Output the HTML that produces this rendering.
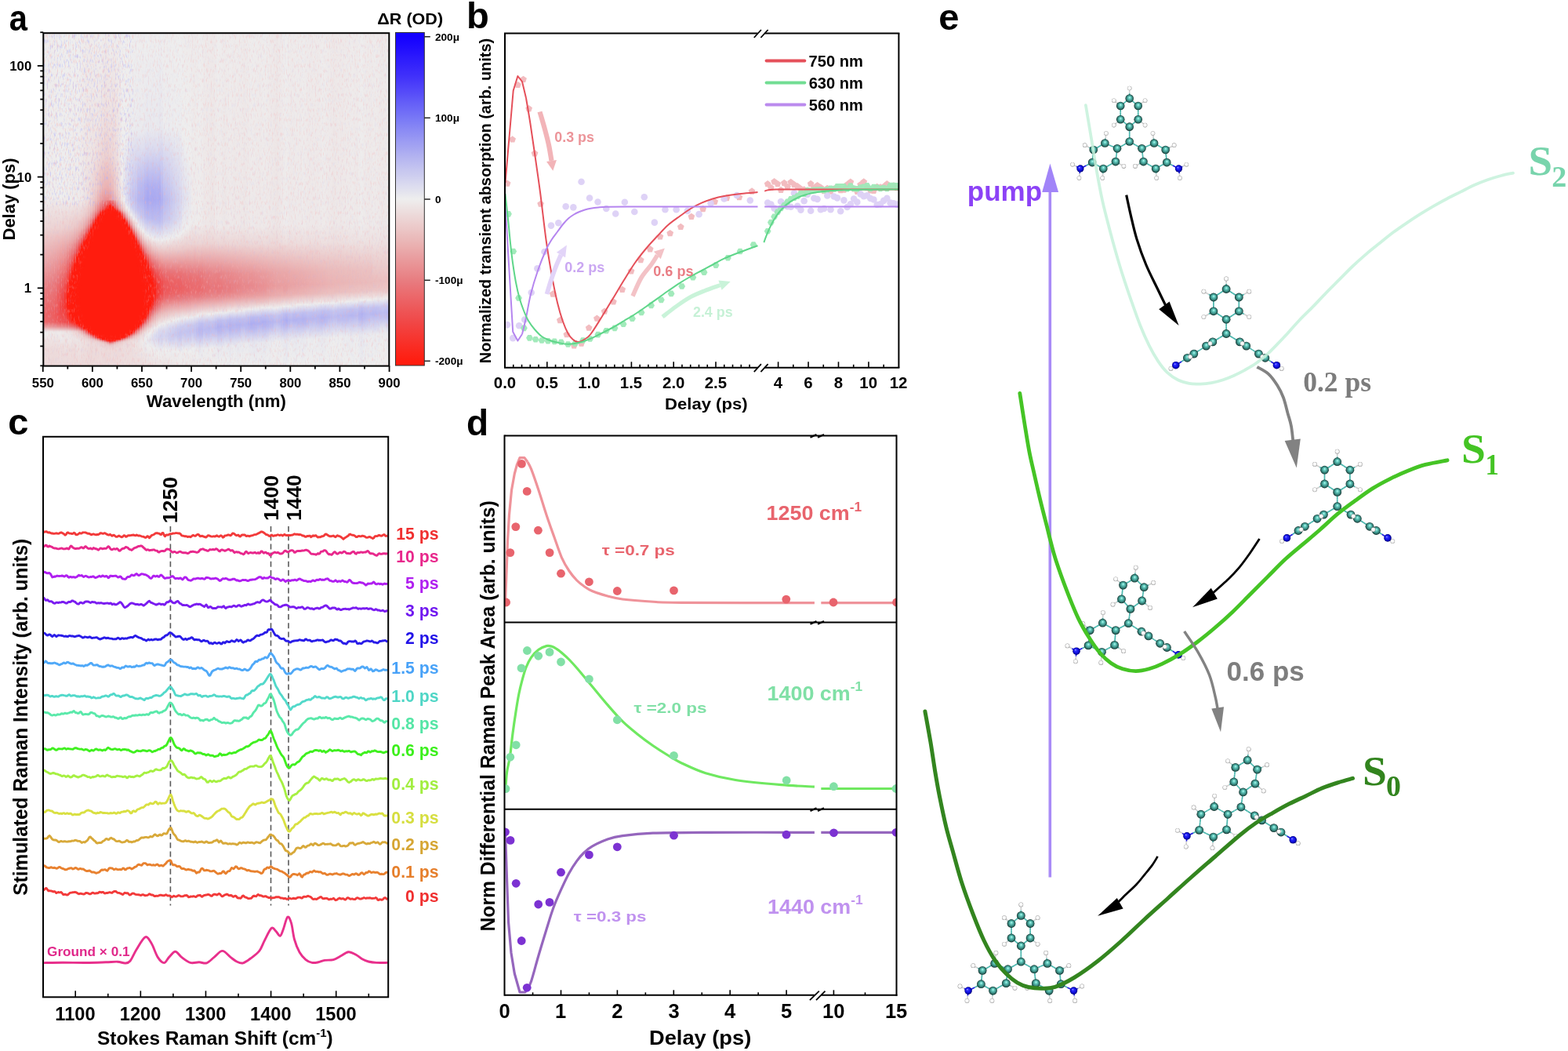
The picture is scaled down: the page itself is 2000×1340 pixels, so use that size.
<!DOCTYPE html>
<html><head><meta charset="utf-8"><title>Figure</title>
<style>html,body{margin:0;padding:0;background:#fff;overflow:hidden;width:2000px;height:1340px;}svg{display:block;}</style></head>
<body><svg width="2000" height="1340" viewBox="0 0 2000 1340">
<rect width="2000" height="1340" fill="#fff"/>
<defs><linearGradient id="h0" x1="0" y1="0" x2="0" y2="1"><stop offset="0.000" stop-color="#eeeeee"/><stop offset="0.491" stop-color="#eeeeee"/><stop offset="0.586" stop-color="#ecd6d6"/><stop offset="0.774" stop-color="#e87c80"/><stop offset="0.845" stop-color="#eb6769"/><stop offset="0.869" stop-color="#eb6b6e"/><stop offset="0.883" stop-color="#e99c9d"/><stop offset="0.897" stop-color="#ede7e7"/><stop offset="0.902" stop-color="#eeeded"/><stop offset="0.949" stop-color="#eddcdc"/><stop offset="0.996" stop-color="#eddbdb"/></linearGradient><linearGradient id="h1" x1="0" y1="0" x2="0" y2="1"><stop offset="0.000" stop-color="#eeeeee"/><stop offset="0.491" stop-color="#eeeeee"/><stop offset="0.586" stop-color="#ecd6d6"/><stop offset="0.770" stop-color="#e87b7f"/><stop offset="0.845" stop-color="#ec6466"/><stop offset="0.869" stop-color="#eb686b"/><stop offset="0.883" stop-color="#e99a9c"/><stop offset="0.897" stop-color="#ede6e6"/><stop offset="0.902" stop-color="#eeecec"/><stop offset="0.949" stop-color="#eddcdc"/><stop offset="0.996" stop-color="#eddbdb"/></linearGradient><linearGradient id="h2" x1="0" y1="0" x2="0" y2="1"><stop offset="0.000" stop-color="#eeeded"/><stop offset="0.491" stop-color="#eeeded"/><stop offset="0.586" stop-color="#ecd5d5"/><stop offset="0.760" stop-color="#e87d81"/><stop offset="0.845" stop-color="#ec6264"/><stop offset="0.869" stop-color="#eb676a"/><stop offset="0.883" stop-color="#e9989a"/><stop offset="0.897" stop-color="#ede5e5"/><stop offset="0.902" stop-color="#eeebeb"/><stop offset="0.949" stop-color="#eddcdc"/><stop offset="0.996" stop-color="#eddada"/></linearGradient><linearGradient id="h3" x1="0" y1="0" x2="0" y2="1"><stop offset="0.000" stop-color="#eeecec"/><stop offset="0.491" stop-color="#eeecec"/><stop offset="0.586" stop-color="#ecd3d3"/><stop offset="0.756" stop-color="#e87d81"/><stop offset="0.845" stop-color="#ec6062"/><stop offset="0.869" stop-color="#eb6668"/><stop offset="0.883" stop-color="#e99799"/><stop offset="0.897" stop-color="#ede4e4"/><stop offset="0.902" stop-color="#eeeaea"/><stop offset="0.949" stop-color="#eddbdb"/><stop offset="0.996" stop-color="#ecdada"/></linearGradient><linearGradient id="h4" x1="0" y1="0" x2="0" y2="1"><stop offset="0.000" stop-color="#eeecec"/><stop offset="0.491" stop-color="#eeecec"/><stop offset="0.586" stop-color="#ecd3d3"/><stop offset="0.751" stop-color="#e87b7f"/><stop offset="0.845" stop-color="#ed5d5e"/><stop offset="0.869" stop-color="#ec6365"/><stop offset="0.883" stop-color="#e99497"/><stop offset="0.897" stop-color="#ede3e3"/><stop offset="0.902" stop-color="#eee9e9"/><stop offset="0.949" stop-color="#eddbdb"/><stop offset="0.996" stop-color="#ecd9d9"/></linearGradient><linearGradient id="h5" x1="0" y1="0" x2="0" y2="1"><stop offset="0.000" stop-color="#eeecec"/><stop offset="0.491" stop-color="#eeecec"/><stop offset="0.586" stop-color="#ecd2d2"/><stop offset="0.751" stop-color="#e9767a"/><stop offset="0.845" stop-color="#ed585a"/><stop offset="0.869" stop-color="#ec5f61"/><stop offset="0.883" stop-color="#e99294"/><stop offset="0.897" stop-color="#ede2e2"/><stop offset="0.902" stop-color="#eee9e9"/><stop offset="0.949" stop-color="#eddbdb"/><stop offset="0.996" stop-color="#ecdada"/></linearGradient><linearGradient id="h6" x1="0" y1="0" x2="0" y2="1"><stop offset="0.000" stop-color="#eeeeee"/><stop offset="0.491" stop-color="#eeeeee"/><stop offset="0.586" stop-color="#ecd2d2"/><stop offset="0.756" stop-color="#ea6c6f"/><stop offset="0.793" stop-color="#ed5b5c"/><stop offset="0.845" stop-color="#ef5051"/><stop offset="0.869" stop-color="#ed585a"/><stop offset="0.883" stop-color="#e98e90"/><stop offset="0.897" stop-color="#ede3e3"/><stop offset="0.902" stop-color="#eeeaea"/><stop offset="0.949" stop-color="#eddcdc"/><stop offset="0.996" stop-color="#eddbdb"/></linearGradient><linearGradient id="h7" x1="0" y1="0" x2="0" y2="1"><stop offset="0.000" stop-color="#ececee"/><stop offset="0.496" stop-color="#eeeeee"/><stop offset="0.586" stop-color="#ecd2d2"/><stop offset="0.751" stop-color="#eb6668"/><stop offset="0.789" stop-color="#ef5252"/><stop offset="0.826" stop-color="#f04848"/><stop offset="0.869" stop-color="#ee5354"/><stop offset="0.883" stop-color="#e88a8d"/><stop offset="0.897" stop-color="#ede3e3"/><stop offset="0.902" stop-color="#eeeaea"/><stop offset="0.921" stop-color="#eeeaea"/><stop offset="0.949" stop-color="#eddddd"/><stop offset="0.996" stop-color="#eddcdc"/></linearGradient><linearGradient id="h8" x1="0" y1="0" x2="0" y2="1"><stop offset="0.000" stop-color="#eeeeee"/><stop offset="0.491" stop-color="#eeeded"/><stop offset="0.586" stop-color="#ecd0d0"/><stop offset="0.756" stop-color="#ed5b5c"/><stop offset="0.789" stop-color="#f04848"/><stop offset="0.826" stop-color="#f24240"/><stop offset="0.869" stop-color="#ef5252"/><stop offset="0.883" stop-color="#e8898c"/><stop offset="0.897" stop-color="#ede0e0"/><stop offset="0.902" stop-color="#eee8e8"/><stop offset="0.921" stop-color="#eee8e8"/><stop offset="0.949" stop-color="#eddcdc"/><stop offset="0.996" stop-color="#eddbdb"/></linearGradient><linearGradient id="h9" x1="0" y1="0" x2="0" y2="1"><stop offset="0.000" stop-color="#eeeded"/><stop offset="0.491" stop-color="#eeeded"/><stop offset="0.586" stop-color="#eccfcf"/><stop offset="0.652" stop-color="#e9a1a3"/><stop offset="0.760" stop-color="#f04a4a"/><stop offset="0.789" stop-color="#f53a35"/><stop offset="0.826" stop-color="#f63631"/><stop offset="0.869" stop-color="#ef4e4e"/><stop offset="0.883" stop-color="#e88689"/><stop offset="0.897" stop-color="#eddede"/><stop offset="0.902" stop-color="#ede6e6"/><stop offset="0.996" stop-color="#eddada"/></linearGradient><linearGradient id="h10" x1="0" y1="0" x2="0" y2="1"><stop offset="0.000" stop-color="#eeeeee"/><stop offset="0.501" stop-color="#eeecec"/><stop offset="0.581" stop-color="#ecd0d0"/><stop offset="0.619" stop-color="#eab7b7"/><stop offset="0.694" stop-color="#ea7174"/><stop offset="0.751" stop-color="#f53934"/><stop offset="0.793" stop-color="#ff1d0f"/><stop offset="0.826" stop-color="#fe1f12"/><stop offset="0.869" stop-color="#f14443"/><stop offset="0.883" stop-color="#e87f83"/><stop offset="0.897" stop-color="#eddddd"/><stop offset="0.902" stop-color="#ede5e5"/><stop offset="0.921" stop-color="#eee8e8"/><stop offset="0.949" stop-color="#eddcdc"/><stop offset="0.996" stop-color="#eddbdb"/></linearGradient><linearGradient id="h11" x1="0" y1="0" x2="0" y2="1"><stop offset="0.000" stop-color="#ededee"/><stop offset="0.501" stop-color="#eeecec"/><stop offset="0.586" stop-color="#ebcccc"/><stop offset="0.623" stop-color="#eaafb0"/><stop offset="0.694" stop-color="#ec5f61"/><stop offset="0.751" stop-color="#ff1c0e"/><stop offset="0.845" stop-color="#ff1c0e"/><stop offset="0.850" stop-color="#fd2114"/><stop offset="0.869" stop-color="#f53a35"/><stop offset="0.883" stop-color="#e9797c"/><stop offset="0.897" stop-color="#eddada"/><stop offset="0.902" stop-color="#ede3e3"/><stop offset="0.921" stop-color="#eee8e8"/><stop offset="0.949" stop-color="#eddddd"/><stop offset="0.996" stop-color="#eddbdb"/></linearGradient><linearGradient id="h12" x1="0" y1="0" x2="0" y2="1"><stop offset="0.000" stop-color="#eeeeee"/><stop offset="0.501" stop-color="#eeebeb"/><stop offset="0.586" stop-color="#ebcaca"/><stop offset="0.623" stop-color="#e9a9aa"/><stop offset="0.666" stop-color="#ea7175"/><stop offset="0.723" stop-color="#ff1c0e"/><stop offset="0.860" stop-color="#ff1c0e"/><stop offset="0.864" stop-color="#fe2013"/><stop offset="0.869" stop-color="#f92d25"/><stop offset="0.883" stop-color="#ea7275"/><stop offset="0.897" stop-color="#ecd5d5"/><stop offset="0.902" stop-color="#eddfdf"/><stop offset="0.921" stop-color="#ede6e6"/><stop offset="0.949" stop-color="#eddcdc"/><stop offset="0.996" stop-color="#eddbdb"/></linearGradient><linearGradient id="h13" x1="0" y1="0" x2="0" y2="1"><stop offset="0.000" stop-color="#eeeded"/><stop offset="0.501" stop-color="#eeeaea"/><stop offset="0.581" stop-color="#ebc9c9"/><stop offset="0.619" stop-color="#e9a6a7"/><stop offset="0.656" stop-color="#ea6d70"/><stop offset="0.699" stop-color="#ff1c0e"/><stop offset="0.869" stop-color="#ff1c0e"/><stop offset="0.883" stop-color="#eb6669"/><stop offset="0.897" stop-color="#eccfcf"/><stop offset="0.902" stop-color="#eddada"/><stop offset="0.921" stop-color="#ede4e4"/><stop offset="0.949" stop-color="#eddbdb"/><stop offset="0.996" stop-color="#eddada"/></linearGradient><linearGradient id="h14" x1="0" y1="0" x2="0" y2="1"><stop offset="0.000" stop-color="#eeeeee"/><stop offset="0.501" stop-color="#eeebeb"/><stop offset="0.581" stop-color="#ebc6c6"/><stop offset="0.609" stop-color="#e9a8a9"/><stop offset="0.628" stop-color="#e8898d"/><stop offset="0.647" stop-color="#ec6366"/><stop offset="0.661" stop-color="#f24240"/><stop offset="0.675" stop-color="#ff1c0e"/><stop offset="0.874" stop-color="#ff1c0e"/><stop offset="0.883" stop-color="#ef5152"/><stop offset="0.888" stop-color="#e8797d"/><stop offset="0.897" stop-color="#ebc7c7"/><stop offset="0.902" stop-color="#ecd4d4"/><stop offset="0.921" stop-color="#ede4e4"/><stop offset="0.996" stop-color="#eddbdb"/></linearGradient><linearGradient id="h15" x1="0" y1="0" x2="0" y2="1"><stop offset="0.000" stop-color="#eeeeee"/><stop offset="0.501" stop-color="#eeeaea"/><stop offset="0.557" stop-color="#ecd1d1"/><stop offset="0.595" stop-color="#eab1b1"/><stop offset="0.628" stop-color="#ea7275"/><stop offset="0.647" stop-color="#f33e3b"/><stop offset="0.656" stop-color="#fd2216"/><stop offset="0.661" stop-color="#ff1c0e"/><stop offset="0.878" stop-color="#ff1c0e"/><stop offset="0.883" stop-color="#f7342e"/><stop offset="0.888" stop-color="#ec6264"/><stop offset="0.897" stop-color="#eababa"/><stop offset="0.907" stop-color="#ecd4d4"/><stop offset="0.926" stop-color="#ede4e4"/><stop offset="0.996" stop-color="#eddbdb"/></linearGradient><linearGradient id="h16" x1="0" y1="0" x2="0" y2="1"><stop offset="0.000" stop-color="#eeecec"/><stop offset="0.501" stop-color="#eee8e8"/><stop offset="0.553" stop-color="#eccfcf"/><stop offset="0.586" stop-color="#eab4b4"/><stop offset="0.619" stop-color="#ea6e70"/><stop offset="0.628" stop-color="#ef5151"/><stop offset="0.642" stop-color="#fe1f11"/><stop offset="0.647" stop-color="#ff1c0e"/><stop offset="0.883" stop-color="#ff1c0e"/><stop offset="0.888" stop-color="#f2413f"/><stop offset="0.893" stop-color="#e97477"/><stop offset="0.897" stop-color="#e9a5a6"/><stop offset="0.902" stop-color="#eabcbc"/><stop offset="0.911" stop-color="#ecd4d4"/><stop offset="0.926" stop-color="#ede1e1"/><stop offset="0.996" stop-color="#eddada"/></linearGradient><linearGradient id="h17" x1="0" y1="0" x2="0" y2="1"><stop offset="0.000" stop-color="#eeebeb"/><stop offset="0.501" stop-color="#ede5e5"/><stop offset="0.553" stop-color="#ebcaca"/><stop offset="0.586" stop-color="#e9a5a6"/><stop offset="0.609" stop-color="#eb6769"/><stop offset="0.619" stop-color="#f14646"/><stop offset="0.628" stop-color="#fd2115"/><stop offset="0.633" stop-color="#ff1c0e"/><stop offset="0.888" stop-color="#ff1c0e"/><stop offset="0.897" stop-color="#e88386"/><stop offset="0.907" stop-color="#eabcbc"/><stop offset="0.916" stop-color="#ecd4d4"/><stop offset="0.926" stop-color="#eddfdf"/><stop offset="0.996" stop-color="#ecd9d9"/></linearGradient><linearGradient id="h18" x1="0" y1="0" x2="0" y2="1"><stop offset="0.000" stop-color="#eeeaea"/><stop offset="0.501" stop-color="#ede1e1"/><stop offset="0.548" stop-color="#ebc6c6"/><stop offset="0.576" stop-color="#e9a3a4"/><stop offset="0.595" stop-color="#ea6f73"/><stop offset="0.614" stop-color="#fc261b"/><stop offset="0.619" stop-color="#ff1c0e"/><stop offset="0.893" stop-color="#ff1c0e"/><stop offset="0.897" stop-color="#ee5354"/><stop offset="0.907" stop-color="#e9a5a6"/><stop offset="0.911" stop-color="#eabebe"/><stop offset="0.921" stop-color="#ecd7d7"/><stop offset="0.930" stop-color="#eddede"/><stop offset="0.996" stop-color="#ecd9d9"/></linearGradient><linearGradient id="h19" x1="0" y1="0" x2="0" y2="1"><stop offset="0.000" stop-color="#eeeaea"/><stop offset="0.373" stop-color="#ede6e6"/><stop offset="0.501" stop-color="#eddbdb"/><stop offset="0.548" stop-color="#eabcbc"/><stop offset="0.571" stop-color="#e99496"/><stop offset="0.586" stop-color="#eb6a6d"/><stop offset="0.595" stop-color="#f2413f"/><stop offset="0.600" stop-color="#fa2920"/><stop offset="0.604" stop-color="#ff1c0e"/><stop offset="0.897" stop-color="#ff1c0e"/><stop offset="0.902" stop-color="#f04848"/><stop offset="0.907" stop-color="#e88084"/><stop offset="0.911" stop-color="#e9a9aa"/><stop offset="0.921" stop-color="#ecd2d2"/><stop offset="0.930" stop-color="#eddcdc"/><stop offset="0.996" stop-color="#ecd8d8"/></linearGradient><linearGradient id="h20" x1="0" y1="0" x2="0" y2="1"><stop offset="0.000" stop-color="#eeebeb"/><stop offset="0.373" stop-color="#ede4e4"/><stop offset="0.501" stop-color="#ecd5d5"/><stop offset="0.534" stop-color="#ebbfbf"/><stop offset="0.557" stop-color="#e9989a"/><stop offset="0.576" stop-color="#ed5e60"/><stop offset="0.581" stop-color="#f04a4a"/><stop offset="0.590" stop-color="#ff1c0e"/><stop offset="0.902" stop-color="#ff1c0e"/><stop offset="0.907" stop-color="#f04949"/><stop offset="0.911" stop-color="#e88488"/><stop offset="0.921" stop-color="#ebcaca"/><stop offset="0.926" stop-color="#ecd7d7"/><stop offset="0.996" stop-color="#ecd9d9"/></linearGradient><linearGradient id="h21" x1="0" y1="0" x2="0" y2="1"><stop offset="0.000" stop-color="#eeecec"/><stop offset="0.368" stop-color="#ede2e2"/><stop offset="0.491" stop-color="#eccfcf"/><stop offset="0.529" stop-color="#eab6b6"/><stop offset="0.548" stop-color="#e99194"/><stop offset="0.557" stop-color="#e97477"/><stop offset="0.567" stop-color="#ef4d4d"/><stop offset="0.576" stop-color="#fd2216"/><stop offset="0.581" stop-color="#ff1c0e"/><stop offset="0.907" stop-color="#ff1c0e"/><stop offset="0.911" stop-color="#ef4e4f"/><stop offset="0.916" stop-color="#e8898c"/><stop offset="0.921" stop-color="#eabebe"/><stop offset="0.926" stop-color="#ecd3d3"/><stop offset="0.935" stop-color="#eddbdb"/><stop offset="0.996" stop-color="#ecdada"/></linearGradient><linearGradient id="h22" x1="0" y1="0" x2="0" y2="1"><stop offset="0.000" stop-color="#eeecec"/><stop offset="0.255" stop-color="#ede6e6"/><stop offset="0.373" stop-color="#eddede"/><stop offset="0.468" stop-color="#eccece"/><stop offset="0.501" stop-color="#ebc0c0"/><stop offset="0.534" stop-color="#e9989a"/><stop offset="0.548" stop-color="#eb6b6e"/><stop offset="0.557" stop-color="#f2413f"/><stop offset="0.562" stop-color="#fc261b"/><stop offset="0.567" stop-color="#ff1c0e"/><stop offset="0.911" stop-color="#ff1c0e"/><stop offset="0.916" stop-color="#ee5555"/><stop offset="0.921" stop-color="#e9a7a9"/><stop offset="0.926" stop-color="#ebcbcb"/><stop offset="0.930" stop-color="#ecd7d7"/><stop offset="0.996" stop-color="#eddada"/></linearGradient><linearGradient id="h23" x1="0" y1="0" x2="0" y2="1"><stop offset="0.000" stop-color="#eeeeee"/><stop offset="0.255" stop-color="#ede5e5"/><stop offset="0.373" stop-color="#eddbdb"/><stop offset="0.468" stop-color="#ebc5c5"/><stop offset="0.501" stop-color="#eab2b2"/><stop offset="0.529" stop-color="#e8888b"/><stop offset="0.534" stop-color="#e8797d"/><stop offset="0.543" stop-color="#ef4d4d"/><stop offset="0.553" stop-color="#ff1d10"/><stop offset="0.557" stop-color="#ff1c0e"/><stop offset="0.916" stop-color="#ff1c0e"/><stop offset="0.921" stop-color="#e88185"/><stop offset="0.926" stop-color="#ebbfbf"/><stop offset="0.930" stop-color="#ecd3d3"/><stop offset="0.940" stop-color="#eddbdb"/><stop offset="0.996" stop-color="#eddbdb"/></linearGradient><linearGradient id="h24" x1="0" y1="0" x2="0" y2="1"><stop offset="0.000" stop-color="#eeeeee"/><stop offset="0.255" stop-color="#ede4e4"/><stop offset="0.373" stop-color="#ecd7d7"/><stop offset="0.468" stop-color="#eabcbc"/><stop offset="0.501" stop-color="#e9a3a5"/><stop offset="0.524" stop-color="#e9777b"/><stop offset="0.529" stop-color="#eb6b6e"/><stop offset="0.534" stop-color="#ee5556"/><stop offset="0.538" stop-color="#f7332c"/><stop offset="0.543" stop-color="#ff1c0e"/><stop offset="0.916" stop-color="#ff1c0e"/><stop offset="0.921" stop-color="#f04949"/><stop offset="0.926" stop-color="#eaaaab"/><stop offset="0.930" stop-color="#ebcbcb"/><stop offset="0.935" stop-color="#ecd6d6"/><stop offset="0.945" stop-color="#eddbdb"/><stop offset="0.996" stop-color="#eddbdb"/></linearGradient><linearGradient id="h25" x1="0" y1="0" x2="0" y2="1"><stop offset="0.000" stop-color="#eeecec"/><stop offset="0.255" stop-color="#ede1e1"/><stop offset="0.373" stop-color="#ecd3d3"/><stop offset="0.463" stop-color="#eab7b7"/><stop offset="0.501" stop-color="#e9999b"/><stop offset="0.505" stop-color="#e8888b"/><stop offset="0.524" stop-color="#ec6264"/><stop offset="0.529" stop-color="#ef4e4e"/><stop offset="0.534" stop-color="#f82f27"/><stop offset="0.538" stop-color="#ff1c0e"/><stop offset="0.921" stop-color="#ff1c0e"/><stop offset="0.926" stop-color="#e8898c"/><stop offset="0.930" stop-color="#ebc0c0"/><stop offset="0.935" stop-color="#ecd0d0"/><stop offset="0.949" stop-color="#eddada"/><stop offset="0.996" stop-color="#eddada"/></linearGradient><linearGradient id="h26" x1="0" y1="0" x2="0" y2="1"><stop offset="0.000" stop-color="#eeeaea"/><stop offset="0.255" stop-color="#eddede"/><stop offset="0.373" stop-color="#ecd0d0"/><stop offset="0.463" stop-color="#eab3b3"/><stop offset="0.501" stop-color="#e99496"/><stop offset="0.505" stop-color="#e87e82"/><stop offset="0.524" stop-color="#f04a4a"/><stop offset="0.529" stop-color="#f92e26"/><stop offset="0.534" stop-color="#ff1c0e"/><stop offset="0.921" stop-color="#ff1c0e"/><stop offset="0.926" stop-color="#ed5a5c"/><stop offset="0.930" stop-color="#eaadae"/><stop offset="0.935" stop-color="#ebc8c8"/><stop offset="0.949" stop-color="#ecd8d8"/><stop offset="0.996" stop-color="#ecd9d9"/></linearGradient><linearGradient id="h27" x1="0" y1="0" x2="0" y2="1"><stop offset="0.000" stop-color="#eeebeb"/><stop offset="0.255" stop-color="#eddfdf"/><stop offset="0.373" stop-color="#ecd0d0"/><stop offset="0.463" stop-color="#eab2b3"/><stop offset="0.501" stop-color="#e99294"/><stop offset="0.505" stop-color="#e97578"/><stop offset="0.515" stop-color="#ee5657"/><stop offset="0.524" stop-color="#fa2920"/><stop offset="0.529" stop-color="#ff1c0e"/><stop offset="0.926" stop-color="#ff1c0e"/><stop offset="0.930" stop-color="#e98d90"/><stop offset="0.935" stop-color="#eabdbd"/><stop offset="0.940" stop-color="#eccfcf"/><stop offset="0.954" stop-color="#eddada"/><stop offset="0.996" stop-color="#eddada"/></linearGradient><linearGradient id="h28" x1="0" y1="0" x2="0" y2="1"><stop offset="0.000" stop-color="#eeeded"/><stop offset="0.250" stop-color="#ede2e2"/><stop offset="0.368" stop-color="#ecd4d4"/><stop offset="0.463" stop-color="#eab6b7"/><stop offset="0.501" stop-color="#e99698"/><stop offset="0.505" stop-color="#ea6d6f"/><stop offset="0.515" stop-color="#f33f3d"/><stop offset="0.519" stop-color="#fe2013"/><stop offset="0.524" stop-color="#ff1c0e"/><stop offset="0.926" stop-color="#ff1c0e"/><stop offset="0.930" stop-color="#ed595a"/><stop offset="0.935" stop-color="#e9a9aa"/><stop offset="0.940" stop-color="#ebc8c8"/><stop offset="0.945" stop-color="#ecd4d4"/><stop offset="0.954" stop-color="#eddbdb"/><stop offset="0.996" stop-color="#eddbdb"/></linearGradient><linearGradient id="h29" x1="0" y1="0" x2="0" y2="1"><stop offset="0.000" stop-color="#eeeded"/><stop offset="0.368" stop-color="#ecd7d7"/><stop offset="0.468" stop-color="#eabcbc"/><stop offset="0.501" stop-color="#e9a2a4"/><stop offset="0.505" stop-color="#e87c80"/><stop offset="0.515" stop-color="#ee5455"/><stop offset="0.524" stop-color="#ff1c0e"/><stop offset="0.926" stop-color="#ff1c0e"/><stop offset="0.930" stop-color="#ea6d6f"/><stop offset="0.935" stop-color="#eab1b2"/><stop offset="0.940" stop-color="#ebcbcb"/><stop offset="0.954" stop-color="#eddbdb"/><stop offset="0.996" stop-color="#eddbdb"/></linearGradient><linearGradient id="h30" x1="0" y1="0" x2="0" y2="1"><stop offset="0.000" stop-color="#eeecec"/><stop offset="0.368" stop-color="#eddbdb"/><stop offset="0.468" stop-color="#ebc7c7"/><stop offset="0.501" stop-color="#eab3b3"/><stop offset="0.505" stop-color="#e9999b"/><stop offset="0.519" stop-color="#eb686a"/><stop offset="0.524" stop-color="#ef5051"/><stop offset="0.529" stop-color="#fc261b"/><stop offset="0.534" stop-color="#ff1c0e"/><stop offset="0.921" stop-color="#ff1c0e"/><stop offset="0.926" stop-color="#fa2c23"/><stop offset="0.930" stop-color="#e9999b"/><stop offset="0.935" stop-color="#ebc2c2"/><stop offset="0.940" stop-color="#ecd1d1"/><stop offset="0.954" stop-color="#eddbdb"/><stop offset="0.996" stop-color="#eddada"/></linearGradient><linearGradient id="h31" x1="0" y1="0" x2="0" y2="1"><stop offset="0.000" stop-color="#eeecec"/><stop offset="0.373" stop-color="#ede0e0"/><stop offset="0.468" stop-color="#ecd3d3"/><stop offset="0.501" stop-color="#ebc4c4"/><stop offset="0.515" stop-color="#e99ea0"/><stop offset="0.524" stop-color="#e87f83"/><stop offset="0.529" stop-color="#ec6163"/><stop offset="0.534" stop-color="#f7322b"/><stop offset="0.538" stop-color="#ff1c0e"/><stop offset="0.921" stop-color="#ff1c0e"/><stop offset="0.926" stop-color="#eb6b6d"/><stop offset="0.930" stop-color="#eab5b5"/><stop offset="0.935" stop-color="#ebcccc"/><stop offset="0.949" stop-color="#eddada"/><stop offset="0.996" stop-color="#eddbdb"/></linearGradient><linearGradient id="h32" x1="0" y1="0" x2="0" y2="1"><stop offset="0.000" stop-color="#eeecec"/><stop offset="0.373" stop-color="#ede6e6"/><stop offset="0.463" stop-color="#ede0e0"/><stop offset="0.501" stop-color="#ecd4d4"/><stop offset="0.524" stop-color="#e9a8a9"/><stop offset="0.529" stop-color="#e99395"/><stop offset="0.534" stop-color="#ea7074"/><stop offset="0.538" stop-color="#f43d3a"/><stop offset="0.543" stop-color="#ff1c0e"/><stop offset="0.916" stop-color="#ff1c0e"/><stop offset="0.921" stop-color="#fd2114"/><stop offset="0.926" stop-color="#e99799"/><stop offset="0.930" stop-color="#ebc4c4"/><stop offset="0.935" stop-color="#ecd2d2"/><stop offset="0.954" stop-color="#eddbdb"/><stop offset="0.996" stop-color="#eddbdb"/></linearGradient><linearGradient id="h33" x1="0" y1="0" x2="0" y2="1"><stop offset="0.000" stop-color="#eeeded"/><stop offset="0.449" stop-color="#eeeded"/><stop offset="0.501" stop-color="#ede5e5"/><stop offset="0.524" stop-color="#ebc6c6"/><stop offset="0.529" stop-color="#eab9b9"/><stop offset="0.534" stop-color="#e9a3a4"/><stop offset="0.543" stop-color="#ed5c5e"/><stop offset="0.553" stop-color="#ff1c0e"/><stop offset="0.916" stop-color="#ff1c0e"/><stop offset="0.921" stop-color="#ec6163"/><stop offset="0.926" stop-color="#eab3b4"/><stop offset="0.930" stop-color="#eccece"/><stop offset="0.945" stop-color="#eddbdb"/><stop offset="0.996" stop-color="#eddcdc"/></linearGradient><linearGradient id="h34" x1="0" y1="0" x2="0" y2="1"><stop offset="0.000" stop-color="#eeeeee"/><stop offset="0.321" stop-color="#eeeeee"/><stop offset="0.463" stop-color="#e3e3ee"/><stop offset="0.505" stop-color="#eeeded"/><stop offset="0.524" stop-color="#eddddd"/><stop offset="0.534" stop-color="#ebc7c7"/><stop offset="0.548" stop-color="#e87f82"/><stop offset="0.553" stop-color="#ec6163"/><stop offset="0.562" stop-color="#ff1c0e"/><stop offset="0.911" stop-color="#ff1c0e"/><stop offset="0.916" stop-color="#fc2318"/><stop offset="0.921" stop-color="#e98f92"/><stop offset="0.926" stop-color="#ebc5c5"/><stop offset="0.930" stop-color="#ecd5d5"/><stop offset="0.940" stop-color="#eddddd"/><stop offset="0.996" stop-color="#eddddd"/></linearGradient><linearGradient id="h35" x1="0" y1="0" x2="0" y2="1"><stop offset="0.000" stop-color="#eeeded"/><stop offset="0.298" stop-color="#eeeeee"/><stop offset="0.468" stop-color="#dbdbef"/><stop offset="0.501" stop-color="#ddddef"/><stop offset="0.524" stop-color="#eeeeee"/><stop offset="0.534" stop-color="#eddfdf"/><stop offset="0.553" stop-color="#e9a0a2"/><stop offset="0.557" stop-color="#e88589"/><stop offset="0.571" stop-color="#fa2a21"/><stop offset="0.576" stop-color="#ff1c0e"/><stop offset="0.911" stop-color="#ff1c0e"/><stop offset="0.916" stop-color="#eb6668"/><stop offset="0.921" stop-color="#eab0b1"/><stop offset="0.926" stop-color="#eccfcf"/><stop offset="0.935" stop-color="#eddcdc"/><stop offset="0.996" stop-color="#eddddd"/></linearGradient><linearGradient id="h36" x1="0" y1="0" x2="0" y2="1"><stop offset="0.000" stop-color="#eeeeee"/><stop offset="0.288" stop-color="#ececee"/><stop offset="0.482" stop-color="#d2d2ef"/><stop offset="0.501" stop-color="#d2d2ef"/><stop offset="0.534" stop-color="#ebebee"/><stop offset="0.548" stop-color="#ecd5d5"/><stop offset="0.557" stop-color="#eab9b9"/><stop offset="0.562" stop-color="#e9a3a5"/><stop offset="0.576" stop-color="#ed5b5c"/><stop offset="0.586" stop-color="#ff1c0e"/><stop offset="0.907" stop-color="#ff1c0e"/><stop offset="0.911" stop-color="#ed5f60"/><stop offset="0.916" stop-color="#e99497"/><stop offset="0.921" stop-color="#ebc3c3"/><stop offset="0.926" stop-color="#ecd6d6"/><stop offset="0.935" stop-color="#eddede"/><stop offset="0.996" stop-color="#eddddd"/></linearGradient><linearGradient id="h37" x1="0" y1="0" x2="0" y2="1"><stop offset="0.000" stop-color="#eeeeee"/><stop offset="0.288" stop-color="#ebebee"/><stop offset="0.491" stop-color="#c8c8ef"/><stop offset="0.524" stop-color="#d3d3ef"/><stop offset="0.543" stop-color="#eaeaee"/><stop offset="0.548" stop-color="#eeebeb"/><stop offset="0.557" stop-color="#ecd8d8"/><stop offset="0.576" stop-color="#e99b9d"/><stop offset="0.586" stop-color="#eb6a6c"/><stop offset="0.595" stop-color="#f92d24"/><stop offset="0.600" stop-color="#ff1c0e"/><stop offset="0.902" stop-color="#ff1c0e"/><stop offset="0.907" stop-color="#ee5657"/><stop offset="0.911" stop-color="#e98f91"/><stop offset="0.921" stop-color="#eccfcf"/><stop offset="0.926" stop-color="#eddbdb"/><stop offset="0.996" stop-color="#eddede"/></linearGradient><linearGradient id="h38" x1="0" y1="0" x2="0" y2="1"><stop offset="0.000" stop-color="#eeeded"/><stop offset="0.288" stop-color="#ebebee"/><stop offset="0.496" stop-color="#c3c3f0"/><stop offset="0.529" stop-color="#cfcfef"/><stop offset="0.557" stop-color="#eeeded"/><stop offset="0.576" stop-color="#ebc6c6"/><stop offset="0.586" stop-color="#e9a6a7"/><stop offset="0.595" stop-color="#e9777b"/><stop offset="0.609" stop-color="#fb291f"/><stop offset="0.614" stop-color="#ff1c0e"/><stop offset="0.893" stop-color="#ff1c0e"/><stop offset="0.897" stop-color="#fd2317"/><stop offset="0.907" stop-color="#e88a8d"/><stop offset="0.911" stop-color="#eab0b1"/><stop offset="0.921" stop-color="#ecd6d6"/><stop offset="0.930" stop-color="#ede0e0"/><stop offset="0.996" stop-color="#eddede"/></linearGradient><linearGradient id="h39" x1="0" y1="0" x2="0" y2="1"><stop offset="0.000" stop-color="#eeeded"/><stop offset="0.283" stop-color="#ebebee"/><stop offset="0.501" stop-color="#bebef0"/><stop offset="0.534" stop-color="#cbcbef"/><stop offset="0.567" stop-color="#eeeeee"/><stop offset="0.581" stop-color="#ecd6d6"/><stop offset="0.595" stop-color="#eaaeae"/><stop offset="0.609" stop-color="#ea7174"/><stop offset="0.623" stop-color="#fb281e"/><stop offset="0.628" stop-color="#ff1c0e"/><stop offset="0.888" stop-color="#ff1c0e"/><stop offset="0.893" stop-color="#f7352e"/><stop offset="0.897" stop-color="#ec6466"/><stop offset="0.907" stop-color="#eaadad"/><stop offset="0.911" stop-color="#ebc3c3"/><stop offset="0.921" stop-color="#eddbdb"/><stop offset="0.930" stop-color="#ede2e2"/><stop offset="0.996" stop-color="#eddede"/></linearGradient><linearGradient id="h40" x1="0" y1="0" x2="0" y2="1"><stop offset="0.000" stop-color="#eeeeee"/><stop offset="0.288" stop-color="#eaeaee"/><stop offset="0.349" stop-color="#dedeef"/><stop offset="0.458" stop-color="#bcbcf0"/><stop offset="0.501" stop-color="#b7b7f0"/><stop offset="0.534" stop-color="#c3c3f0"/><stop offset="0.576" stop-color="#ebebee"/><stop offset="0.581" stop-color="#eeeaea"/><stop offset="0.590" stop-color="#ecd9d9"/><stop offset="0.609" stop-color="#e9a5a7"/><stop offset="0.623" stop-color="#ea6c6f"/><stop offset="0.638" stop-color="#fc2418"/><stop offset="0.642" stop-color="#ff1c0e"/><stop offset="0.883" stop-color="#ff1c0e"/><stop offset="0.893" stop-color="#ea7074"/><stop offset="0.897" stop-color="#e99396"/><stop offset="0.907" stop-color="#ebc3c3"/><stop offset="0.911" stop-color="#ecd1d1"/><stop offset="0.926" stop-color="#ede4e4"/><stop offset="0.996" stop-color="#eddfdf"/></linearGradient><linearGradient id="h41" x1="0" y1="0" x2="0" y2="1"><stop offset="0.000" stop-color="#eeeded"/><stop offset="0.288" stop-color="#eaeaee"/><stop offset="0.349" stop-color="#dedeef"/><stop offset="0.458" stop-color="#babaf0"/><stop offset="0.501" stop-color="#b4b4f0"/><stop offset="0.548" stop-color="#c7c7ef"/><stop offset="0.586" stop-color="#ebebee"/><stop offset="0.590" stop-color="#eeeaea"/><stop offset="0.604" stop-color="#ecd0d0"/><stop offset="0.623" stop-color="#e99ea0"/><stop offset="0.642" stop-color="#ee5253"/><stop offset="0.656" stop-color="#ff1c0e"/><stop offset="0.874" stop-color="#ff1c0e"/><stop offset="0.878" stop-color="#f7342e"/><stop offset="0.888" stop-color="#e87e81"/><stop offset="0.893" stop-color="#e99ea0"/><stop offset="0.897" stop-color="#eab5b5"/><stop offset="0.911" stop-color="#eddbdb"/><stop offset="0.926" stop-color="#eee8e8"/><stop offset="0.996" stop-color="#eddfdf"/></linearGradient><linearGradient id="h42" x1="0" y1="0" x2="0" y2="1"><stop offset="0.000" stop-color="#eeecec"/><stop offset="0.283" stop-color="#ebebee"/><stop offset="0.349" stop-color="#dedeef"/><stop offset="0.458" stop-color="#b9b9f0"/><stop offset="0.501" stop-color="#b2b2f0"/><stop offset="0.553" stop-color="#c6c6ef"/><stop offset="0.595" stop-color="#eeeeee"/><stop offset="0.619" stop-color="#ebc7c7"/><stop offset="0.633" stop-color="#e9a3a4"/><stop offset="0.656" stop-color="#ee5354"/><stop offset="0.671" stop-color="#ff1c0e"/><stop offset="0.864" stop-color="#ff1c0e"/><stop offset="0.869" stop-color="#f92d24"/><stop offset="0.874" stop-color="#ef5152"/><stop offset="0.878" stop-color="#ea7174"/><stop offset="0.888" stop-color="#e9a7a8"/><stop offset="0.897" stop-color="#ebc9c9"/><stop offset="0.907" stop-color="#eddcdc"/><stop offset="0.926" stop-color="#eeebeb"/><stop offset="0.996" stop-color="#eddfdf"/></linearGradient><linearGradient id="h43" x1="0" y1="0" x2="0" y2="1"><stop offset="0.000" stop-color="#eeeeee"/><stop offset="0.288" stop-color="#e9e9ee"/><stop offset="0.349" stop-color="#dbdbef"/><stop offset="0.463" stop-color="#b1b1f1"/><stop offset="0.501" stop-color="#ababf1"/><stop offset="0.553" stop-color="#bebef0"/><stop offset="0.600" stop-color="#e9e9ee"/><stop offset="0.604" stop-color="#eeeded"/><stop offset="0.619" stop-color="#ecd7d7"/><stop offset="0.642" stop-color="#e9a3a5"/><stop offset="0.661" stop-color="#eb6b6e"/><stop offset="0.685" stop-color="#fe1e11"/><stop offset="0.689" stop-color="#ff1c0e"/><stop offset="0.855" stop-color="#fe1e10"/><stop offset="0.864" stop-color="#f04746"/><stop offset="0.874" stop-color="#e88285"/><stop offset="0.878" stop-color="#e99b9c"/><stop offset="0.888" stop-color="#ebc0c0"/><stop offset="0.902" stop-color="#eddfdf"/><stop offset="0.911" stop-color="#eeebeb"/><stop offset="0.921" stop-color="#ececee"/><stop offset="0.996" stop-color="#ede0e0"/></linearGradient><linearGradient id="h44" x1="0" y1="0" x2="0" y2="1"><stop offset="0.000" stop-color="#eeeeee"/><stop offset="0.288" stop-color="#e8e8ee"/><stop offset="0.354" stop-color="#d8d8ef"/><stop offset="0.463" stop-color="#adadf1"/><stop offset="0.501" stop-color="#a7a7f1"/><stop offset="0.557" stop-color="#bcbcf0"/><stop offset="0.609" stop-color="#ededee"/><stop offset="0.628" stop-color="#ecd3d3"/><stop offset="0.652" stop-color="#e9a1a2"/><stop offset="0.685" stop-color="#f14544"/><stop offset="0.699" stop-color="#fd2216"/><stop offset="0.704" stop-color="#ff1c0e"/><stop offset="0.841" stop-color="#ff1c0e"/><stop offset="0.855" stop-color="#ee5758"/><stop offset="0.864" stop-color="#e8797d"/><stop offset="0.874" stop-color="#e9a6a7"/><stop offset="0.888" stop-color="#ecd1d1"/><stop offset="0.897" stop-color="#ede2e2"/><stop offset="0.907" stop-color="#eeeded"/><stop offset="0.926" stop-color="#e6e6ee"/><stop offset="0.940" stop-color="#ededee"/><stop offset="0.996" stop-color="#ede1e1"/></linearGradient><linearGradient id="h45" x1="0" y1="0" x2="0" y2="1"><stop offset="0.000" stop-color="#eeeded"/><stop offset="0.288" stop-color="#e9e9ee"/><stop offset="0.354" stop-color="#dadaef"/><stop offset="0.463" stop-color="#b0b0f1"/><stop offset="0.501" stop-color="#aaaaf1"/><stop offset="0.557" stop-color="#bdbdf0"/><stop offset="0.614" stop-color="#eeeded"/><stop offset="0.656" stop-color="#e9a7a8"/><stop offset="0.699" stop-color="#f14544"/><stop offset="0.718" stop-color="#fe2013"/><stop offset="0.723" stop-color="#ff1c0e"/><stop offset="0.826" stop-color="#ff1c0e"/><stop offset="0.845" stop-color="#ec6365"/><stop offset="0.874" stop-color="#eabebe"/><stop offset="0.888" stop-color="#eddcdc"/><stop offset="0.902" stop-color="#eeeeee"/><stop offset="0.921" stop-color="#e4e4ee"/><stop offset="0.945" stop-color="#eeeded"/><stop offset="0.996" stop-color="#ede1e1"/></linearGradient><linearGradient id="h46" x1="0" y1="0" x2="0" y2="1"><stop offset="0.000" stop-color="#eeeded"/><stop offset="0.288" stop-color="#e9e9ee"/><stop offset="0.354" stop-color="#d9d9ef"/><stop offset="0.463" stop-color="#aeaef1"/><stop offset="0.501" stop-color="#a8a8f1"/><stop offset="0.557" stop-color="#babaf0"/><stop offset="0.614" stop-color="#eaeaee"/><stop offset="0.619" stop-color="#eeeded"/><stop offset="0.652" stop-color="#eabcbc"/><stop offset="0.708" stop-color="#f04a4b"/><stop offset="0.741" stop-color="#ff1c0e"/><stop offset="0.808" stop-color="#fe2013"/><stop offset="0.826" stop-color="#f14443"/><stop offset="0.841" stop-color="#e97578"/><stop offset="0.855" stop-color="#e9a0a1"/><stop offset="0.874" stop-color="#eccdcd"/><stop offset="0.893" stop-color="#eeecec"/><stop offset="0.921" stop-color="#dfdfef"/><stop offset="0.949" stop-color="#eeeded"/><stop offset="0.996" stop-color="#ede2e2"/></linearGradient><linearGradient id="h47" x1="0" y1="0" x2="0" y2="1"><stop offset="0.000" stop-color="#eeeded"/><stop offset="0.288" stop-color="#e9e9ee"/><stop offset="0.354" stop-color="#d9d9ef"/><stop offset="0.463" stop-color="#afaff1"/><stop offset="0.501" stop-color="#a9a9f1"/><stop offset="0.562" stop-color="#bdbdf0"/><stop offset="0.619" stop-color="#ececee"/><stop offset="0.656" stop-color="#eabcbc"/><stop offset="0.689" stop-color="#e87c80"/><stop offset="0.723" stop-color="#f04847"/><stop offset="0.751" stop-color="#fa2b22"/><stop offset="0.779" stop-color="#fd2216"/><stop offset="0.793" stop-color="#fa2920"/><stop offset="0.812" stop-color="#f04848"/><stop offset="0.826" stop-color="#eb6568"/><stop offset="0.850" stop-color="#e9a8a9"/><stop offset="0.888" stop-color="#eeeded"/><stop offset="0.907" stop-color="#dedeef"/><stop offset="0.921" stop-color="#dbdbef"/><stop offset="0.949" stop-color="#ededee"/><stop offset="0.996" stop-color="#ede2e2"/></linearGradient><linearGradient id="h48" x1="0" y1="0" x2="0" y2="1"><stop offset="0.000" stop-color="#eeeded"/><stop offset="0.288" stop-color="#e9e9ee"/><stop offset="0.354" stop-color="#dadaef"/><stop offset="0.463" stop-color="#b0b0f1"/><stop offset="0.501" stop-color="#ababf1"/><stop offset="0.562" stop-color="#bdbdf0"/><stop offset="0.619" stop-color="#ebebee"/><stop offset="0.623" stop-color="#eeecec"/><stop offset="0.647" stop-color="#eccece"/><stop offset="0.699" stop-color="#e9767a"/><stop offset="0.727" stop-color="#ef5051"/><stop offset="0.751" stop-color="#f43c38"/><stop offset="0.774" stop-color="#f63630"/><stop offset="0.789" stop-color="#f53a36"/><stop offset="0.803" stop-color="#ef4d4d"/><stop offset="0.826" stop-color="#e87a7e"/><stop offset="0.850" stop-color="#eab7b7"/><stop offset="0.883" stop-color="#eeeded"/><stop offset="0.902" stop-color="#dcdcef"/><stop offset="0.916" stop-color="#d7d7ef"/><stop offset="0.954" stop-color="#eeeeee"/><stop offset="0.996" stop-color="#ede3e3"/></linearGradient><linearGradient id="h49" x1="0" y1="0" x2="0" y2="1"><stop offset="0.000" stop-color="#ededee"/><stop offset="0.288" stop-color="#e7e7ee"/><stop offset="0.354" stop-color="#d8d8ef"/><stop offset="0.463" stop-color="#aeaef1"/><stop offset="0.501" stop-color="#a9a9f1"/><stop offset="0.567" stop-color="#bebef0"/><stop offset="0.623" stop-color="#ededee"/><stop offset="0.656" stop-color="#ebc4c4"/><stop offset="0.718" stop-color="#ec6163"/><stop offset="0.746" stop-color="#f14646"/><stop offset="0.770" stop-color="#f33f3c"/><stop offset="0.784" stop-color="#f2423f"/><stop offset="0.798" stop-color="#ef5152"/><stop offset="0.822" stop-color="#e87e82"/><stop offset="0.845" stop-color="#eab7b7"/><stop offset="0.878" stop-color="#eeeeee"/><stop offset="0.897" stop-color="#d9d9ef"/><stop offset="0.916" stop-color="#d2d2ef"/><stop offset="0.959" stop-color="#eeeded"/><stop offset="0.996" stop-color="#ede5e5"/></linearGradient><linearGradient id="h50" x1="0" y1="0" x2="0" y2="1"><stop offset="0.000" stop-color="#eeeeee"/><stop offset="0.288" stop-color="#e8e8ee"/><stop offset="0.501" stop-color="#b0b0f1"/><stop offset="0.567" stop-color="#c2c2f0"/><stop offset="0.623" stop-color="#eeeeee"/><stop offset="0.656" stop-color="#ebc5c5"/><stop offset="0.718" stop-color="#eb696b"/><stop offset="0.746" stop-color="#ef5051"/><stop offset="0.770" stop-color="#f04949"/><stop offset="0.784" stop-color="#ef4e4e"/><stop offset="0.798" stop-color="#ed5e5f"/><stop offset="0.845" stop-color="#eabebe"/><stop offset="0.874" stop-color="#eeebeb"/><stop offset="0.897" stop-color="#d7d7ef"/><stop offset="0.911" stop-color="#d2d2ef"/><stop offset="0.926" stop-color="#d5d5ef"/><stop offset="0.954" stop-color="#ededee"/><stop offset="0.996" stop-color="#ede5e5"/></linearGradient><linearGradient id="h51" x1="0" y1="0" x2="0" y2="1"><stop offset="0.000" stop-color="#eeecec"/><stop offset="0.283" stop-color="#ececee"/><stop offset="0.501" stop-color="#babaf0"/><stop offset="0.562" stop-color="#c8c8ef"/><stop offset="0.619" stop-color="#ededee"/><stop offset="0.652" stop-color="#ebcccc"/><stop offset="0.718" stop-color="#ea7073"/><stop offset="0.746" stop-color="#ed5a5c"/><stop offset="0.770" stop-color="#ee5556"/><stop offset="0.784" stop-color="#ed595b"/><stop offset="0.798" stop-color="#eb696b"/><stop offset="0.841" stop-color="#eabbbb"/><stop offset="0.874" stop-color="#eeeded"/><stop offset="0.893" stop-color="#dbdbef"/><stop offset="0.911" stop-color="#d4d4ef"/><stop offset="0.949" stop-color="#ececee"/><stop offset="0.996" stop-color="#ede4e4"/></linearGradient><linearGradient id="h52" x1="0" y1="0" x2="0" y2="1"><stop offset="0.000" stop-color="#eeecec"/><stop offset="0.283" stop-color="#ececee"/><stop offset="0.501" stop-color="#bdbdf0"/><stop offset="0.562" stop-color="#cacaef"/><stop offset="0.619" stop-color="#eeeeee"/><stop offset="0.656" stop-color="#ebc6c6"/><stop offset="0.718" stop-color="#ea7275"/><stop offset="0.746" stop-color="#ed5d5f"/><stop offset="0.770" stop-color="#ee5859"/><stop offset="0.784" stop-color="#ed5d5f"/><stop offset="0.798" stop-color="#ea6d70"/><stop offset="0.841" stop-color="#ebbfbf"/><stop offset="0.869" stop-color="#eeebeb"/><stop offset="0.893" stop-color="#d7d7ef"/><stop offset="0.911" stop-color="#d1d1ef"/><stop offset="0.954" stop-color="#eeeeee"/><stop offset="0.996" stop-color="#ede5e5"/></linearGradient><linearGradient id="h53" x1="0" y1="0" x2="0" y2="1"><stop offset="0.000" stop-color="#eeeded"/><stop offset="0.283" stop-color="#ebebee"/><stop offset="0.501" stop-color="#c1c1f0"/><stop offset="0.562" stop-color="#ccccef"/><stop offset="0.619" stop-color="#eeeeee"/><stop offset="0.656" stop-color="#ebc6c6"/><stop offset="0.718" stop-color="#e97376"/><stop offset="0.746" stop-color="#ed5e60"/><stop offset="0.770" stop-color="#ed595b"/><stop offset="0.784" stop-color="#ec5f61"/><stop offset="0.798" stop-color="#ea6f72"/><stop offset="0.841" stop-color="#ebc3c3"/><stop offset="0.869" stop-color="#ededee"/><stop offset="0.888" stop-color="#d6d6ef"/><stop offset="0.907" stop-color="#ceceef"/><stop offset="0.921" stop-color="#d1d1ef"/><stop offset="0.954" stop-color="#ededee"/><stop offset="0.996" stop-color="#ede6e6"/></linearGradient><linearGradient id="h54" x1="0" y1="0" x2="0" y2="1"><stop offset="0.000" stop-color="#eeeded"/><stop offset="0.283" stop-color="#ececee"/><stop offset="0.501" stop-color="#c6c6ef"/><stop offset="0.562" stop-color="#d0d0ef"/><stop offset="0.614" stop-color="#ececee"/><stop offset="0.652" stop-color="#ebcbcb"/><stop offset="0.718" stop-color="#e97478"/><stop offset="0.746" stop-color="#ec6162"/><stop offset="0.770" stop-color="#ed5c5e"/><stop offset="0.784" stop-color="#ec6264"/><stop offset="0.798" stop-color="#e97276"/><stop offset="0.836" stop-color="#eabdbd"/><stop offset="0.864" stop-color="#eeebeb"/><stop offset="0.888" stop-color="#d4d4ef"/><stop offset="0.907" stop-color="#ccccef"/><stop offset="0.921" stop-color="#d0d0ef"/><stop offset="0.954" stop-color="#ededee"/><stop offset="0.996" stop-color="#ede7e7"/></linearGradient><linearGradient id="h55" x1="0" y1="0" x2="0" y2="1"><stop offset="0.000" stop-color="#eeeded"/><stop offset="0.283" stop-color="#ececee"/><stop offset="0.501" stop-color="#cbcbef"/><stop offset="0.562" stop-color="#d4d4ef"/><stop offset="0.614" stop-color="#eeeded"/><stop offset="0.656" stop-color="#ebc5c5"/><stop offset="0.718" stop-color="#e97579"/><stop offset="0.741" stop-color="#ec6466"/><stop offset="0.765" stop-color="#ed5e60"/><stop offset="0.784" stop-color="#ec6466"/><stop offset="0.798" stop-color="#e97578"/><stop offset="0.836" stop-color="#ebc0c0"/><stop offset="0.864" stop-color="#eeeeee"/><stop offset="0.888" stop-color="#d1d1ef"/><stop offset="0.907" stop-color="#cacaef"/><stop offset="0.921" stop-color="#cfcfef"/><stop offset="0.954" stop-color="#ededee"/><stop offset="0.996" stop-color="#ede7e7"/></linearGradient><linearGradient id="h56" x1="0" y1="0" x2="0" y2="1"><stop offset="0.000" stop-color="#eeeded"/><stop offset="0.283" stop-color="#ededee"/><stop offset="0.501" stop-color="#d0d0ef"/><stop offset="0.562" stop-color="#d8d8ef"/><stop offset="0.609" stop-color="#ededee"/><stop offset="0.652" stop-color="#ebcaca"/><stop offset="0.718" stop-color="#e9767a"/><stop offset="0.741" stop-color="#ec6567"/><stop offset="0.765" stop-color="#ec5f61"/><stop offset="0.784" stop-color="#eb6668"/><stop offset="0.798" stop-color="#e9767a"/><stop offset="0.845" stop-color="#ecd3d3"/><stop offset="0.860" stop-color="#eeeaea"/><stop offset="0.864" stop-color="#ebebee"/><stop offset="0.888" stop-color="#ceceef"/><stop offset="0.907" stop-color="#c8c8ef"/><stop offset="0.954" stop-color="#ececee"/><stop offset="0.996" stop-color="#eee8e8"/></linearGradient><linearGradient id="h57" x1="0" y1="0" x2="0" y2="1"><stop offset="0.000" stop-color="#eeeeee"/><stop offset="0.288" stop-color="#ececee"/><stop offset="0.501" stop-color="#d3d3ef"/><stop offset="0.557" stop-color="#dadaef"/><stop offset="0.609" stop-color="#eeeded"/><stop offset="0.652" stop-color="#ebc9c9"/><stop offset="0.718" stop-color="#e97679"/><stop offset="0.741" stop-color="#ec6567"/><stop offset="0.765" stop-color="#ec5f61"/><stop offset="0.784" stop-color="#eb6668"/><stop offset="0.798" stop-color="#e9777a"/><stop offset="0.860" stop-color="#eeeeee"/><stop offset="0.883" stop-color="#ceceef"/><stop offset="0.902" stop-color="#c5c5ef"/><stop offset="0.916" stop-color="#c9c9ef"/><stop offset="0.959" stop-color="#eeeeee"/><stop offset="0.996" stop-color="#eee9e9"/></linearGradient><linearGradient id="h58" x1="0" y1="0" x2="0" y2="1"><stop offset="0.000" stop-color="#eeeeee"/><stop offset="0.288" stop-color="#ececee"/><stop offset="0.501" stop-color="#d8d8ef"/><stop offset="0.557" stop-color="#ddddef"/><stop offset="0.604" stop-color="#eeeeee"/><stop offset="0.652" stop-color="#ebc8c8"/><stop offset="0.718" stop-color="#e97679"/><stop offset="0.741" stop-color="#eb6568"/><stop offset="0.765" stop-color="#ec6062"/><stop offset="0.779" stop-color="#ec6365"/><stop offset="0.798" stop-color="#e9787c"/><stop offset="0.841" stop-color="#eccfcf"/><stop offset="0.860" stop-color="#ebebee"/><stop offset="0.883" stop-color="#cbcbef"/><stop offset="0.902" stop-color="#c3c3f0"/><stop offset="0.916" stop-color="#c8c8ef"/><stop offset="0.959" stop-color="#ededee"/><stop offset="0.996" stop-color="#eeeaea"/></linearGradient><linearGradient id="h59" x1="0" y1="0" x2="0" y2="1"><stop offset="0.000" stop-color="#eeecec"/><stop offset="0.302" stop-color="#eeeeee"/><stop offset="0.501" stop-color="#dedeef"/><stop offset="0.595" stop-color="#eeeeee"/><stop offset="0.647" stop-color="#ebcccc"/><stop offset="0.723" stop-color="#e97478"/><stop offset="0.765" stop-color="#ec6365"/><stop offset="0.779" stop-color="#eb6769"/><stop offset="0.798" stop-color="#e87b7f"/><stop offset="0.845" stop-color="#ecd9d9"/><stop offset="0.855" stop-color="#eeeaea"/><stop offset="0.860" stop-color="#eaeaee"/><stop offset="0.883" stop-color="#cbcbef"/><stop offset="0.902" stop-color="#c5c5ef"/><stop offset="0.954" stop-color="#ededee"/><stop offset="0.996" stop-color="#eee9e9"/></linearGradient><linearGradient id="h60" x1="0" y1="0" x2="0" y2="1"><stop offset="0.000" stop-color="#eeebeb"/><stop offset="0.331" stop-color="#eeeeee"/><stop offset="0.501" stop-color="#e2e2ee"/><stop offset="0.590" stop-color="#eeeeee"/><stop offset="0.647" stop-color="#ebcaca"/><stop offset="0.723" stop-color="#e97579"/><stop offset="0.765" stop-color="#ec6567"/><stop offset="0.779" stop-color="#eb696b"/><stop offset="0.798" stop-color="#e87d81"/><stop offset="0.855" stop-color="#eeecec"/><stop offset="0.878" stop-color="#ceceef"/><stop offset="0.897" stop-color="#c4c4ef"/><stop offset="0.916" stop-color="#ccccef"/><stop offset="0.954" stop-color="#eeeeee"/><stop offset="0.996" stop-color="#eee9e9"/></linearGradient><linearGradient id="h61" x1="0" y1="0" x2="0" y2="1"><stop offset="0.000" stop-color="#eeebeb"/><stop offset="0.340" stop-color="#eeeeee"/><stop offset="0.501" stop-color="#e5e5ee"/><stop offset="0.586" stop-color="#eeeded"/><stop offset="0.642" stop-color="#eccece"/><stop offset="0.723" stop-color="#e97679"/><stop offset="0.765" stop-color="#eb6568"/><stop offset="0.779" stop-color="#eb696c"/><stop offset="0.798" stop-color="#e87e82"/><stop offset="0.855" stop-color="#eeeeee"/><stop offset="0.878" stop-color="#cbcbef"/><stop offset="0.897" stop-color="#c3c3f0"/><stop offset="0.911" stop-color="#c8c8ef"/><stop offset="0.954" stop-color="#eeeeee"/><stop offset="0.996" stop-color="#eee9e9"/></linearGradient><linearGradient id="h62" x1="0" y1="0" x2="0" y2="1"><stop offset="0.000" stop-color="#eeebeb"/><stop offset="0.368" stop-color="#eeeeee"/><stop offset="0.501" stop-color="#e8e8ee"/><stop offset="0.576" stop-color="#eeeded"/><stop offset="0.633" stop-color="#ecd5d5"/><stop offset="0.661" stop-color="#eabcbc"/><stop offset="0.718" stop-color="#e87b7f"/><stop offset="0.741" stop-color="#ea6c6f"/><stop offset="0.765" stop-color="#eb686a"/><stop offset="0.779" stop-color="#eb6b6e"/><stop offset="0.793" stop-color="#e8797d"/><stop offset="0.855" stop-color="#ececee"/><stop offset="0.878" stop-color="#cacaef"/><stop offset="0.897" stop-color="#c2c2f0"/><stop offset="0.911" stop-color="#c8c8ef"/><stop offset="0.954" stop-color="#eeeeee"/><stop offset="0.996" stop-color="#eee9e9"/></linearGradient><linearGradient id="h63" x1="0" y1="0" x2="0" y2="1"><stop offset="0.000" stop-color="#eeeaea"/><stop offset="0.571" stop-color="#eeecec"/><stop offset="0.633" stop-color="#ecd4d4"/><stop offset="0.666" stop-color="#eab7b7"/><stop offset="0.718" stop-color="#e87d81"/><stop offset="0.741" stop-color="#ea6f72"/><stop offset="0.765" stop-color="#eb6a6d"/><stop offset="0.779" stop-color="#ea6e71"/><stop offset="0.793" stop-color="#e87c80"/><stop offset="0.850" stop-color="#eee9e9"/><stop offset="0.855" stop-color="#ebebee"/><stop offset="0.878" stop-color="#c9c9ef"/><stop offset="0.897" stop-color="#c3c3f0"/><stop offset="0.949" stop-color="#ededee"/><stop offset="0.996" stop-color="#eee9e9"/></linearGradient><linearGradient id="h64" x1="0" y1="0" x2="0" y2="1"><stop offset="0.000" stop-color="#eeeaea"/><stop offset="0.571" stop-color="#eeebeb"/><stop offset="0.633" stop-color="#ecd3d3"/><stop offset="0.723" stop-color="#e87a7e"/><stop offset="0.765" stop-color="#eb6b6e"/><stop offset="0.779" stop-color="#ea6f72"/><stop offset="0.793" stop-color="#e87d81"/><stop offset="0.850" stop-color="#eeebeb"/><stop offset="0.874" stop-color="#cbcbef"/><stop offset="0.893" stop-color="#c1c1f0"/><stop offset="0.911" stop-color="#c8c8ef"/><stop offset="0.949" stop-color="#ececee"/><stop offset="0.996" stop-color="#eee9e9"/></linearGradient><linearGradient id="h65" x1="0" y1="0" x2="0" y2="1"><stop offset="0.000" stop-color="#eeebeb"/><stop offset="0.576" stop-color="#eeebeb"/><stop offset="0.633" stop-color="#ecd4d4"/><stop offset="0.666" stop-color="#eab7b7"/><stop offset="0.718" stop-color="#e87d81"/><stop offset="0.741" stop-color="#ea6f72"/><stop offset="0.765" stop-color="#eb6b6d"/><stop offset="0.779" stop-color="#ea6f72"/><stop offset="0.793" stop-color="#e87d81"/><stop offset="0.850" stop-color="#ededee"/><stop offset="0.874" stop-color="#c6c6ef"/><stop offset="0.893" stop-color="#bcbcf0"/><stop offset="0.907" stop-color="#c1c1f0"/><stop offset="0.954" stop-color="#ededee"/><stop offset="0.996" stop-color="#eeebeb"/></linearGradient><linearGradient id="h66" x1="0" y1="0" x2="0" y2="1"><stop offset="0.000" stop-color="#eeeded"/><stop offset="0.576" stop-color="#eeecec"/><stop offset="0.633" stop-color="#ecd5d5"/><stop offset="0.666" stop-color="#eab8b8"/><stop offset="0.718" stop-color="#e87c80"/><stop offset="0.741" stop-color="#ea6e71"/><stop offset="0.765" stop-color="#eb6a6c"/><stop offset="0.779" stop-color="#ea6e71"/><stop offset="0.793" stop-color="#e87d81"/><stop offset="0.845" stop-color="#eee9e9"/><stop offset="0.850" stop-color="#e9e9ee"/><stop offset="0.874" stop-color="#c0c0f0"/><stop offset="0.893" stop-color="#b7b7f0"/><stop offset="0.907" stop-color="#bdbdf0"/><stop offset="0.949" stop-color="#e8e8ee"/><stop offset="0.996" stop-color="#eeeded"/></linearGradient><linearGradient id="h67" x1="0" y1="0" x2="0" y2="1"><stop offset="0.000" stop-color="#eeecec"/><stop offset="0.576" stop-color="#eeeaea"/><stop offset="0.633" stop-color="#ecd4d4"/><stop offset="0.723" stop-color="#e87a7e"/><stop offset="0.765" stop-color="#eb6c6e"/><stop offset="0.779" stop-color="#ea7073"/><stop offset="0.793" stop-color="#e87f83"/><stop offset="0.845" stop-color="#eeebeb"/><stop offset="0.874" stop-color="#bfbff0"/><stop offset="0.893" stop-color="#b7b7f0"/><stop offset="0.907" stop-color="#bebef0"/><stop offset="0.949" stop-color="#e9e9ee"/><stop offset="0.996" stop-color="#eeeded"/></linearGradient><linearGradient id="h68" x1="0" y1="0" x2="0" y2="1"><stop offset="0.000" stop-color="#eeeaea"/><stop offset="0.576" stop-color="#eee8e8"/><stop offset="0.633" stop-color="#ecd3d3"/><stop offset="0.723" stop-color="#e87f82"/><stop offset="0.765" stop-color="#ea7174"/><stop offset="0.779" stop-color="#e97578"/><stop offset="0.793" stop-color="#e88487"/><stop offset="0.845" stop-color="#eeeaea"/><stop offset="0.874" stop-color="#c2c2f0"/><stop offset="0.893" stop-color="#bbbbf0"/><stop offset="0.949" stop-color="#ececee"/><stop offset="0.996" stop-color="#eeeaea"/></linearGradient><linearGradient id="h69" x1="0" y1="0" x2="0" y2="1"><stop offset="0.000" stop-color="#eeeaea"/><stop offset="0.576" stop-color="#eee7e7"/><stop offset="0.633" stop-color="#ecd3d3"/><stop offset="0.723" stop-color="#e88084"/><stop offset="0.765" stop-color="#ea7275"/><stop offset="0.779" stop-color="#e9767a"/><stop offset="0.793" stop-color="#e88588"/><stop offset="0.845" stop-color="#eeecec"/><stop offset="0.869" stop-color="#c6c6ef"/><stop offset="0.888" stop-color="#bbbbf0"/><stop offset="0.902" stop-color="#bfbff0"/><stop offset="0.949" stop-color="#ececee"/><stop offset="0.996" stop-color="#eeebeb"/></linearGradient><linearGradient id="h70" x1="0" y1="0" x2="0" y2="1"><stop offset="0.000" stop-color="#eeeaea"/><stop offset="0.581" stop-color="#ede7e7"/><stop offset="0.633" stop-color="#ecd3d3"/><stop offset="0.723" stop-color="#e88084"/><stop offset="0.765" stop-color="#e97376"/><stop offset="0.779" stop-color="#e9777a"/><stop offset="0.793" stop-color="#e88689"/><stop offset="0.845" stop-color="#eeeeee"/><stop offset="0.869" stop-color="#c4c4ef"/><stop offset="0.888" stop-color="#b9b9f0"/><stop offset="0.902" stop-color="#bfbff0"/><stop offset="0.949" stop-color="#ececee"/><stop offset="0.996" stop-color="#eeebeb"/></linearGradient><linearGradient id="h71" x1="0" y1="0" x2="0" y2="1"><stop offset="0.000" stop-color="#eee9e9"/><stop offset="0.581" stop-color="#ede5e5"/><stop offset="0.633" stop-color="#ecd3d3"/><stop offset="0.723" stop-color="#e88387"/><stop offset="0.765" stop-color="#e97679"/><stop offset="0.779" stop-color="#e87a7e"/><stop offset="0.793" stop-color="#e8898c"/><stop offset="0.845" stop-color="#eeeeee"/><stop offset="0.869" stop-color="#c6c6ef"/><stop offset="0.888" stop-color="#bcbcf0"/><stop offset="0.902" stop-color="#c2c2f0"/><stop offset="0.949" stop-color="#eeeeee"/><stop offset="0.996" stop-color="#eeeaea"/></linearGradient><linearGradient id="h72" x1="0" y1="0" x2="0" y2="1"><stop offset="0.000" stop-color="#eee9e9"/><stop offset="0.581" stop-color="#ede6e6"/><stop offset="0.633" stop-color="#ecd3d3"/><stop offset="0.723" stop-color="#e88487"/><stop offset="0.765" stop-color="#e9767a"/><stop offset="0.779" stop-color="#e87b7e"/><stop offset="0.793" stop-color="#e88a8d"/><stop offset="0.845" stop-color="#ececee"/><stop offset="0.869" stop-color="#c3c3f0"/><stop offset="0.888" stop-color="#bbbbf0"/><stop offset="0.902" stop-color="#c2c2f0"/><stop offset="0.945" stop-color="#ebebee"/><stop offset="0.996" stop-color="#eeebeb"/></linearGradient><linearGradient id="h73" x1="0" y1="0" x2="0" y2="1"><stop offset="0.000" stop-color="#eeebeb"/><stop offset="0.581" stop-color="#eee8e8"/><stop offset="0.633" stop-color="#ecd5d5"/><stop offset="0.723" stop-color="#e88386"/><stop offset="0.765" stop-color="#e97578"/><stop offset="0.779" stop-color="#e8797d"/><stop offset="0.793" stop-color="#e8898c"/><stop offset="0.841" stop-color="#eeeaea"/><stop offset="0.869" stop-color="#bebef0"/><stop offset="0.888" stop-color="#b6b6f0"/><stop offset="0.945" stop-color="#e9e9ee"/><stop offset="0.996" stop-color="#eeeded"/></linearGradient><linearGradient id="h74" x1="0" y1="0" x2="0" y2="1"><stop offset="0.000" stop-color="#eeeded"/><stop offset="0.581" stop-color="#eee9e9"/><stop offset="0.633" stop-color="#ecd6d6"/><stop offset="0.723" stop-color="#e88286"/><stop offset="0.765" stop-color="#e97478"/><stop offset="0.779" stop-color="#e8797d"/><stop offset="0.793" stop-color="#e8898d"/><stop offset="0.841" stop-color="#eeeeee"/><stop offset="0.864" stop-color="#bfbff0"/><stop offset="0.883" stop-color="#b1b1f0"/><stop offset="0.897" stop-color="#b7b7f0"/><stop offset="0.945" stop-color="#e7e7ee"/><stop offset="0.996" stop-color="#ededee"/></linearGradient><linearGradient id="h75" x1="0" y1="0" x2="0" y2="1"><stop offset="0.000" stop-color="#eeecec"/><stop offset="0.581" stop-color="#eee9e9"/><stop offset="0.633" stop-color="#ecd6d6"/><stop offset="0.723" stop-color="#e88487"/><stop offset="0.765" stop-color="#e9767a"/><stop offset="0.779" stop-color="#e87b7f"/><stop offset="0.793" stop-color="#e98b8e"/><stop offset="0.841" stop-color="#ededee"/><stop offset="0.864" stop-color="#bfbff0"/><stop offset="0.883" stop-color="#b2b2f0"/><stop offset="0.897" stop-color="#b8b8f0"/><stop offset="0.945" stop-color="#e8e8ee"/><stop offset="0.996" stop-color="#eeeeee"/></linearGradient><linearGradient id="h76" x1="0" y1="0" x2="0" y2="1"><stop offset="0.000" stop-color="#eeebeb"/><stop offset="0.581" stop-color="#ede7e7"/><stop offset="0.633" stop-color="#ecd5d5"/><stop offset="0.723" stop-color="#e8878a"/><stop offset="0.765" stop-color="#e8797d"/><stop offset="0.779" stop-color="#e87e82"/><stop offset="0.793" stop-color="#e98e91"/><stop offset="0.841" stop-color="#ededee"/><stop offset="0.864" stop-color="#c1c1f0"/><stop offset="0.883" stop-color="#b6b6f0"/><stop offset="0.897" stop-color="#bcbcf0"/><stop offset="0.945" stop-color="#eaeaee"/><stop offset="0.996" stop-color="#eeeded"/></linearGradient><linearGradient id="h77" x1="0" y1="0" x2="0" y2="1"><stop offset="0.000" stop-color="#eeeaea"/><stop offset="0.581" stop-color="#ede7e7"/><stop offset="0.633" stop-color="#ecd5d5"/><stop offset="0.723" stop-color="#e8898c"/><stop offset="0.765" stop-color="#e87b7f"/><stop offset="0.779" stop-color="#e88084"/><stop offset="0.793" stop-color="#e99193"/><stop offset="0.841" stop-color="#ececee"/><stop offset="0.864" stop-color="#c1c1f0"/><stop offset="0.883" stop-color="#b7b7f0"/><stop offset="0.897" stop-color="#bebef0"/><stop offset="0.940" stop-color="#e9e9ee"/><stop offset="0.996" stop-color="#eeecec"/></linearGradient><linearGradient id="h78" x1="0" y1="0" x2="0" y2="1"><stop offset="0.000" stop-color="#eeebeb"/><stop offset="0.581" stop-color="#eee8e8"/><stop offset="0.633" stop-color="#ecd6d6"/><stop offset="0.723" stop-color="#e8898c"/><stop offset="0.765" stop-color="#e87b7f"/><stop offset="0.779" stop-color="#e88084"/><stop offset="0.793" stop-color="#e99194"/><stop offset="0.836" stop-color="#eee9e9"/><stop offset="0.841" stop-color="#e8e8ee"/><stop offset="0.864" stop-color="#bdbdf0"/><stop offset="0.883" stop-color="#b4b4f0"/><stop offset="0.940" stop-color="#e8e8ee"/><stop offset="0.996" stop-color="#eeeeee"/></linearGradient><linearGradient id="h79" x1="0" y1="0" x2="0" y2="1"><stop offset="0.000" stop-color="#eeecec"/><stop offset="0.581" stop-color="#eee9e9"/><stop offset="0.633" stop-color="#ecd7d7"/><stop offset="0.723" stop-color="#e8898c"/><stop offset="0.765" stop-color="#e87b7f"/><stop offset="0.779" stop-color="#e88184"/><stop offset="0.793" stop-color="#e99294"/><stop offset="0.836" stop-color="#eeecec"/><stop offset="0.860" stop-color="#bfbff0"/><stop offset="0.878" stop-color="#b1b1f0"/><stop offset="0.893" stop-color="#b6b6f0"/><stop offset="0.940" stop-color="#e7e7ee"/><stop offset="0.996" stop-color="#ededee"/></linearGradient><linearGradient id="h80" x1="0" y1="0" x2="0" y2="1"><stop offset="0.000" stop-color="#eeebeb"/><stop offset="0.581" stop-color="#eee8e8"/><stop offset="0.633" stop-color="#ecd6d6"/><stop offset="0.723" stop-color="#e98b8e"/><stop offset="0.765" stop-color="#e87e82"/><stop offset="0.779" stop-color="#e88487"/><stop offset="0.793" stop-color="#e99497"/><stop offset="0.836" stop-color="#eeecec"/><stop offset="0.860" stop-color="#c1c1f0"/><stop offset="0.878" stop-color="#b4b4f0"/><stop offset="0.893" stop-color="#b9b9f0"/><stop offset="0.940" stop-color="#e9e9ee"/><stop offset="0.996" stop-color="#eeeeee"/></linearGradient><linearGradient id="h81" x1="0" y1="0" x2="0" y2="1"><stop offset="0.000" stop-color="#eeeaea"/><stop offset="0.581" stop-color="#ede7e7"/><stop offset="0.633" stop-color="#ecd6d6"/><stop offset="0.723" stop-color="#e98d90"/><stop offset="0.765" stop-color="#e88084"/><stop offset="0.779" stop-color="#e88689"/><stop offset="0.793" stop-color="#e99698"/><stop offset="0.836" stop-color="#eeeeee"/><stop offset="0.860" stop-color="#c0c0f0"/><stop offset="0.878" stop-color="#b5b5f0"/><stop offset="0.893" stop-color="#bbbbf0"/><stop offset="0.940" stop-color="#eaeaee"/><stop offset="0.996" stop-color="#eeeded"/></linearGradient><linearGradient id="h82" x1="0" y1="0" x2="0" y2="1"><stop offset="0.000" stop-color="#eeebeb"/><stop offset="0.581" stop-color="#eee8e8"/><stop offset="0.633" stop-color="#ecd7d7"/><stop offset="0.723" stop-color="#e98e91"/><stop offset="0.760" stop-color="#e88185"/><stop offset="0.779" stop-color="#e8878a"/><stop offset="0.793" stop-color="#e9979a"/><stop offset="0.836" stop-color="#ececee"/><stop offset="0.860" stop-color="#bebef0"/><stop offset="0.878" stop-color="#b3b3f0"/><stop offset="0.893" stop-color="#babaf0"/><stop offset="0.935" stop-color="#e7e7ee"/><stop offset="0.996" stop-color="#eeeeee"/></linearGradient><linearGradient id="h83" x1="0" y1="0" x2="0" y2="1"><stop offset="0.000" stop-color="#eeebeb"/><stop offset="0.581" stop-color="#eee7e7"/><stop offset="0.633" stop-color="#ecd7d7"/><stop offset="0.723" stop-color="#e98f92"/><stop offset="0.760" stop-color="#e88386"/><stop offset="0.779" stop-color="#e8898c"/><stop offset="0.793" stop-color="#e9999b"/><stop offset="0.836" stop-color="#ebebee"/><stop offset="0.860" stop-color="#bdbdf0"/><stop offset="0.878" stop-color="#b3b3f0"/><stop offset="0.893" stop-color="#bbbbf0"/><stop offset="0.935" stop-color="#e8e8ee"/><stop offset="0.996" stop-color="#eeeeee"/></linearGradient><linearGradient id="h84" x1="0" y1="0" x2="0" y2="1"><stop offset="0.000" stop-color="#eeeaea"/><stop offset="0.581" stop-color="#ede7e7"/><stop offset="0.633" stop-color="#ecd6d6"/><stop offset="0.723" stop-color="#e99194"/><stop offset="0.760" stop-color="#e88589"/><stop offset="0.779" stop-color="#e98b8e"/><stop offset="0.793" stop-color="#e99b9d"/><stop offset="0.831" stop-color="#ede7e7"/><stop offset="0.836" stop-color="#eaeaee"/><stop offset="0.860" stop-color="#bebef0"/><stop offset="0.878" stop-color="#b5b5f0"/><stop offset="0.935" stop-color="#e9e9ee"/><stop offset="0.996" stop-color="#eeeded"/></linearGradient><linearGradient id="h85" x1="0" y1="0" x2="0" y2="1"><stop offset="0.000" stop-color="#eee9e9"/><stop offset="0.581" stop-color="#ede6e6"/><stop offset="0.633" stop-color="#ecd6d6"/><stop offset="0.723" stop-color="#e99395"/><stop offset="0.760" stop-color="#e8878a"/><stop offset="0.779" stop-color="#e98d90"/><stop offset="0.793" stop-color="#e99d9f"/><stop offset="0.831" stop-color="#eee8e8"/><stop offset="0.836" stop-color="#e9e9ee"/><stop offset="0.860" stop-color="#bebef0"/><stop offset="0.878" stop-color="#b6b6f0"/><stop offset="0.935" stop-color="#eaeaee"/><stop offset="0.996" stop-color="#eeecec"/></linearGradient><linearGradient id="h86" x1="0" y1="0" x2="0" y2="1"><stop offset="0.000" stop-color="#eeeaea"/><stop offset="0.581" stop-color="#ede7e7"/><stop offset="0.633" stop-color="#ecd7d7"/><stop offset="0.723" stop-color="#e99496"/><stop offset="0.760" stop-color="#e8888b"/><stop offset="0.774" stop-color="#e88b8e"/><stop offset="0.789" stop-color="#e9989a"/><stop offset="0.808" stop-color="#eab8b8"/><stop offset="0.831" stop-color="#eeeaea"/><stop offset="0.855" stop-color="#c2c2f0"/><stop offset="0.874" stop-color="#b5b5f0"/><stop offset="0.888" stop-color="#babaf0"/><stop offset="0.935" stop-color="#eaeaee"/><stop offset="0.996" stop-color="#eeeded"/></linearGradient><linearGradient id="h87" x1="0" y1="0" x2="0" y2="1"><stop offset="0.000" stop-color="#eeebeb"/><stop offset="0.581" stop-color="#eee8e8"/><stop offset="0.633" stop-color="#ecd8d8"/><stop offset="0.723" stop-color="#e99496"/><stop offset="0.760" stop-color="#e8888c"/><stop offset="0.779" stop-color="#e98e91"/><stop offset="0.793" stop-color="#e99fa1"/><stop offset="0.831" stop-color="#eeeded"/><stop offset="0.855" stop-color="#bfbff0"/><stop offset="0.874" stop-color="#b1b1f0"/><stop offset="0.888" stop-color="#b8b8f0"/><stop offset="0.935" stop-color="#e9e9ee"/><stop offset="0.996" stop-color="#eeeeee"/></linearGradient><linearGradient id="h88" x1="0" y1="0" x2="0" y2="1"><stop offset="0.000" stop-color="#eeecec"/><stop offset="0.581" stop-color="#eee9e9"/><stop offset="0.633" stop-color="#ecd9d9"/><stop offset="0.723" stop-color="#e99496"/><stop offset="0.760" stop-color="#e8888c"/><stop offset="0.779" stop-color="#e98f92"/><stop offset="0.793" stop-color="#e9a0a2"/><stop offset="0.831" stop-color="#ececee"/><stop offset="0.855" stop-color="#bbbbf0"/><stop offset="0.874" stop-color="#adadf1"/><stop offset="0.888" stop-color="#b5b5f0"/><stop offset="0.916" stop-color="#d8d8ef"/><stop offset="0.935" stop-color="#e7e7ee"/><stop offset="0.996" stop-color="#ededee"/></linearGradient><linearGradient id="h89" x1="0" y1="0" x2="0" y2="1"><stop offset="0.000" stop-color="#eeecec"/><stop offset="0.581" stop-color="#eee9e9"/><stop offset="0.633" stop-color="#ecd9d9"/><stop offset="0.723" stop-color="#e99598"/><stop offset="0.760" stop-color="#e88a8d"/><stop offset="0.779" stop-color="#e99093"/><stop offset="0.793" stop-color="#e9a2a3"/><stop offset="0.831" stop-color="#ebebee"/><stop offset="0.855" stop-color="#babaf0"/><stop offset="0.874" stop-color="#aeaef1"/><stop offset="0.888" stop-color="#b6b6f0"/><stop offset="0.930" stop-color="#e5e5ee"/><stop offset="0.996" stop-color="#ededee"/></linearGradient><linearGradient id="h90" x1="0" y1="0" x2="0" y2="1"><stop offset="0.000" stop-color="#eeecec"/><stop offset="0.581" stop-color="#eee8e8"/><stop offset="0.633" stop-color="#ecd9d9"/><stop offset="0.723" stop-color="#e99799"/><stop offset="0.760" stop-color="#e98c8f"/><stop offset="0.774" stop-color="#e98f92"/><stop offset="0.789" stop-color="#e99d9f"/><stop offset="0.808" stop-color="#eabebe"/><stop offset="0.826" stop-color="#ede7e7"/><stop offset="0.831" stop-color="#eaeaee"/><stop offset="0.855" stop-color="#bbbbf0"/><stop offset="0.874" stop-color="#b0b0f1"/><stop offset="0.888" stop-color="#b8b8f0"/><stop offset="0.930" stop-color="#e6e6ee"/><stop offset="0.996" stop-color="#ededee"/></linearGradient><linearGradient id="h91" x1="0" y1="0" x2="0" y2="1"><stop offset="0.000" stop-color="#eeebeb"/><stop offset="0.581" stop-color="#eee8e8"/><stop offset="0.633" stop-color="#ecd9d9"/><stop offset="0.723" stop-color="#e9989b"/><stop offset="0.760" stop-color="#e98e91"/><stop offset="0.774" stop-color="#e99194"/><stop offset="0.789" stop-color="#e99ea0"/><stop offset="0.808" stop-color="#ebbfbf"/><stop offset="0.826" stop-color="#eee8e8"/><stop offset="0.831" stop-color="#e9e9ee"/><stop offset="0.855" stop-color="#bbbbf0"/><stop offset="0.874" stop-color="#b0b0f1"/><stop offset="0.930" stop-color="#e7e7ee"/><stop offset="0.996" stop-color="#eeeeee"/></linearGradient><linearGradient id="h92" x1="0" y1="0" x2="0" y2="1"><stop offset="0.000" stop-color="#eeebeb"/><stop offset="0.581" stop-color="#eee8e8"/><stop offset="0.633" stop-color="#ecd9d9"/><stop offset="0.723" stop-color="#e99a9c"/><stop offset="0.760" stop-color="#e98f92"/><stop offset="0.774" stop-color="#e99295"/><stop offset="0.789" stop-color="#e9a0a2"/><stop offset="0.808" stop-color="#ebc0c0"/><stop offset="0.826" stop-color="#eeeaea"/><stop offset="0.831" stop-color="#e7e7ee"/><stop offset="0.855" stop-color="#babaf0"/><stop offset="0.874" stop-color="#b0b0f1"/><stop offset="0.930" stop-color="#e7e7ee"/><stop offset="0.996" stop-color="#ededee"/></linearGradient><linearGradient id="h93" x1="0" y1="0" x2="0" y2="1"><stop offset="0.000" stop-color="#eeecec"/><stop offset="0.581" stop-color="#eee9e9"/><stop offset="0.633" stop-color="#ecdada"/><stop offset="0.723" stop-color="#e99b9d"/><stop offset="0.760" stop-color="#e99093"/><stop offset="0.774" stop-color="#e99496"/><stop offset="0.789" stop-color="#e9a1a3"/><stop offset="0.808" stop-color="#ebc2c2"/><stop offset="0.826" stop-color="#eeecec"/><stop offset="0.850" stop-color="#bfbff0"/><stop offset="0.869" stop-color="#afaff1"/><stop offset="0.883" stop-color="#b5b5f0"/><stop offset="0.930" stop-color="#e7e7ee"/><stop offset="0.996" stop-color="#ededee"/></linearGradient><linearGradient id="h94" x1="0" y1="0" x2="0" y2="1"><stop offset="0.000" stop-color="#eeecec"/><stop offset="0.576" stop-color="#eee9e9"/><stop offset="0.633" stop-color="#eddada"/><stop offset="0.723" stop-color="#e99c9e"/><stop offset="0.760" stop-color="#e99294"/><stop offset="0.774" stop-color="#e99598"/><stop offset="0.789" stop-color="#e9a3a4"/><stop offset="0.808" stop-color="#ebc3c3"/><stop offset="0.826" stop-color="#eeeded"/><stop offset="0.850" stop-color="#bebef0"/><stop offset="0.869" stop-color="#b0b0f1"/><stop offset="0.883" stop-color="#b6b6f0"/><stop offset="0.930" stop-color="#e7e7ee"/><stop offset="0.996" stop-color="#ededee"/></linearGradient><linearGradient id="h95" x1="0" y1="0" x2="0" y2="1"><stop offset="0.000" stop-color="#eeebeb"/><stop offset="0.576" stop-color="#eee8e8"/><stop offset="0.633" stop-color="#ecd9d9"/><stop offset="0.723" stop-color="#e99ea0"/><stop offset="0.760" stop-color="#e99496"/><stop offset="0.789" stop-color="#e9a5a6"/><stop offset="0.808" stop-color="#ebc5c5"/><stop offset="0.826" stop-color="#eeeded"/><stop offset="0.850" stop-color="#bfbff0"/><stop offset="0.869" stop-color="#b3b3f0"/><stop offset="0.883" stop-color="#b9b9f0"/><stop offset="0.930" stop-color="#e9e9ee"/><stop offset="0.996" stop-color="#eeeeee"/></linearGradient><linearGradient id="h96" x1="0" y1="0" x2="0" y2="1"><stop offset="0.000" stop-color="#eeeaea"/><stop offset="0.576" stop-color="#eee8e8"/><stop offset="0.633" stop-color="#ecd9d9"/><stop offset="0.723" stop-color="#e9a0a1"/><stop offset="0.760" stop-color="#e99698"/><stop offset="0.789" stop-color="#e9a7a8"/><stop offset="0.826" stop-color="#eeeeee"/><stop offset="0.850" stop-color="#c1c1f0"/><stop offset="0.869" stop-color="#b5b5f0"/><stop offset="0.883" stop-color="#bcbcf0"/><stop offset="0.911" stop-color="#ddddef"/><stop offset="0.930" stop-color="#eaeaee"/><stop offset="0.996" stop-color="#eeeded"/></linearGradient><linearGradient id="h97" x1="0" y1="0" x2="0" y2="1"><stop offset="0.000" stop-color="#eee9e9"/><stop offset="0.576" stop-color="#ede7e7"/><stop offset="0.633" stop-color="#ecd9d9"/><stop offset="0.718" stop-color="#e9a3a5"/><stop offset="0.760" stop-color="#e9989a"/><stop offset="0.789" stop-color="#e9a9aa"/><stop offset="0.826" stop-color="#ededee"/><stop offset="0.850" stop-color="#c1c1f0"/><stop offset="0.869" stop-color="#b6b6f0"/><stop offset="0.883" stop-color="#bdbdf0"/><stop offset="0.911" stop-color="#dedeef"/><stop offset="0.930" stop-color="#ebebee"/><stop offset="0.996" stop-color="#eeecec"/></linearGradient><linearGradient id="h98" x1="0" y1="0" x2="0" y2="1"><stop offset="0.000" stop-color="#eee8e8"/><stop offset="0.576" stop-color="#ede6e6"/><stop offset="0.633" stop-color="#ecd8d8"/><stop offset="0.718" stop-color="#e9a5a7"/><stop offset="0.760" stop-color="#e99b9c"/><stop offset="0.789" stop-color="#eaabac"/><stop offset="0.826" stop-color="#eeeeee"/><stop offset="0.850" stop-color="#c4c4f0"/><stop offset="0.869" stop-color="#babaf0"/><stop offset="0.930" stop-color="#ededee"/><stop offset="0.996" stop-color="#eeebeb"/></linearGradient><linearGradient id="h99" x1="0" y1="0" x2="0" y2="1"><stop offset="0.000" stop-color="#ede7e7"/><stop offset="0.576" stop-color="#ede5e5"/><stop offset="0.633" stop-color="#ecd8d8"/><stop offset="0.718" stop-color="#e9a7a8"/><stop offset="0.760" stop-color="#e99c9e"/><stop offset="0.789" stop-color="#eaacad"/><stop offset="0.826" stop-color="#ededee"/><stop offset="0.850" stop-color="#c4c4ef"/><stop offset="0.869" stop-color="#bcbcf0"/><stop offset="0.926" stop-color="#ececee"/><stop offset="0.996" stop-color="#eeeaea"/></linearGradient><linearGradient id="h100" x1="0" y1="0" x2="0" y2="1"><stop offset="0.000" stop-color="#eee9e9"/><stop offset="0.576" stop-color="#ede7e7"/><stop offset="0.628" stop-color="#eddbdb"/><stop offset="0.718" stop-color="#e9a7a8"/><stop offset="0.760" stop-color="#e99d9e"/><stop offset="0.789" stop-color="#eaadae"/><stop offset="0.822" stop-color="#eee8e8"/><stop offset="0.826" stop-color="#eaeaee"/><stop offset="0.850" stop-color="#c0c0f0"/><stop offset="0.869" stop-color="#b8b8f0"/><stop offset="0.926" stop-color="#ebebee"/><stop offset="0.996" stop-color="#eeecec"/></linearGradient><linearGradient id="h101" x1="0" y1="0" x2="0" y2="1"><stop offset="0.000" stop-color="#eeeaea"/><stop offset="0.576" stop-color="#eee8e8"/><stop offset="0.628" stop-color="#eddcdc"/><stop offset="0.718" stop-color="#e9a8a9"/><stop offset="0.760" stop-color="#e99d9f"/><stop offset="0.789" stop-color="#eaafaf"/><stop offset="0.822" stop-color="#eeeaea"/><stop offset="0.826" stop-color="#e7e7ee"/><stop offset="0.845" stop-color="#c4c4f0"/><stop offset="0.864" stop-color="#b6b6f0"/><stop offset="0.878" stop-color="#bbbbf0"/><stop offset="0.926" stop-color="#eaeaee"/><stop offset="0.996" stop-color="#eeeded"/></linearGradient><linearGradient id="h102" x1="0" y1="0" x2="0" y2="1"><stop offset="0.000" stop-color="#eeecec"/><stop offset="0.576" stop-color="#eeeaea"/><stop offset="0.628" stop-color="#eddede"/><stop offset="0.718" stop-color="#e9a8a9"/><stop offset="0.760" stop-color="#e99d9f"/><stop offset="0.774" stop-color="#e9a1a3"/><stop offset="0.789" stop-color="#eaafb0"/><stop offset="0.822" stop-color="#eeeeee"/><stop offset="0.845" stop-color="#bebef0"/><stop offset="0.864" stop-color="#b1b1f1"/><stop offset="0.878" stop-color="#b7b7f0"/><stop offset="0.926" stop-color="#e8e8ee"/><stop offset="0.996" stop-color="#ededee"/></linearGradient><linearGradient id="h103" x1="0" y1="0" x2="0" y2="1"><stop offset="0.000" stop-color="#eeeded"/><stop offset="0.576" stop-color="#eeebeb"/><stop offset="0.628" stop-color="#eddfdf"/><stop offset="0.718" stop-color="#e9a8a9"/><stop offset="0.760" stop-color="#e99e9f"/><stop offset="0.774" stop-color="#e9a2a3"/><stop offset="0.789" stop-color="#eab1b1"/><stop offset="0.822" stop-color="#ebebee"/><stop offset="0.845" stop-color="#bbbbf0"/><stop offset="0.864" stop-color="#adadf1"/><stop offset="0.878" stop-color="#b5b5f0"/><stop offset="0.907" stop-color="#d8d8ef"/><stop offset="0.926" stop-color="#e6e6ee"/><stop offset="0.996" stop-color="#ebebee"/></linearGradient><linearGradient id="h104" x1="0" y1="0" x2="0" y2="1"><stop offset="0.000" stop-color="#eeebeb"/><stop offset="0.576" stop-color="#eee9e9"/><stop offset="0.628" stop-color="#eddddd"/><stop offset="0.718" stop-color="#eaaaab"/><stop offset="0.760" stop-color="#e9a0a2"/><stop offset="0.789" stop-color="#eab2b3"/><stop offset="0.822" stop-color="#ededee"/><stop offset="0.845" stop-color="#bfbff0"/><stop offset="0.864" stop-color="#b4b4f0"/><stop offset="0.878" stop-color="#bbbbf0"/><stop offset="0.907" stop-color="#dcdcef"/><stop offset="0.926" stop-color="#e9e9ee"/><stop offset="0.996" stop-color="#eeeeee"/></linearGradient><linearGradient id="h105" x1="0" y1="0" x2="0" y2="1"><stop offset="0.000" stop-color="#eeeaea"/><stop offset="0.576" stop-color="#eee8e8"/><stop offset="0.628" stop-color="#eddddd"/><stop offset="0.718" stop-color="#eaabac"/><stop offset="0.760" stop-color="#e9a2a3"/><stop offset="0.789" stop-color="#eab4b4"/><stop offset="0.822" stop-color="#ececee"/><stop offset="0.845" stop-color="#c1c1f0"/><stop offset="0.864" stop-color="#b7b7f0"/><stop offset="0.926" stop-color="#ebebee"/><stop offset="0.996" stop-color="#eeeded"/></linearGradient><linearGradient id="h106" x1="0" y1="0" x2="0" y2="1"><stop offset="0.000" stop-color="#eeebeb"/><stop offset="0.576" stop-color="#eee9e9"/><stop offset="0.633" stop-color="#eddcdc"/><stop offset="0.718" stop-color="#eaacad"/><stop offset="0.756" stop-color="#e9a2a4"/><stop offset="0.784" stop-color="#eaafaf"/><stop offset="0.817" stop-color="#eee8e8"/><stop offset="0.822" stop-color="#eaeaee"/><stop offset="0.845" stop-color="#bdbdf0"/><stop offset="0.864" stop-color="#b3b3f0"/><stop offset="0.921" stop-color="#e8e8ee"/><stop offset="0.996" stop-color="#eeeeee"/></linearGradient><linearGradient id="h107" x1="0" y1="0" x2="0" y2="1"><stop offset="0.000" stop-color="#eeebeb"/><stop offset="0.576" stop-color="#eee9e9"/><stop offset="0.633" stop-color="#eddcdc"/><stop offset="0.718" stop-color="#eaadad"/><stop offset="0.756" stop-color="#e9a3a4"/><stop offset="0.784" stop-color="#eab0b1"/><stop offset="0.817" stop-color="#eeeaea"/><stop offset="0.822" stop-color="#e8e8ee"/><stop offset="0.845" stop-color="#bcbcf0"/><stop offset="0.864" stop-color="#b3b3f0"/><stop offset="0.921" stop-color="#e7e7ee"/><stop offset="0.996" stop-color="#ededee"/></linearGradient><linearGradient id="h108" x1="0" y1="0" x2="0" y2="1"><stop offset="0.000" stop-color="#eeebeb"/><stop offset="0.576" stop-color="#eee9e9"/><stop offset="0.628" stop-color="#eddede"/><stop offset="0.718" stop-color="#eaaeae"/><stop offset="0.756" stop-color="#e9a4a6"/><stop offset="0.784" stop-color="#eab1b2"/><stop offset="0.817" stop-color="#eeeaea"/><stop offset="0.841" stop-color="#c3c3f0"/><stop offset="0.860" stop-color="#b4b4f0"/><stop offset="0.874" stop-color="#b9b9f0"/><stop offset="0.921" stop-color="#e9e9ee"/><stop offset="0.996" stop-color="#eeeeee"/></linearGradient><linearGradient id="h109" x1="0" y1="0" x2="0" y2="1"><stop offset="0.000" stop-color="#eeebeb"/><stop offset="0.576" stop-color="#eee9e9"/><stop offset="0.628" stop-color="#eddede"/><stop offset="0.718" stop-color="#eaaeaf"/><stop offset="0.756" stop-color="#e9a5a7"/><stop offset="0.784" stop-color="#eab3b3"/><stop offset="0.817" stop-color="#eeecec"/><stop offset="0.841" stop-color="#c2c2f0"/><stop offset="0.860" stop-color="#b4b4f0"/><stop offset="0.874" stop-color="#babaf0"/><stop offset="0.921" stop-color="#e9e9ee"/><stop offset="0.996" stop-color="#eeeeee"/></linearGradient><linearGradient id="h110" x1="0" y1="0" x2="0" y2="1"><stop offset="0.000" stop-color="#eeecec"/><stop offset="0.576" stop-color="#eeeaea"/><stop offset="0.628" stop-color="#eddfdf"/><stop offset="0.718" stop-color="#eaafb0"/><stop offset="0.756" stop-color="#e9a6a7"/><stop offset="0.784" stop-color="#eab4b4"/><stop offset="0.817" stop-color="#eeeeee"/><stop offset="0.841" stop-color="#bfbff0"/><stop offset="0.860" stop-color="#b2b2f0"/><stop offset="0.874" stop-color="#b8b8f0"/><stop offset="0.902" stop-color="#dadaef"/><stop offset="0.921" stop-color="#e8e8ee"/><stop offset="0.996" stop-color="#ededee"/></linearGradient><linearGradient id="h111" x1="0" y1="0" x2="0" y2="1"><stop offset="0.000" stop-color="#eeebeb"/><stop offset="0.576" stop-color="#eee9e9"/><stop offset="0.628" stop-color="#eddfdf"/><stop offset="0.718" stop-color="#eab0b1"/><stop offset="0.756" stop-color="#e9a7a9"/><stop offset="0.784" stop-color="#eab5b5"/><stop offset="0.817" stop-color="#ededee"/><stop offset="0.841" stop-color="#bfbff0"/><stop offset="0.860" stop-color="#b3b3f0"/><stop offset="0.874" stop-color="#babaf0"/><stop offset="0.902" stop-color="#dbdbef"/><stop offset="0.921" stop-color="#e9e9ee"/><stop offset="0.996" stop-color="#eeeeee"/></linearGradient><linearGradient id="h112" x1="0" y1="0" x2="0" y2="1"><stop offset="0.000" stop-color="#eeeaea"/><stop offset="0.576" stop-color="#eee8e8"/><stop offset="0.628" stop-color="#eddede"/><stop offset="0.718" stop-color="#eab1b2"/><stop offset="0.756" stop-color="#eaa9aa"/><stop offset="0.784" stop-color="#eab7b7"/><stop offset="0.817" stop-color="#ededee"/><stop offset="0.841" stop-color="#c2c2f0"/><stop offset="0.860" stop-color="#b7b7f0"/><stop offset="0.874" stop-color="#bebef0"/><stop offset="0.902" stop-color="#dedeef"/><stop offset="0.921" stop-color="#ebebee"/><stop offset="0.996" stop-color="#eeeded"/></linearGradient><linearGradient id="h113" x1="0" y1="0" x2="0" y2="1"><stop offset="0.000" stop-color="#eeeaea"/><stop offset="0.576" stop-color="#eee8e8"/><stop offset="0.628" stop-color="#eddede"/><stop offset="0.718" stop-color="#eab2b3"/><stop offset="0.756" stop-color="#eaaaab"/><stop offset="0.784" stop-color="#eab8b8"/><stop offset="0.817" stop-color="#ececee"/><stop offset="0.841" stop-color="#c0c0f0"/><stop offset="0.860" stop-color="#b7b7f0"/><stop offset="0.921" stop-color="#ebebee"/><stop offset="0.996" stop-color="#eeeded"/></linearGradient><linearGradient id="h114" x1="0" y1="0" x2="0" y2="1"><stop offset="0.000" stop-color="#eeeaea"/><stop offset="0.576" stop-color="#eee8e8"/><stop offset="0.628" stop-color="#eddede"/><stop offset="0.718" stop-color="#eab3b3"/><stop offset="0.756" stop-color="#eaabac"/><stop offset="0.784" stop-color="#eab9b9"/><stop offset="0.817" stop-color="#eaeaee"/><stop offset="0.841" stop-color="#c0c0f0"/><stop offset="0.860" stop-color="#b7b7f0"/><stop offset="0.921" stop-color="#ebebee"/><stop offset="0.996" stop-color="#eeeded"/></linearGradient><linearGradient id="h115" x1="0" y1="0" x2="0" y2="1"><stop offset="0.000" stop-color="#eeeaea"/><stop offset="0.576" stop-color="#eee8e8"/><stop offset="0.628" stop-color="#eddede"/><stop offset="0.718" stop-color="#eab4b4"/><stop offset="0.756" stop-color="#eaacad"/><stop offset="0.784" stop-color="#eababa"/><stop offset="0.812" stop-color="#eee9e9"/><stop offset="0.817" stop-color="#e9e9ee"/><stop offset="0.841" stop-color="#c0c0f0"/><stop offset="0.860" stop-color="#b8b8f0"/><stop offset="0.921" stop-color="#ececee"/><stop offset="0.996" stop-color="#eeeded"/></linearGradient><linearGradient id="h116" x1="0" y1="0" x2="0" y2="1"><stop offset="0.000" stop-color="#eeeaea"/><stop offset="0.576" stop-color="#eee8e8"/><stop offset="0.628" stop-color="#eddede"/><stop offset="0.718" stop-color="#eab5b5"/><stop offset="0.756" stop-color="#eaadae"/><stop offset="0.784" stop-color="#eabbbb"/><stop offset="0.812" stop-color="#eeeaea"/><stop offset="0.817" stop-color="#e8e8ee"/><stop offset="0.836" stop-color="#c5c5ef"/><stop offset="0.855" stop-color="#b7b7f0"/><stop offset="0.869" stop-color="#bcbcf0"/><stop offset="0.916" stop-color="#eaeaee"/><stop offset="0.996" stop-color="#eeeded"/></linearGradient><linearGradient id="h117" x1="0" y1="0" x2="0" y2="1"><stop offset="0.000" stop-color="#eeeaea"/><stop offset="0.576" stop-color="#eee9e9"/><stop offset="0.628" stop-color="#eddfdf"/><stop offset="0.718" stop-color="#eab6b6"/><stop offset="0.756" stop-color="#eaaeaf"/><stop offset="0.784" stop-color="#eabcbc"/><stop offset="0.812" stop-color="#eeecec"/><stop offset="0.836" stop-color="#c3c3f0"/><stop offset="0.855" stop-color="#b6b6f0"/><stop offset="0.869" stop-color="#bbbbf0"/><stop offset="0.916" stop-color="#e9e9ee"/><stop offset="0.996" stop-color="#eeeeee"/></linearGradient><linearGradient id="h118" x1="0" y1="0" x2="0" y2="1"><stop offset="0.000" stop-color="#eeecec"/><stop offset="0.576" stop-color="#eeeaea"/><stop offset="0.628" stop-color="#ede0e0"/><stop offset="0.718" stop-color="#eab6b7"/><stop offset="0.756" stop-color="#eaafb0"/><stop offset="0.784" stop-color="#eabebe"/><stop offset="0.812" stop-color="#eeeeee"/><stop offset="0.836" stop-color="#c0c0f0"/><stop offset="0.855" stop-color="#b3b3f0"/><stop offset="0.869" stop-color="#b9b9f0"/><stop offset="0.916" stop-color="#e8e8ee"/><stop offset="0.996" stop-color="#ededee"/></linearGradient><linearGradient id="h119" x1="0" y1="0" x2="0" y2="1"><stop offset="0.000" stop-color="#eeecec"/><stop offset="0.576" stop-color="#eeeaea"/><stop offset="0.628" stop-color="#ede0e0"/><stop offset="0.718" stop-color="#eab7b7"/><stop offset="0.756" stop-color="#eab0b1"/><stop offset="0.784" stop-color="#eabfbf"/><stop offset="0.812" stop-color="#ececee"/><stop offset="0.836" stop-color="#bfbff0"/><stop offset="0.855" stop-color="#b3b3f0"/><stop offset="0.869" stop-color="#babaf0"/><stop offset="0.897" stop-color="#dbdbef"/><stop offset="0.916" stop-color="#e8e8ee"/><stop offset="0.996" stop-color="#ededee"/></linearGradient><linearGradient id="h120" x1="0" y1="0" x2="0" y2="1"><stop offset="0.000" stop-color="#eeebeb"/><stop offset="0.576" stop-color="#eee9e9"/><stop offset="0.628" stop-color="#ede0e0"/><stop offset="0.713" stop-color="#eababa"/><stop offset="0.756" stop-color="#eab1b2"/><stop offset="0.784" stop-color="#ebc0c0"/><stop offset="0.812" stop-color="#ececee"/><stop offset="0.836" stop-color="#c1c1f0"/><stop offset="0.855" stop-color="#b6b6f0"/><stop offset="0.869" stop-color="#bdbdf0"/><stop offset="0.897" stop-color="#ddddef"/><stop offset="0.916" stop-color="#eaeaee"/><stop offset="0.996" stop-color="#eeeeee"/></linearGradient><linearGradient id="h121" x1="0" y1="0" x2="0" y2="1"><stop offset="0.000" stop-color="#eeeaea"/><stop offset="0.576" stop-color="#eee8e8"/><stop offset="0.628" stop-color="#eddfdf"/><stop offset="0.713" stop-color="#eabbbb"/><stop offset="0.756" stop-color="#eab3b3"/><stop offset="0.784" stop-color="#ebc1c1"/><stop offset="0.812" stop-color="#ececee"/><stop offset="0.836" stop-color="#c1c1f0"/><stop offset="0.855" stop-color="#b7b7f0"/><stop offset="0.916" stop-color="#ebebee"/><stop offset="0.996" stop-color="#eeeded"/></linearGradient><linearGradient id="h122" x1="0" y1="0" x2="0" y2="1"><stop offset="0.000" stop-color="#eee9e9"/><stop offset="0.576" stop-color="#eee8e8"/><stop offset="0.628" stop-color="#eddfdf"/><stop offset="0.713" stop-color="#eabbbb"/><stop offset="0.756" stop-color="#eab3b4"/><stop offset="0.784" stop-color="#ebc1c1"/><stop offset="0.812" stop-color="#ececee"/><stop offset="0.836" stop-color="#c3c3f0"/><stop offset="0.855" stop-color="#babaf0"/><stop offset="0.916" stop-color="#ececee"/><stop offset="0.996" stop-color="#eeecec"/></linearGradient><linearGradient id="h123" x1="0" y1="0" x2="0" y2="1"><stop offset="0.000" stop-color="#eee8e8"/><stop offset="0.576" stop-color="#ede6e6"/><stop offset="0.628" stop-color="#eddede"/><stop offset="0.713" stop-color="#eabcbc"/><stop offset="0.756" stop-color="#eab4b4"/><stop offset="0.784" stop-color="#ebc2c2"/><stop offset="0.812" stop-color="#ededee"/><stop offset="0.836" stop-color="#c6c6ef"/><stop offset="0.855" stop-color="#bdbdf0"/><stop offset="0.916" stop-color="#eeeeee"/><stop offset="0.996" stop-color="#eeebeb"/></linearGradient><linearGradient id="h124" x1="0" y1="0" x2="0" y2="1"><stop offset="0.000" stop-color="#eee8e8"/><stop offset="0.576" stop-color="#ede7e7"/><stop offset="0.628" stop-color="#eddede"/><stop offset="0.713" stop-color="#eabcbc"/><stop offset="0.751" stop-color="#eab5b5"/><stop offset="0.779" stop-color="#eabebe"/><stop offset="0.812" stop-color="#ebebee"/><stop offset="0.836" stop-color="#c3c3f0"/><stop offset="0.855" stop-color="#bcbcf0"/><stop offset="0.916" stop-color="#ededee"/><stop offset="0.996" stop-color="#eeebeb"/></linearGradient><linearGradient id="h125" x1="0" y1="0" x2="0" y2="1"><stop offset="0.000" stop-color="#eee9e9"/><stop offset="0.576" stop-color="#eee8e8"/><stop offset="0.628" stop-color="#eddfdf"/><stop offset="0.713" stop-color="#eabcbc"/><stop offset="0.751" stop-color="#eab5b5"/><stop offset="0.779" stop-color="#ebbfbf"/><stop offset="0.808" stop-color="#eeeaea"/><stop offset="0.812" stop-color="#e9e9ee"/><stop offset="0.831" stop-color="#c7c7ef"/><stop offset="0.850" stop-color="#babaf0"/><stop offset="0.864" stop-color="#bebef0"/><stop offset="0.897" stop-color="#e1e1ee"/><stop offset="0.916" stop-color="#ececee"/><stop offset="0.996" stop-color="#eeecec"/></linearGradient><linearGradient id="h126" x1="0" y1="0" x2="0" y2="1"><stop offset="0.000" stop-color="#eee9e9"/><stop offset="0.576" stop-color="#eee7e7"/><stop offset="0.628" stop-color="#eddfdf"/><stop offset="0.713" stop-color="#eabdbd"/><stop offset="0.751" stop-color="#eab6b6"/><stop offset="0.779" stop-color="#ebc0c0"/><stop offset="0.808" stop-color="#eeeaea"/><stop offset="0.831" stop-color="#c7c7ef"/><stop offset="0.850" stop-color="#bbbbf0"/><stop offset="0.864" stop-color="#bfbff0"/><stop offset="0.897" stop-color="#e2e2ee"/><stop offset="0.916" stop-color="#ededee"/><stop offset="0.996" stop-color="#eeecec"/></linearGradient><linearGradient id="h127" x1="0" y1="0" x2="0" y2="1"><stop offset="0.000" stop-color="#eee9e9"/><stop offset="0.576" stop-color="#eee8e8"/><stop offset="0.628" stop-color="#eddfdf"/><stop offset="0.713" stop-color="#eabdbd"/><stop offset="0.751" stop-color="#eab6b6"/><stop offset="0.779" stop-color="#ebc0c0"/><stop offset="0.808" stop-color="#eeecec"/><stop offset="0.831" stop-color="#c5c5ef"/><stop offset="0.850" stop-color="#b9b9f0"/><stop offset="0.864" stop-color="#bfbff0"/><stop offset="0.911" stop-color="#ebebee"/><stop offset="0.996" stop-color="#eeeded"/></linearGradient><linearGradient id="h128" x1="0" y1="0" x2="0" y2="1"><stop offset="0.000" stop-color="#eeeaea"/><stop offset="0.576" stop-color="#eee8e8"/><stop offset="0.628" stop-color="#ede0e0"/><stop offset="0.713" stop-color="#eabebe"/><stop offset="0.751" stop-color="#eab7b7"/><stop offset="0.779" stop-color="#ebc1c1"/><stop offset="0.808" stop-color="#eeeded"/><stop offset="0.831" stop-color="#c4c4ef"/><stop offset="0.850" stop-color="#b9b9f0"/><stop offset="0.864" stop-color="#bfbff0"/><stop offset="0.911" stop-color="#ebebee"/><stop offset="0.996" stop-color="#eeeded"/></linearGradient><linearGradient id="h129" x1="0" y1="0" x2="0" y2="1"><stop offset="0.000" stop-color="#eeeaea"/><stop offset="0.576" stop-color="#eee9e9"/><stop offset="0.628" stop-color="#ede0e0"/><stop offset="0.713" stop-color="#eabebe"/><stop offset="0.751" stop-color="#eab7b7"/><stop offset="0.779" stop-color="#ebc2c2"/><stop offset="0.808" stop-color="#ededee"/><stop offset="0.831" stop-color="#c3c3f0"/><stop offset="0.850" stop-color="#b8b8f0"/><stop offset="0.864" stop-color="#bebef0"/><stop offset="0.893" stop-color="#dedeef"/><stop offset="0.911" stop-color="#eaeaee"/><stop offset="0.996" stop-color="#eeeded"/></linearGradient><linearGradient id="h130" x1="0" y1="0" x2="0" y2="1"><stop offset="0.000" stop-color="#eeebeb"/><stop offset="0.576" stop-color="#eee9e9"/><stop offset="0.628" stop-color="#ede1e1"/><stop offset="0.713" stop-color="#eabebe"/><stop offset="0.751" stop-color="#eab8b8"/><stop offset="0.779" stop-color="#ebc3c3"/><stop offset="0.808" stop-color="#ececee"/><stop offset="0.831" stop-color="#c1c1f0"/><stop offset="0.850" stop-color="#b7b7f0"/><stop offset="0.911" stop-color="#eaeaee"/><stop offset="0.996" stop-color="#eeeeee"/></linearGradient><linearGradient id="h131" x1="0" y1="0" x2="0" y2="1"><stop offset="0.000" stop-color="#eeebeb"/><stop offset="0.576" stop-color="#eeeaea"/><stop offset="0.628" stop-color="#ede1e1"/><stop offset="0.713" stop-color="#ebbfbf"/><stop offset="0.751" stop-color="#eab8b8"/><stop offset="0.779" stop-color="#ebc4c4"/><stop offset="0.803" stop-color="#eee9e9"/><stop offset="0.808" stop-color="#eaeaee"/><stop offset="0.831" stop-color="#c0c0f0"/><stop offset="0.850" stop-color="#b6b6f0"/><stop offset="0.911" stop-color="#e9e9ee"/><stop offset="0.996" stop-color="#ededee"/></linearGradient><linearGradient id="h132" x1="0" y1="0" x2="0" y2="1"><stop offset="0.000" stop-color="#eeeaea"/><stop offset="0.576" stop-color="#eee9e9"/><stop offset="0.628" stop-color="#ede1e1"/><stop offset="0.713" stop-color="#ebbfbf"/><stop offset="0.751" stop-color="#eab9b9"/><stop offset="0.779" stop-color="#ebc4c4"/><stop offset="0.803" stop-color="#eee9e9"/><stop offset="0.808" stop-color="#eaeaee"/><stop offset="0.831" stop-color="#c1c1f0"/><stop offset="0.850" stop-color="#b8b8f0"/><stop offset="0.911" stop-color="#ebebee"/><stop offset="0.996" stop-color="#eeeeee"/></linearGradient><linearGradient id="h133" x1="0" y1="0" x2="0" y2="1"><stop offset="0.000" stop-color="#eeeaea"/><stop offset="0.576" stop-color="#eee8e8"/><stop offset="0.628" stop-color="#ede0e0"/><stop offset="0.713" stop-color="#ebbfbf"/><stop offset="0.751" stop-color="#eab9b9"/><stop offset="0.779" stop-color="#ebc5c5"/><stop offset="0.803" stop-color="#eee9e9"/><stop offset="0.808" stop-color="#eaeaee"/><stop offset="0.831" stop-color="#c2c2f0"/><stop offset="0.850" stop-color="#babaf0"/><stop offset="0.911" stop-color="#ececee"/><stop offset="0.996" stop-color="#eeeded"/></linearGradient><linearGradient id="h134" x1="0" y1="0" x2="0" y2="1"><stop offset="0.000" stop-color="#eeecec"/><stop offset="0.576" stop-color="#eeebeb"/><stop offset="0.628" stop-color="#ede2e2"/><stop offset="0.713" stop-color="#ebc0c0"/><stop offset="0.751" stop-color="#eababa"/><stop offset="0.779" stop-color="#ebc6c6"/><stop offset="0.803" stop-color="#eeeded"/><stop offset="0.826" stop-color="#c2c2f0"/><stop offset="0.845" stop-color="#b4b4f0"/><stop offset="0.860" stop-color="#b9b9f0"/><stop offset="0.893" stop-color="#ddddef"/><stop offset="0.911" stop-color="#e9e9ee"/><stop offset="0.996" stop-color="#ececee"/></linearGradient><linearGradient id="h135" x1="0" y1="0" x2="0" y2="1"><stop offset="0.000" stop-color="#eeeded"/><stop offset="0.576" stop-color="#eeecec"/><stop offset="0.628" stop-color="#ede3e3"/><stop offset="0.713" stop-color="#ebc1c1"/><stop offset="0.751" stop-color="#eababa"/><stop offset="0.774" stop-color="#ebc2c2"/><stop offset="0.803" stop-color="#ededee"/><stop offset="0.826" stop-color="#bfbff0"/><stop offset="0.845" stop-color="#b1b1f0"/><stop offset="0.860" stop-color="#b7b7f0"/><stop offset="0.907" stop-color="#e6e6ee"/><stop offset="0.996" stop-color="#ebebee"/></linearGradient><linearGradient id="h136" x1="0" y1="0" x2="0" y2="1"><stop offset="0.000" stop-color="#eeebeb"/><stop offset="0.576" stop-color="#eeeaea"/><stop offset="0.628" stop-color="#ede2e2"/><stop offset="0.713" stop-color="#ebc1c1"/><stop offset="0.751" stop-color="#eabbbb"/><stop offset="0.779" stop-color="#ebc7c7"/><stop offset="0.803" stop-color="#eeeeee"/><stop offset="0.826" stop-color="#c3c3f0"/><stop offset="0.845" stop-color="#b6b6f0"/><stop offset="0.860" stop-color="#bbbbf0"/><stop offset="0.907" stop-color="#e9e9ee"/><stop offset="0.996" stop-color="#ededee"/></linearGradient><linearGradient id="h137" x1="0" y1="0" x2="0" y2="1"><stop offset="0.000" stop-color="#eeeaea"/><stop offset="0.576" stop-color="#eee9e9"/><stop offset="0.628" stop-color="#ede1e1"/><stop offset="0.713" stop-color="#ebc1c1"/><stop offset="0.751" stop-color="#eabbbb"/><stop offset="0.779" stop-color="#ebc8c8"/><stop offset="0.803" stop-color="#eeeeee"/><stop offset="0.826" stop-color="#c4c4ef"/><stop offset="0.845" stop-color="#b9b9f0"/><stop offset="0.860" stop-color="#bebef0"/><stop offset="0.907" stop-color="#eaeaee"/><stop offset="0.996" stop-color="#eeeded"/></linearGradient><linearGradient id="h138" x1="0" y1="0" x2="0" y2="1"><stop offset="0.000" stop-color="#eeeaea"/><stop offset="0.576" stop-color="#eee8e8"/><stop offset="0.628" stop-color="#ede1e1"/><stop offset="0.713" stop-color="#ebc1c1"/><stop offset="0.751" stop-color="#eabcbc"/><stop offset="0.774" stop-color="#ebc4c4"/><stop offset="0.803" stop-color="#eeeeee"/><stop offset="0.826" stop-color="#c5c5ef"/><stop offset="0.845" stop-color="#babaf0"/><stop offset="0.860" stop-color="#c0c0f0"/><stop offset="0.907" stop-color="#ebebee"/><stop offset="0.996" stop-color="#eeeded"/></linearGradient><linearGradient id="h139" x1="0" y1="0" x2="0" y2="1"><stop offset="0.000" stop-color="#eeeaea"/><stop offset="0.576" stop-color="#eee9e9"/><stop offset="0.628" stop-color="#ede1e1"/><stop offset="0.713" stop-color="#ebc2c2"/><stop offset="0.751" stop-color="#eabcbc"/><stop offset="0.774" stop-color="#ebc5c5"/><stop offset="0.803" stop-color="#ededee"/><stop offset="0.826" stop-color="#c3c3f0"/><stop offset="0.845" stop-color="#b9b9f0"/><stop offset="0.907" stop-color="#ebebee"/><stop offset="0.996" stop-color="#eeeded"/></linearGradient><linearGradient id="h140" x1="0" y1="0" x2="0" y2="1"><stop offset="0.000" stop-color="#eeebeb"/><stop offset="0.576" stop-color="#eeeaea"/><stop offset="0.628" stop-color="#ede2e2"/><stop offset="0.746" stop-color="#eabdbd"/><stop offset="0.774" stop-color="#ebc6c6"/><stop offset="0.798" stop-color="#eee8e8"/><stop offset="0.803" stop-color="#eaeaee"/><stop offset="0.826" stop-color="#c1c1f0"/><stop offset="0.845" stop-color="#b7b7f0"/><stop offset="0.907" stop-color="#eaeaee"/><stop offset="0.996" stop-color="#eeeeee"/></linearGradient><linearGradient id="h141" x1="0" y1="0" x2="0" y2="1"><stop offset="0.000" stop-color="#eeebeb"/><stop offset="0.576" stop-color="#eee9e9"/><stop offset="0.628" stop-color="#ede1e1"/><stop offset="0.746" stop-color="#eabdbd"/><stop offset="0.774" stop-color="#ebc6c6"/><stop offset="0.798" stop-color="#eee9e9"/><stop offset="0.803" stop-color="#eaeaee"/><stop offset="0.826" stop-color="#c1c1f0"/><stop offset="0.845" stop-color="#b8b8f0"/><stop offset="0.907" stop-color="#eaeaee"/><stop offset="0.996" stop-color="#eeeeee"/></linearGradient><linearGradient id="h142" x1="0" y1="0" x2="0" y2="1"><stop offset="0.000" stop-color="#eeeaea"/><stop offset="0.576" stop-color="#eee9e9"/><stop offset="0.628" stop-color="#ede1e1"/><stop offset="0.746" stop-color="#eabebe"/><stop offset="0.774" stop-color="#ebc7c7"/><stop offset="0.803" stop-color="#eaeaee"/><stop offset="0.826" stop-color="#c2c2f0"/><stop offset="0.845" stop-color="#babaf0"/><stop offset="0.907" stop-color="#ebebee"/><stop offset="0.996" stop-color="#eeeded"/></linearGradient><linearGradient id="h143" x1="0" y1="0" x2="0" y2="1"><stop offset="0.000" stop-color="#eee9e9"/><stop offset="0.576" stop-color="#eee8e8"/><stop offset="0.628" stop-color="#ede1e1"/><stop offset="0.746" stop-color="#eabebe"/><stop offset="0.774" stop-color="#ebc8c8"/><stop offset="0.798" stop-color="#eeeaea"/><stop offset="0.803" stop-color="#e9e9ee"/><stop offset="0.822" stop-color="#c9c9ef"/><stop offset="0.841" stop-color="#bbbbf0"/><stop offset="0.855" stop-color="#c0c0f0"/><stop offset="0.888" stop-color="#e2e2ee"/><stop offset="0.907" stop-color="#ececee"/><stop offset="0.996" stop-color="#eeeded"/></linearGradient><linearGradient id="h144" x1="0" y1="0" x2="0" y2="1"><stop offset="0.000" stop-color="#eee9e9"/><stop offset="0.576" stop-color="#eee8e8"/><stop offset="0.628" stop-color="#ede0e0"/><stop offset="0.746" stop-color="#ebbfbf"/><stop offset="0.774" stop-color="#ebc8c8"/><stop offset="0.798" stop-color="#eeeaea"/><stop offset="0.803" stop-color="#e9e9ee"/><stop offset="0.822" stop-color="#c9c9ef"/><stop offset="0.841" stop-color="#bdbdf0"/><stop offset="0.855" stop-color="#c1c1f0"/><stop offset="0.888" stop-color="#e3e3ee"/><stop offset="0.907" stop-color="#ededee"/><stop offset="0.996" stop-color="#eeecec"/></linearGradient><linearGradient id="h145" x1="0" y1="0" x2="0" y2="1"><stop offset="0.000" stop-color="#eeeaea"/><stop offset="0.576" stop-color="#eee8e8"/><stop offset="0.628" stop-color="#ede1e1"/><stop offset="0.746" stop-color="#ebbfbf"/><stop offset="0.774" stop-color="#ebc9c9"/><stop offset="0.798" stop-color="#eeecec"/><stop offset="0.822" stop-color="#c7c7ef"/><stop offset="0.841" stop-color="#bbbbf0"/><stop offset="0.855" stop-color="#c0c0f0"/><stop offset="0.888" stop-color="#e2e2ee"/><stop offset="0.907" stop-color="#ececee"/><stop offset="0.996" stop-color="#eeeded"/></linearGradient><linearGradient id="h146" x1="0" y1="0" x2="0" y2="1"><stop offset="0.000" stop-color="#eeecec"/><stop offset="0.571" stop-color="#eeebeb"/><stop offset="0.623" stop-color="#ede4e4"/><stop offset="0.746" stop-color="#ebc0c0"/><stop offset="0.774" stop-color="#ebcaca"/><stop offset="0.798" stop-color="#ededee"/><stop offset="0.822" stop-color="#c3c3f0"/><stop offset="0.841" stop-color="#b7b7f0"/><stop offset="0.855" stop-color="#bdbdf0"/><stop offset="0.902" stop-color="#e9e9ee"/><stop offset="0.996" stop-color="#ededee"/></linearGradient><filter id="nzr" x="0" y="0" width="1" height="1" filterUnits="objectBoundingBox"><feTurbulence type="fractalNoise" baseFrequency="0.55 0.16" numOctaves="2" seed="5"/><feColorMatrix type="matrix" values="0 0 0 0 0.91  0 0 0 0 0.45  0 0 0 0 0.47  2.4 0 0 0 -1.3"/></filter><filter id="nzb" x="0" y="0" width="1" height="1" filterUnits="objectBoundingBox"><feTurbulence type="fractalNoise" baseFrequency="0.55 0.16" numOctaves="2" seed="11"/><feColorMatrix type="matrix" values="0 0 0 0 0.45  0 0 0 0 0.45  0 0 0 0 0.95  0 2.4 0 0 -1.3"/></filter><filter id="mb"><feGaussianBlur stdDeviation="2.5"/></filter><mask id="nzm" maskUnits="userSpaceOnUse" x="55.0" y="42.5" width="441.0" height="423.5"><rect x="55.0" y="42.5" width="441.0" height="423.5" fill="#fff"/><polygon points="143.5,266.0 136.5,271.0 128.5,281.0 119.0,297.0 111.5,313.0 105.5,329.0 101.5,345.0 98.5,361.0 97.0,377.0 98.5,393.0 105.0,409.0 111.5,417.0 120.5,425.0 131.5,431.0 151.5,431.0 162.5,425.0 171.5,417.0 178.0,409.0 184.5,393.0 186.0,377.0 184.5,361.0 181.5,345.0 177.5,329.0 171.5,313.0 164.0,297.0 154.5,281.0 146.5,271.0 139.5,266.0" fill="#000" filter="url(#mb)"/></mask></defs><rect x="55.0" y="42.5" width="3.35" height="423.5" fill="url(#h0)"/><rect x="58.0" y="42.5" width="3.35" height="423.5" fill="url(#h1)"/><rect x="61.0" y="42.5" width="3.35" height="423.5" fill="url(#h2)"/><rect x="64.0" y="42.5" width="3.35" height="423.5" fill="url(#h3)"/><rect x="67.0" y="42.5" width="3.35" height="423.5" fill="url(#h4)"/><rect x="70.0" y="42.5" width="3.35" height="423.5" fill="url(#h5)"/><rect x="73.0" y="42.5" width="3.35" height="423.5" fill="url(#h6)"/><rect x="76.0" y="42.5" width="3.35" height="423.5" fill="url(#h7)"/><rect x="79.0" y="42.5" width="3.35" height="423.5" fill="url(#h8)"/><rect x="82.0" y="42.5" width="3.35" height="423.5" fill="url(#h9)"/><rect x="85.0" y="42.5" width="3.35" height="423.5" fill="url(#h10)"/><rect x="88.0" y="42.5" width="3.35" height="423.5" fill="url(#h11)"/><rect x="91.0" y="42.5" width="3.35" height="423.5" fill="url(#h12)"/><rect x="94.0" y="42.5" width="3.35" height="423.5" fill="url(#h13)"/><rect x="97.0" y="42.5" width="3.35" height="423.5" fill="url(#h14)"/><rect x="100.0" y="42.5" width="3.35" height="423.5" fill="url(#h15)"/><rect x="103.0" y="42.5" width="3.35" height="423.5" fill="url(#h16)"/><rect x="106.0" y="42.5" width="3.35" height="423.5" fill="url(#h17)"/><rect x="109.0" y="42.5" width="3.35" height="423.5" fill="url(#h18)"/><rect x="112.0" y="42.5" width="3.35" height="423.5" fill="url(#h19)"/><rect x="115.0" y="42.5" width="3.35" height="423.5" fill="url(#h20)"/><rect x="118.0" y="42.5" width="3.35" height="423.5" fill="url(#h21)"/><rect x="121.0" y="42.5" width="3.35" height="423.5" fill="url(#h22)"/><rect x="124.0" y="42.5" width="3.35" height="423.5" fill="url(#h23)"/><rect x="127.0" y="42.5" width="3.35" height="423.5" fill="url(#h24)"/><rect x="130.0" y="42.5" width="3.35" height="423.5" fill="url(#h25)"/><rect x="133.0" y="42.5" width="3.35" height="423.5" fill="url(#h26)"/><rect x="136.0" y="42.5" width="3.35" height="423.5" fill="url(#h27)"/><rect x="139.0" y="42.5" width="3.35" height="423.5" fill="url(#h28)"/><rect x="142.0" y="42.5" width="3.35" height="423.5" fill="url(#h29)"/><rect x="145.0" y="42.5" width="3.35" height="423.5" fill="url(#h30)"/><rect x="148.0" y="42.5" width="3.35" height="423.5" fill="url(#h31)"/><rect x="151.0" y="42.5" width="3.35" height="423.5" fill="url(#h32)"/><rect x="154.0" y="42.5" width="3.35" height="423.5" fill="url(#h33)"/><rect x="157.0" y="42.5" width="3.35" height="423.5" fill="url(#h34)"/><rect x="160.0" y="42.5" width="3.35" height="423.5" fill="url(#h35)"/><rect x="163.0" y="42.5" width="3.35" height="423.5" fill="url(#h36)"/><rect x="166.0" y="42.5" width="3.35" height="423.5" fill="url(#h37)"/><rect x="169.0" y="42.5" width="3.35" height="423.5" fill="url(#h38)"/><rect x="172.0" y="42.5" width="3.35" height="423.5" fill="url(#h39)"/><rect x="175.0" y="42.5" width="3.35" height="423.5" fill="url(#h40)"/><rect x="178.0" y="42.5" width="3.35" height="423.5" fill="url(#h41)"/><rect x="181.0" y="42.5" width="3.35" height="423.5" fill="url(#h42)"/><rect x="184.0" y="42.5" width="3.35" height="423.5" fill="url(#h43)"/><rect x="187.0" y="42.5" width="3.35" height="423.5" fill="url(#h44)"/><rect x="190.0" y="42.5" width="3.35" height="423.5" fill="url(#h45)"/><rect x="193.0" y="42.5" width="3.35" height="423.5" fill="url(#h46)"/><rect x="196.0" y="42.5" width="3.35" height="423.5" fill="url(#h47)"/><rect x="199.0" y="42.5" width="3.35" height="423.5" fill="url(#h48)"/><rect x="202.0" y="42.5" width="3.35" height="423.5" fill="url(#h49)"/><rect x="205.0" y="42.5" width="3.35" height="423.5" fill="url(#h50)"/><rect x="208.0" y="42.5" width="3.35" height="423.5" fill="url(#h51)"/><rect x="211.0" y="42.5" width="3.35" height="423.5" fill="url(#h52)"/><rect x="214.0" y="42.5" width="3.35" height="423.5" fill="url(#h53)"/><rect x="217.0" y="42.5" width="3.35" height="423.5" fill="url(#h54)"/><rect x="220.0" y="42.5" width="3.35" height="423.5" fill="url(#h55)"/><rect x="223.0" y="42.5" width="3.35" height="423.5" fill="url(#h56)"/><rect x="226.0" y="42.5" width="3.35" height="423.5" fill="url(#h57)"/><rect x="229.0" y="42.5" width="3.35" height="423.5" fill="url(#h58)"/><rect x="232.0" y="42.5" width="3.35" height="423.5" fill="url(#h59)"/><rect x="235.0" y="42.5" width="3.35" height="423.5" fill="url(#h60)"/><rect x="238.0" y="42.5" width="3.35" height="423.5" fill="url(#h61)"/><rect x="241.0" y="42.5" width="3.35" height="423.5" fill="url(#h62)"/><rect x="244.0" y="42.5" width="3.35" height="423.5" fill="url(#h63)"/><rect x="247.0" y="42.5" width="3.35" height="423.5" fill="url(#h64)"/><rect x="250.0" y="42.5" width="3.35" height="423.5" fill="url(#h65)"/><rect x="253.0" y="42.5" width="3.35" height="423.5" fill="url(#h66)"/><rect x="256.0" y="42.5" width="3.35" height="423.5" fill="url(#h67)"/><rect x="259.0" y="42.5" width="3.35" height="423.5" fill="url(#h68)"/><rect x="262.0" y="42.5" width="3.35" height="423.5" fill="url(#h69)"/><rect x="265.0" y="42.5" width="3.35" height="423.5" fill="url(#h70)"/><rect x="268.0" y="42.5" width="3.35" height="423.5" fill="url(#h71)"/><rect x="271.0" y="42.5" width="3.35" height="423.5" fill="url(#h72)"/><rect x="274.0" y="42.5" width="3.35" height="423.5" fill="url(#h73)"/><rect x="277.0" y="42.5" width="3.35" height="423.5" fill="url(#h74)"/><rect x="280.0" y="42.5" width="3.35" height="423.5" fill="url(#h75)"/><rect x="283.0" y="42.5" width="3.35" height="423.5" fill="url(#h76)"/><rect x="286.0" y="42.5" width="3.35" height="423.5" fill="url(#h77)"/><rect x="289.0" y="42.5" width="3.35" height="423.5" fill="url(#h78)"/><rect x="292.0" y="42.5" width="3.35" height="423.5" fill="url(#h79)"/><rect x="295.0" y="42.5" width="3.35" height="423.5" fill="url(#h80)"/><rect x="298.0" y="42.5" width="3.35" height="423.5" fill="url(#h81)"/><rect x="301.0" y="42.5" width="3.35" height="423.5" fill="url(#h82)"/><rect x="304.0" y="42.5" width="3.35" height="423.5" fill="url(#h83)"/><rect x="307.0" y="42.5" width="3.35" height="423.5" fill="url(#h84)"/><rect x="310.0" y="42.5" width="3.35" height="423.5" fill="url(#h85)"/><rect x="313.0" y="42.5" width="3.35" height="423.5" fill="url(#h86)"/><rect x="316.0" y="42.5" width="3.35" height="423.5" fill="url(#h87)"/><rect x="319.0" y="42.5" width="3.35" height="423.5" fill="url(#h88)"/><rect x="322.0" y="42.5" width="3.35" height="423.5" fill="url(#h89)"/><rect x="325.0" y="42.5" width="3.35" height="423.5" fill="url(#h90)"/><rect x="328.0" y="42.5" width="3.35" height="423.5" fill="url(#h91)"/><rect x="331.0" y="42.5" width="3.35" height="423.5" fill="url(#h92)"/><rect x="334.0" y="42.5" width="3.35" height="423.5" fill="url(#h93)"/><rect x="337.0" y="42.5" width="3.35" height="423.5" fill="url(#h94)"/><rect x="340.0" y="42.5" width="3.35" height="423.5" fill="url(#h95)"/><rect x="343.0" y="42.5" width="3.35" height="423.5" fill="url(#h96)"/><rect x="346.0" y="42.5" width="3.35" height="423.5" fill="url(#h97)"/><rect x="349.0" y="42.5" width="3.35" height="423.5" fill="url(#h98)"/><rect x="352.0" y="42.5" width="3.35" height="423.5" fill="url(#h99)"/><rect x="355.0" y="42.5" width="3.35" height="423.5" fill="url(#h100)"/><rect x="358.0" y="42.5" width="3.35" height="423.5" fill="url(#h101)"/><rect x="361.0" y="42.5" width="3.35" height="423.5" fill="url(#h102)"/><rect x="364.0" y="42.5" width="3.35" height="423.5" fill="url(#h103)"/><rect x="367.0" y="42.5" width="3.35" height="423.5" fill="url(#h104)"/><rect x="370.0" y="42.5" width="3.35" height="423.5" fill="url(#h105)"/><rect x="373.0" y="42.5" width="3.35" height="423.5" fill="url(#h106)"/><rect x="376.0" y="42.5" width="3.35" height="423.5" fill="url(#h107)"/><rect x="379.0" y="42.5" width="3.35" height="423.5" fill="url(#h108)"/><rect x="382.0" y="42.5" width="3.35" height="423.5" fill="url(#h109)"/><rect x="385.0" y="42.5" width="3.35" height="423.5" fill="url(#h110)"/><rect x="388.0" y="42.5" width="3.35" height="423.5" fill="url(#h111)"/><rect x="391.0" y="42.5" width="3.35" height="423.5" fill="url(#h112)"/><rect x="394.0" y="42.5" width="3.35" height="423.5" fill="url(#h113)"/><rect x="397.0" y="42.5" width="3.35" height="423.5" fill="url(#h114)"/><rect x="400.0" y="42.5" width="3.35" height="423.5" fill="url(#h115)"/><rect x="403.0" y="42.5" width="3.35" height="423.5" fill="url(#h116)"/><rect x="406.0" y="42.5" width="3.35" height="423.5" fill="url(#h117)"/><rect x="409.0" y="42.5" width="3.35" height="423.5" fill="url(#h118)"/><rect x="412.0" y="42.5" width="3.35" height="423.5" fill="url(#h119)"/><rect x="415.0" y="42.5" width="3.35" height="423.5" fill="url(#h120)"/><rect x="418.0" y="42.5" width="3.35" height="423.5" fill="url(#h121)"/><rect x="421.0" y="42.5" width="3.35" height="423.5" fill="url(#h122)"/><rect x="424.0" y="42.5" width="3.35" height="423.5" fill="url(#h123)"/><rect x="427.0" y="42.5" width="3.35" height="423.5" fill="url(#h124)"/><rect x="430.0" y="42.5" width="3.35" height="423.5" fill="url(#h125)"/><rect x="433.0" y="42.5" width="3.35" height="423.5" fill="url(#h126)"/><rect x="436.0" y="42.5" width="3.35" height="423.5" fill="url(#h127)"/><rect x="439.0" y="42.5" width="3.35" height="423.5" fill="url(#h128)"/><rect x="442.0" y="42.5" width="3.35" height="423.5" fill="url(#h129)"/><rect x="445.0" y="42.5" width="3.35" height="423.5" fill="url(#h130)"/><rect x="448.0" y="42.5" width="3.35" height="423.5" fill="url(#h131)"/><rect x="451.0" y="42.5" width="3.35" height="423.5" fill="url(#h132)"/><rect x="454.0" y="42.5" width="3.35" height="423.5" fill="url(#h133)"/><rect x="457.0" y="42.5" width="3.35" height="423.5" fill="url(#h134)"/><rect x="460.0" y="42.5" width="3.35" height="423.5" fill="url(#h135)"/><rect x="463.0" y="42.5" width="3.35" height="423.5" fill="url(#h136)"/><rect x="466.0" y="42.5" width="3.35" height="423.5" fill="url(#h137)"/><rect x="469.0" y="42.5" width="3.35" height="423.5" fill="url(#h138)"/><rect x="472.0" y="42.5" width="3.35" height="423.5" fill="url(#h139)"/><rect x="475.0" y="42.5" width="3.35" height="423.5" fill="url(#h140)"/><rect x="478.0" y="42.5" width="3.35" height="423.5" fill="url(#h141)"/><rect x="481.0" y="42.5" width="3.35" height="423.5" fill="url(#h142)"/><rect x="484.0" y="42.5" width="3.35" height="423.5" fill="url(#h143)"/><rect x="487.0" y="42.5" width="3.35" height="423.5" fill="url(#h144)"/><rect x="490.0" y="42.5" width="3.35" height="423.5" fill="url(#h145)"/><rect x="493.0" y="42.5" width="3.35" height="423.5" fill="url(#h146)"/><g mask="url(#nzm)"><rect x="55.0" y="42.5" width="441.0" height="423.5" filter="url(#nzr)" opacity="0.48"/><rect x="55.0" y="42.5" width="441.0" height="423.5" filter="url(#nzb)" opacity="0.16"/><rect x="55.0" y="42.5" width="115" height="220" filter="url(#nzr)" opacity="0.3"/><rect x="55.0" y="42.5" width="115" height="220" filter="url(#nzb)" opacity="0.65"/></g>
<line x1="54.75" y1="466.6" x2="54.75" y2="474.1" stroke="#000" stroke-width="1.8"/>
<line x1="86.31" y1="466.6" x2="86.31" y2="470.6" stroke="#000" stroke-width="1.8"/>
<line x1="117.87" y1="466.6" x2="117.87" y2="474.1" stroke="#000" stroke-width="1.8"/>
<line x1="149.42" y1="466.6" x2="149.42" y2="470.6" stroke="#000" stroke-width="1.8"/>
<line x1="180.98" y1="466.6" x2="180.98" y2="474.1" stroke="#000" stroke-width="1.8"/>
<line x1="212.54" y1="466.6" x2="212.54" y2="470.6" stroke="#000" stroke-width="1.8"/>
<line x1="244.09" y1="466.6" x2="244.09" y2="474.1" stroke="#000" stroke-width="1.8"/>
<line x1="275.65" y1="466.6" x2="275.65" y2="470.6" stroke="#000" stroke-width="1.8"/>
<line x1="307.21" y1="466.6" x2="307.21" y2="474.1" stroke="#000" stroke-width="1.8"/>
<line x1="338.77" y1="466.6" x2="338.77" y2="470.6" stroke="#000" stroke-width="1.8"/>
<line x1="370.32" y1="466.6" x2="370.32" y2="474.1" stroke="#000" stroke-width="1.8"/>
<line x1="401.88" y1="466.6" x2="401.88" y2="470.6" stroke="#000" stroke-width="1.8"/>
<line x1="433.44" y1="466.6" x2="433.44" y2="474.1" stroke="#000" stroke-width="1.8"/>
<line x1="465" y1="466.6" x2="465" y2="470.6" stroke="#000" stroke-width="1.8"/>
<line x1="496.56" y1="466.6" x2="496.56" y2="474.1" stroke="#000" stroke-width="1.8"/>
<line x1="51.3" y1="466.34" x2="55.3" y2="466.34" stroke="#000" stroke-width="1.8"/>
<line x1="51.3" y1="441.39" x2="55.3" y2="441.39" stroke="#000" stroke-width="1.8"/>
<line x1="51.3" y1="423.69" x2="55.3" y2="423.69" stroke="#000" stroke-width="1.8"/>
<line x1="51.3" y1="409.96" x2="55.3" y2="409.96" stroke="#000" stroke-width="1.8"/>
<line x1="51.3" y1="398.74" x2="55.3" y2="398.74" stroke="#000" stroke-width="1.8"/>
<line x1="51.3" y1="389.25" x2="55.3" y2="389.25" stroke="#000" stroke-width="1.8"/>
<line x1="51.3" y1="381.03" x2="55.3" y2="381.03" stroke="#000" stroke-width="1.8"/>
<line x1="51.3" y1="373.78" x2="55.3" y2="373.78" stroke="#000" stroke-width="1.8"/>
<line x1="47.8" y1="367.3" x2="55.3" y2="367.3" stroke="#000" stroke-width="1.8"/>
<line x1="51.3" y1="324.64" x2="55.3" y2="324.64" stroke="#000" stroke-width="1.8"/>
<line x1="51.3" y1="299.69" x2="55.3" y2="299.69" stroke="#000" stroke-width="1.8"/>
<line x1="51.3" y1="281.99" x2="55.3" y2="281.99" stroke="#000" stroke-width="1.8"/>
<line x1="51.3" y1="268.26" x2="55.3" y2="268.26" stroke="#000" stroke-width="1.8"/>
<line x1="51.3" y1="257.04" x2="55.3" y2="257.04" stroke="#000" stroke-width="1.8"/>
<line x1="51.3" y1="247.55" x2="55.3" y2="247.55" stroke="#000" stroke-width="1.8"/>
<line x1="51.3" y1="239.33" x2="55.3" y2="239.33" stroke="#000" stroke-width="1.8"/>
<line x1="51.3" y1="232.08" x2="55.3" y2="232.08" stroke="#000" stroke-width="1.8"/>
<line x1="47.8" y1="225.6" x2="55.3" y2="225.6" stroke="#000" stroke-width="1.8"/>
<line x1="51.3" y1="182.94" x2="55.3" y2="182.94" stroke="#000" stroke-width="1.8"/>
<line x1="51.3" y1="157.99" x2="55.3" y2="157.99" stroke="#000" stroke-width="1.8"/>
<line x1="51.3" y1="140.29" x2="55.3" y2="140.29" stroke="#000" stroke-width="1.8"/>
<line x1="51.3" y1="126.56" x2="55.3" y2="126.56" stroke="#000" stroke-width="1.8"/>
<line x1="51.3" y1="115.34" x2="55.3" y2="115.34" stroke="#000" stroke-width="1.8"/>
<line x1="51.3" y1="105.85" x2="55.3" y2="105.85" stroke="#000" stroke-width="1.8"/>
<line x1="51.3" y1="97.63" x2="55.3" y2="97.63" stroke="#000" stroke-width="1.8"/>
<line x1="51.3" y1="90.38" x2="55.3" y2="90.38" stroke="#000" stroke-width="1.8"/>
<line x1="47.8" y1="83.9" x2="55.3" y2="83.9" stroke="#000" stroke-width="1.8"/>
<line x1="51.3" y1="41.24" x2="55.3" y2="41.24" stroke="#000" stroke-width="1.8"/>
<rect x="55.3" y="42.2" width="441" height="424.4" fill="none" stroke="#000" stroke-width="2"/>
<text x="40.83" y="494" font-family='"Liberation Sans", Arial, sans-serif' font-weight="bold" font-size="16.8" fill="#000">550</text>
<text x="103.88" y="494" font-family='"Liberation Sans", Arial, sans-serif' font-weight="bold" font-size="16.8" fill="#000">600</text>
<text x="166.99" y="494" font-family='"Liberation Sans", Arial, sans-serif' font-weight="bold" font-size="16.8" fill="#000">650</text>
<text x="230.07" y="494" font-family='"Liberation Sans", Arial, sans-serif' font-weight="bold" font-size="16.8" fill="#000">700</text>
<text x="293.18" y="494" font-family='"Liberation Sans", Arial, sans-serif' font-weight="bold" font-size="16.8" fill="#000">750</text>
<text x="356.38" y="494" font-family='"Liberation Sans", Arial, sans-serif' font-weight="bold" font-size="16.8" fill="#000">800</text>
<text x="419.5" y="494" font-family='"Liberation Sans", Arial, sans-serif' font-weight="bold" font-size="16.8" fill="#000">850</text>
<text x="482.59" y="494" font-family='"Liberation Sans", Arial, sans-serif' font-weight="bold" font-size="16.8" fill="#000">900</text>
<text x="12.26" y="89.9" font-family='"Liberation Sans", Arial, sans-serif' font-weight="bold" font-size="16.8" fill="#000">100</text>
<text x="21.62" y="231.6" font-family='"Liberation Sans", Arial, sans-serif' font-weight="bold" font-size="16.8" fill="#000">10</text>
<text x="30.74" y="373.3" font-family='"Liberation Sans", Arial, sans-serif' font-weight="bold" font-size="16.8" fill="#000">1</text>
<text transform="translate(186.8,519) scale(1.0479,1)" font-family='"Liberation Sans", Arial, sans-serif' font-weight="bold" font-size="21.2" fill="#000">Wavelength (nm)</text>
<text transform="translate(18.6,306.48) rotate(-90) scale(1.0370,1)" font-family='"Liberation Sans", Arial, sans-serif' font-weight="bold" font-size="21.2" fill="#000">Delay (ps)</text>
<text transform="translate(11.65,38.6) scale(0.8870,1)" font-family='"Liberation Sans", Arial, sans-serif' font-weight="bold" font-size="47" fill="#000">a</text>
<defs><linearGradient id="cbg" x1="0" y1="0" x2="0" y2="1">
<stop offset="0.0000" stop-color="#1400ff"/>
<stop offset="0.0125" stop-color="#1400ff"/>
<stop offset="0.0250" stop-color="#1905fe"/>
<stop offset="0.0375" stop-color="#1d0afe"/>
<stop offset="0.0500" stop-color="#220ffd"/>
<stop offset="0.0625" stop-color="#2714fd"/>
<stop offset="0.0750" stop-color="#2c1afc"/>
<stop offset="0.0875" stop-color="#301ffc"/>
<stop offset="0.1000" stop-color="#3524fb"/>
<stop offset="0.1125" stop-color="#3a29fb"/>
<stop offset="0.1250" stop-color="#3e2efa"/>
<stop offset="0.1375" stop-color="#4334fa"/>
<stop offset="0.1500" stop-color="#493bf9"/>
<stop offset="0.1625" stop-color="#4e42f9"/>
<stop offset="0.1750" stop-color="#5449f9"/>
<stop offset="0.1875" stop-color="#5950f8"/>
<stop offset="0.2000" stop-color="#5f58f8"/>
<stop offset="0.2125" stop-color="#655ff7"/>
<stop offset="0.2250" stop-color="#6a66f7"/>
<stop offset="0.2375" stop-color="#706df7"/>
<stop offset="0.2500" stop-color="#7574f6"/>
<stop offset="0.2625" stop-color="#7b7bf6"/>
<stop offset="0.2750" stop-color="#8181f5"/>
<stop offset="0.2875" stop-color="#8888f4"/>
<stop offset="0.3000" stop-color="#8e8ef4"/>
<stop offset="0.3125" stop-color="#9494f3"/>
<stop offset="0.3250" stop-color="#9b9bf3"/>
<stop offset="0.3375" stop-color="#a1a1f2"/>
<stop offset="0.3500" stop-color="#a7a7f1"/>
<stop offset="0.3625" stop-color="#aeaef1"/>
<stop offset="0.3750" stop-color="#b4b4f0"/>
<stop offset="0.3875" stop-color="#babaf0"/>
<stop offset="0.4000" stop-color="#c0c0f0"/>
<stop offset="0.4125" stop-color="#c6c6ef"/>
<stop offset="0.4250" stop-color="#cbcbef"/>
<stop offset="0.4375" stop-color="#d1d1ef"/>
<stop offset="0.4500" stop-color="#d7d7ef"/>
<stop offset="0.4625" stop-color="#ddddef"/>
<stop offset="0.4750" stop-color="#e2e2ee"/>
<stop offset="0.4875" stop-color="#e8e8ee"/>
<stop offset="0.5000" stop-color="#eeeeee"/>
<stop offset="0.5125" stop-color="#eee9e9"/>
<stop offset="0.5250" stop-color="#ede3e3"/>
<stop offset="0.5375" stop-color="#eddede"/>
<stop offset="0.5500" stop-color="#ecd8d8"/>
<stop offset="0.5625" stop-color="#ecd3d3"/>
<stop offset="0.5750" stop-color="#eccdcd"/>
<stop offset="0.5875" stop-color="#ebc8c8"/>
<stop offset="0.6000" stop-color="#ebc2c2"/>
<stop offset="0.6125" stop-color="#eabcbc"/>
<stop offset="0.6250" stop-color="#eab7b7"/>
<stop offset="0.6375" stop-color="#eab1b1"/>
<stop offset="0.6500" stop-color="#eaabab"/>
<stop offset="0.6625" stop-color="#e9a4a6"/>
<stop offset="0.6750" stop-color="#e99ea0"/>
<stop offset="0.6875" stop-color="#e9989a"/>
<stop offset="0.7000" stop-color="#e99294"/>
<stop offset="0.7125" stop-color="#e98c8f"/>
<stop offset="0.7250" stop-color="#e88689"/>
<stop offset="0.7375" stop-color="#e88083"/>
<stop offset="0.7500" stop-color="#e87a7e"/>
<stop offset="0.7625" stop-color="#e97478"/>
<stop offset="0.7750" stop-color="#ea6f72"/>
<stop offset="0.7875" stop-color="#eb6a6c"/>
<stop offset="0.8000" stop-color="#ec6467"/>
<stop offset="0.8125" stop-color="#ec5f61"/>
<stop offset="0.8250" stop-color="#ed5a5b"/>
<stop offset="0.8375" stop-color="#ee5455"/>
<stop offset="0.8500" stop-color="#ef4f50"/>
<stop offset="0.8625" stop-color="#f04a4a"/>
<stop offset="0.8750" stop-color="#f14544"/>
<stop offset="0.8875" stop-color="#f3403e"/>
<stop offset="0.9000" stop-color="#f43c38"/>
<stop offset="0.9125" stop-color="#f63732"/>
<stop offset="0.9250" stop-color="#f7332c"/>
<stop offset="0.9375" stop-color="#f92e26"/>
<stop offset="0.9500" stop-color="#fa2a20"/>
<stop offset="0.9625" stop-color="#fc251a"/>
<stop offset="0.9750" stop-color="#fd2115"/>
<stop offset="0.9875" stop-color="#ff1c0f"/>
<stop offset="1.0000" stop-color="#ff1c0e"/>
</linearGradient></defs>
<rect x="504.5" y="41.5" width="36.8" height="424.5" fill="url(#cbg)" stroke="#333" stroke-width="1"/>
<line x1="541.3" y1="46.8" x2="548.8" y2="46.8" stroke="#222" stroke-width="1.5"/>
<text x="555" y="51.6" font-family='"Liberation Sans", Arial, sans-serif' font-weight="bold" font-size="13.6" fill="#000">200μ</text>
<line x1="541.3" y1="150.3" x2="548.8" y2="150.3" stroke="#222" stroke-width="1.5"/>
<text x="555" y="155.1" font-family='"Liberation Sans", Arial, sans-serif' font-weight="bold" font-size="13.6" fill="#000">100μ</text>
<line x1="541.3" y1="254" x2="548.8" y2="254" stroke="#222" stroke-width="1.5"/>
<text x="555" y="258.8" font-family='"Liberation Sans", Arial, sans-serif' font-weight="bold" font-size="13.6" fill="#000">0</text>
<line x1="541.3" y1="357.3" x2="548.8" y2="357.3" stroke="#222" stroke-width="1.5"/>
<text x="555" y="362.1" font-family='"Liberation Sans", Arial, sans-serif' font-weight="bold" font-size="13.6" fill="#000">-100μ</text>
<line x1="541.3" y1="460.3" x2="548.8" y2="460.3" stroke="#222" stroke-width="1.5"/>
<text x="555" y="465.1" font-family='"Liberation Sans", Arial, sans-serif' font-weight="bold" font-size="13.6" fill="#000">-200μ</text>
<text transform="translate(481.34,30.8) scale(1.0463,1)" font-family='"Liberation Sans", Arial, sans-serif' font-weight="bold" font-size="20.6" fill="#000">ΔR (OD)</text>
<defs><clipPath id="cpb"><rect x="644.0" y="42.6" width="502.4000000000001" height="426.2"/></clipPath></defs>
<g clip-path="url(#cpb)">
<g fill="#f2b9bd" opacity="0.95">
<polygon points="647.09,229.4 651.47,232.58 649.79,237.72 644.39,237.72 642.72,232.58"/>
<polygon points="653.61,173.24 657.99,176.42 656.32,181.57 650.91,181.57 649.24,176.42"/>
<polygon points="660.42,103.76 664.79,106.94 663.12,112.08 657.72,112.08 656.04,106.94"/>
<polygon points="667.51,96.67 671.88,99.85 670.21,104.99 664.81,104.99 663.14,99.85"/>
<polygon points="674.6,134.11 678.97,137.29 677.3,142.43 671.9,142.43 670.23,137.29"/>
<polygon points="681.97,191.11 686.35,194.29 684.68,199.43 679.27,199.43 677.6,194.29"/>
<polygon points="689.63,255.49 694.01,258.67 692.34,263.81 686.93,263.81 685.26,258.67"/>
<polygon points="705.23,370.35 709.6,373.53 707.93,378.67 702.53,378.67 700.85,373.53"/>
<polygon points="714.31,403.82 718.68,407 717.01,412.14 711.6,412.14 709.93,407"/>
<polygon points="722.81,421.97 727.19,425.15 725.52,430.29 720.11,430.29 718.44,425.15"/>
<polygon points="732.17,436.15 736.55,439.33 734.88,444.47 729.47,444.47 727.8,439.33"/>
<polygon points="741.53,433.31 745.91,436.49 744.24,441.63 738.83,441.63 737.16,436.49"/>
<polygon points="751.17,413.46 755.55,416.64 753.88,421.78 748.47,421.78 746.8,416.64"/>
<polygon points="761.38,401.55 765.76,404.73 764.09,409.87 758.68,409.87 757.01,404.73"/>
<polygon points="771.03,392.47 775.4,395.65 773.73,400.79 768.32,400.79 766.65,395.65"/>
<polygon points="782.37,380.28 786.75,383.46 785.07,388.6 779.67,388.6 778,383.46"/>
<polygon points="793.72,364.68 798.09,367.86 796.42,373 791.01,373 789.34,367.86"/>
<polygon points="805.06,341.14 809.43,344.32 807.76,349.46 802.36,349.46 800.68,344.32"/>
<polygon points="817.25,326.96 821.63,330.14 819.96,335.28 814.55,335.28 812.88,330.14"/>
<polygon points="829.17,313.06 833.54,316.24 831.87,321.38 826.46,321.38 824.79,316.24"/>
<polygon points="841.93,297.18 846.3,300.36 844.63,305.5 839.22,305.5 837.55,300.36"/>
<polygon points="854.69,292.93 859.07,296.11 857.39,301.25 851.99,301.25 850.32,296.11"/>
<polygon points="868.3,284.7 872.68,287.88 871.01,293.02 865.6,293.02 863.93,287.88"/>
<polygon points="881.92,271.66 886.29,274.83 884.62,279.98 879.21,279.98 877.54,274.83"/>
<polygon points="896.66,262.01 901.04,265.19 899.37,270.34 893.96,270.34 892.29,265.19"/>
<polygon points="911.7,252.65 916.07,255.83 914.4,260.98 908.99,260.98 907.32,255.83"/>
<polygon points="927.01,247.83 931.39,251.01 929.71,256.15 924.31,256.15 922.64,251.01"/>
<polygon points="942.89,246.98 947.27,250.16 945.6,255.3 940.19,255.3 938.52,250.16"/>
<polygon points="959.06,239.33 963.43,242.5 961.76,247.65 956.35,247.65 954.68,242.5"/>
<polygon points="979.15,229.99 983.52,233.17 981.85,238.32 976.44,238.32 974.77,233.17"/>
<polygon points="983.37,234.75 987.75,237.93 986.08,243.07 980.67,243.07 979,237.93"/>
<polygon points="987.6,227.07 991.98,230.25 990.31,235.39 984.9,235.39 983.23,230.25"/>
<polygon points="991.83,229.95 996.21,233.12 994.54,238.27 989.13,238.27 987.46,233.12"/>
<polygon points="996.06,237.77 1000.43,240.95 998.76,246.1 993.36,246.1 991.68,240.95"/>
<polygon points="1000.29,228.86 1004.66,232.04 1002.99,237.18 997.58,237.18 995.91,232.04"/>
<polygon points="1004.52,233.7 1008.89,236.88 1007.22,242.02 1001.81,242.02 1000.14,236.88"/>
<polygon points="1008.74,227.73 1013.12,230.91 1011.45,236.05 1006.04,236.05 1004.37,230.91"/>
<polygon points="1012.97,230.82 1017.35,234 1015.68,239.14 1010.27,239.14 1008.6,234"/>
<polygon points="1017.2,233.05 1021.58,236.22 1019.91,241.37 1014.5,241.37 1012.83,236.22"/>
<polygon points="1021.43,236.18 1025.8,239.36 1024.13,244.51 1018.73,244.51 1017.06,239.36"/>
<polygon points="1025.66,237.31 1030.03,240.49 1028.36,245.63 1022.95,245.63 1021.28,240.49"/>
<polygon points="1029.89,238.33 1034.26,241.5 1032.59,246.65 1027.18,246.65 1025.51,241.5"/>
<polygon points="1034.12,229.72 1038.49,232.9 1036.82,238.04 1031.41,238.04 1029.74,232.9"/>
<polygon points="1038.34,235.05 1042.72,238.22 1041.05,243.37 1035.64,243.37 1033.97,238.22"/>
<polygon points="1042.57,231.92 1046.95,235.09 1045.28,240.24 1039.87,240.24 1038.2,235.09"/>
<polygon points="1046.8,234.5 1051.18,237.67 1049.5,242.82 1044.1,242.82 1042.43,237.67"/>
<polygon points="1051.03,238.98 1055.4,242.15 1053.73,247.3 1048.32,247.3 1046.65,242.15"/>
<polygon points="1055.26,235.63 1059.63,238.81 1057.96,243.95 1052.55,243.95 1050.88,238.81"/>
<polygon points="1059.49,239.44 1063.86,242.62 1062.19,247.76 1056.78,247.76 1055.11,242.62"/>
<polygon points="1063.71,236.18 1068.09,239.36 1066.42,244.5 1061.01,244.5 1059.34,239.36"/>
<polygon points="1067.94,234.36 1072.32,237.53 1070.65,242.68 1065.24,242.68 1063.57,237.53"/>
<polygon points="1072.17,238 1076.55,241.18 1074.87,246.32 1069.47,246.32 1067.8,241.18"/>
<polygon points="1076.4,237.31 1080.77,240.49 1079.1,245.63 1073.7,245.63 1072.02,240.49"/>
<polygon points="1080.63,230.72 1085,233.9 1083.33,239.04 1077.92,239.04 1076.25,233.9"/>
<polygon points="1084.86,227.47 1089.23,230.65 1087.56,235.8 1082.15,235.8 1080.48,230.65"/>
<polygon points="1089.08,236.24 1093.46,239.42 1091.79,244.56 1086.38,244.56 1084.71,239.42"/>
<polygon points="1093.31,239.65 1097.69,242.83 1096.02,247.97 1090.61,247.97 1088.94,242.83"/>
<polygon points="1097.54,230.93 1101.92,234.1 1100.25,239.25 1094.84,239.25 1093.17,234.1"/>
<polygon points="1101.77,227.31 1106.14,230.49 1104.47,235.63 1099.07,235.63 1097.39,230.49"/>
<polygon points="1106,234.84 1110.37,238.01 1108.7,243.16 1103.29,243.16 1101.62,238.01"/>
<polygon points="1110.23,238.18 1114.6,241.36 1112.93,246.5 1107.52,246.5 1105.85,241.36"/>
<polygon points="1114.45,238.56 1118.83,241.74 1117.16,246.88 1111.75,246.88 1110.08,241.74"/>
<polygon points="1118.68,233.66 1123.06,236.84 1121.39,241.98 1115.98,241.98 1114.31,236.84"/>
<polygon points="1122.91,234.17 1127.29,237.35 1125.62,242.49 1120.21,242.49 1118.54,237.35"/>
<polygon points="1127.14,233.49 1131.51,236.67 1129.84,241.81 1124.44,241.81 1122.77,236.67"/>
<polygon points="1131.37,229.99 1135.74,233.17 1134.07,238.31 1128.66,238.31 1126.99,233.17"/>
<polygon points="1135.6,233.67 1139.97,236.85 1138.3,242 1132.89,242 1131.22,236.85"/>
<polygon points="1139.83,232.3 1144.2,235.48 1142.53,240.62 1137.12,240.62 1135.45,235.48"/>
<polygon points="1144.05,234.91 1148.43,238.08 1146.76,243.23 1141.35,243.23 1139.68,238.08"/>
</g><g fill="#ddd0f6" opacity="0.95">
<circle cx="647.09" cy="414.09" r="4.3"/>
<circle cx="654.18" cy="431.11" r="4.3"/>
<circle cx="662.12" cy="415.22" r="4.3"/>
<circle cx="669.21" cy="407.57" r="4.3"/>
<circle cx="677.72" cy="372.97" r="4.3"/>
<circle cx="685.38" cy="342.34" r="4.3"/>
<circle cx="694.45" cy="321.07" r="4.3"/>
<circle cx="702.96" cy="287.6" r="4.3"/>
<circle cx="712.32" cy="284.2" r="4.3"/>
<circle cx="721.68" cy="263.21" r="4.3"/>
<circle cx="731.32" cy="264.34" r="4.3"/>
<circle cx="741.53" cy="231.73" r="4.3"/>
<circle cx="752.02" cy="252.43" r="4.3"/>
<circle cx="762.52" cy="257.54" r="4.3"/>
<circle cx="773.3" cy="266.05" r="4.3"/>
<circle cx="785.21" cy="272.57" r="4.3"/>
<circle cx="796.83" cy="257.82" r="4.3"/>
<circle cx="809.31" cy="270.02" r="4.3"/>
<circle cx="821.79" cy="251.3" r="4.3"/>
<circle cx="834.84" cy="283.63" r="4.3"/>
<circle cx="848.45" cy="267.18" r="4.3"/>
<circle cx="862.63" cy="267.18" r="4.3"/>
<circle cx="876.81" cy="268.88" r="4.3"/>
<circle cx="891.56" cy="273.14" r="4.3"/>
<circle cx="906.59" cy="259.24" r="4.3"/>
<circle cx="923.61" cy="253.57" r="4.3"/>
<circle cx="939.77" cy="249.03" r="4.3"/>
<circle cx="956.79" cy="255.55" r="4.3"/>
<circle cx="979.15" cy="258.56" r="4.3"/>
<circle cx="983.37" cy="260.52" r="4.3"/>
<circle cx="987.6" cy="265.6" r="4.3"/>
<circle cx="991.83" cy="269.4" r="4.3"/>
<circle cx="996.06" cy="256.93" r="4.3"/>
<circle cx="1000.29" cy="260.74" r="4.3"/>
<circle cx="1004.52" cy="263.29" r="4.3"/>
<circle cx="1008.74" cy="263.7" r="4.3"/>
<circle cx="1012.97" cy="246.24" r="4.3"/>
<circle cx="1017.2" cy="262.75" r="4.3"/>
<circle cx="1021.43" cy="267.61" r="4.3"/>
<circle cx="1025.66" cy="256.17" r="4.3"/>
<circle cx="1029.89" cy="247.84" r="4.3"/>
<circle cx="1034.12" cy="268.67" r="4.3"/>
<circle cx="1038.34" cy="252.72" r="4.3"/>
<circle cx="1042.57" cy="253.92" r="4.3"/>
<circle cx="1046.8" cy="267.2" r="4.3"/>
<circle cx="1051.03" cy="266.05" r="4.3"/>
<circle cx="1055.26" cy="249.41" r="4.3"/>
<circle cx="1059.49" cy="267.21" r="4.3"/>
<circle cx="1063.71" cy="250.57" r="4.3"/>
<circle cx="1067.94" cy="252.34" r="4.3"/>
<circle cx="1072.17" cy="269.26" r="4.3"/>
<circle cx="1076.4" cy="255.35" r="4.3"/>
<circle cx="1080.63" cy="263.95" r="4.3"/>
<circle cx="1084.86" cy="260.25" r="4.3"/>
<circle cx="1089.08" cy="253.44" r="4.3"/>
<circle cx="1093.31" cy="257.63" r="4.3"/>
<circle cx="1097.54" cy="247.35" r="4.3"/>
<circle cx="1101.77" cy="250.24" r="4.3"/>
<circle cx="1106" cy="249.25" r="4.3"/>
<circle cx="1110.23" cy="253.03" r="4.3"/>
<circle cx="1114.45" cy="254.57" r="4.3"/>
<circle cx="1118.68" cy="260.95" r="4.3"/>
<circle cx="1122.91" cy="260.38" r="4.3"/>
<circle cx="1127.14" cy="255.85" r="4.3"/>
<circle cx="1131.37" cy="252.73" r="4.3"/>
<circle cx="1135.6" cy="258.66" r="4.3"/>
<circle cx="1139.83" cy="259.42" r="4.3"/>
<circle cx="1144.05" cy="260.67" r="4.3"/>
</g><g fill="#9ee9b8" opacity="0.95">
<polygon points="652.91,272.85 650.71,276.66 646.31,276.66 644.11,272.85 646.31,269.04 650.71,269.04"/>
<polygon points="659.15,320.5 656.95,324.31 652.55,324.31 650.35,320.5 652.55,316.69 656.95,316.69"/>
<polygon points="665.95,380.06 663.75,383.87 659.35,383.87 657.15,380.06 659.35,376.25 663.75,376.25"/>
<polygon points="672.76,418.34 670.56,422.15 666.16,422.15 663.96,418.34 666.16,414.53 670.56,414.53"/>
<polygon points="679.85,430.82 677.65,434.63 673.25,434.63 671.05,430.82 673.25,427.01 677.65,427.01"/>
<polygon points="687.51,432.81 685.31,436.62 680.91,436.62 678.71,432.81 680.91,429 685.31,429"/>
<polygon points="695.45,433.94 693.25,437.75 688.85,437.75 686.65,433.94 688.85,430.13 693.25,430.13"/>
<polygon points="703.39,434.79 701.19,438.6 696.79,438.6 694.59,434.79 696.79,430.98 701.19,430.98"/>
<polygon points="711.61,435.36 709.41,439.17 705.01,439.17 702.81,435.36 705.01,431.55 709.41,431.55"/>
<polygon points="720.12,436.21 717.92,440.02 713.52,440.02 711.32,436.21 713.52,432.4 717.92,432.4"/>
<polygon points="728.92,439.05 726.72,442.86 722.32,442.86 720.12,439.05 722.32,435.24 726.72,435.24"/>
<polygon points="737.99,437.91 735.79,441.72 731.39,441.72 729.19,437.91 731.39,434.1 735.79,434.1"/>
<polygon points="747.92,433.94 745.72,437.75 741.32,437.75 739.12,433.94 741.32,430.13 745.72,430.13"/>
<polygon points="756.99,431.96 754.79,435.77 750.39,435.77 748.19,431.96 750.39,428.15 754.79,428.15"/>
<polygon points="767.2,426.57 765,430.38 760.6,430.38 758.4,426.57 760.6,422.76 765,422.76"/>
<polygon points="777.7,421.75 775.5,425.56 771.1,425.56 768.9,421.75 771.1,417.94 775.5,417.94"/>
<polygon points="788.47,418.34 786.27,422.15 781.87,422.15 779.67,418.34 781.87,414.53 786.27,414.53"/>
<polygon points="799.53,413.24 797.33,417.05 792.93,417.05 790.73,413.24 792.93,409.43 797.33,409.43"/>
<polygon points="810.88,406.15 808.68,409.96 804.28,409.96 802.08,406.15 804.28,402.34 808.68,402.34"/>
<polygon points="822.51,398.49 820.31,402.3 815.91,402.3 813.71,398.49 815.91,394.68 820.31,394.68"/>
<polygon points="834.98,389.42 832.78,393.23 828.38,393.23 826.18,389.42 828.38,385.61 832.78,385.61"/>
<polygon points="847.75,382.33 845.55,386.14 841.15,386.14 838.95,382.33 841.15,378.52 845.55,378.52"/>
<polygon points="860.51,374.38 858.31,378.2 853.91,378.2 851.71,374.38 853.91,370.57 858.31,370.57"/>
<polygon points="874.12,365.03 871.92,368.84 867.52,368.84 865.32,365.03 867.52,361.22 871.92,361.22"/>
<polygon points="888.3,353.68 886.1,357.49 881.7,357.49 879.5,353.68 881.7,349.87 886.1,349.87"/>
<polygon points="902.48,347.16 900.28,350.97 895.88,350.97 893.68,347.16 895.88,343.35 900.28,343.35"/>
<polygon points="917.51,338.08 915.31,341.89 910.91,341.89 908.71,338.08 910.91,334.27 915.31,334.27"/>
<polygon points="932.83,328.72 930.63,332.53 926.23,332.53 924.03,328.72 926.23,324.91 930.63,324.91"/>
<polygon points="948.43,320.5 946.23,324.31 941.83,324.31 939.63,320.5 941.83,316.69 946.23,316.69"/>
<polygon points="965.44,311.99 963.24,315.8 958.84,315.8 956.64,311.99 958.84,308.18 963.24,308.18"/>
<polygon points="983.55,294.7 981.35,298.52 976.95,298.52 974.75,294.7 976.95,290.89 981.35,290.89"/>
<polygon points="987.77,283.61 985.57,287.42 981.17,287.42 978.97,283.61 981.17,279.8 985.57,279.8"/>
<polygon points="992,276.23 989.8,280.04 985.4,280.04 983.2,276.23 985.4,272.42 989.8,272.42"/>
<polygon points="996.23,270.34 994.03,274.15 989.63,274.15 987.43,270.34 989.63,266.52 994.03,266.52"/>
<polygon points="1000.46,265.45 998.26,269.26 993.86,269.26 991.66,265.45 993.86,261.64 998.26,261.64"/>
<polygon points="1004.69,261.77 1002.49,265.58 998.09,265.58 995.89,261.77 998.09,257.96 1002.49,257.96"/>
<polygon points="1008.92,257.19 1006.72,261 1002.32,261 1000.12,257.19 1002.32,253.38 1006.72,253.38"/>
<polygon points="1013.14,253.73 1010.94,257.54 1006.54,257.54 1004.34,253.73 1006.54,249.92 1010.94,249.92"/>
<polygon points="1017.37,252.24 1015.17,256.05 1010.77,256.05 1008.57,252.24 1010.77,248.43 1015.17,248.43"/>
<polygon points="1021.6,250.16 1019.4,253.97 1015,253.97 1012.8,250.16 1015,246.34 1019.4,246.34"/>
<polygon points="1025.83,246.45 1023.63,250.26 1019.23,250.26 1017.03,246.45 1019.23,242.64 1023.63,242.64"/>
<polygon points="1030.06,247.16 1027.86,250.97 1023.46,250.97 1021.26,247.16 1023.46,243.35 1027.86,243.35"/>
<polygon points="1034.29,242.76 1032.09,246.57 1027.69,246.57 1025.49,242.76 1027.69,238.95 1032.09,238.95"/>
<polygon points="1038.52,242.96 1036.32,246.77 1031.92,246.77 1029.72,242.96 1031.92,239.15 1036.32,239.15"/>
<polygon points="1042.74,242.42 1040.54,246.24 1036.14,246.24 1033.94,242.42 1036.14,238.61 1040.54,238.61"/>
<polygon points="1046.97,242.06 1044.77,245.87 1040.37,245.87 1038.17,242.06 1040.37,238.25 1044.77,238.25"/>
<polygon points="1051.2,241.89 1049,245.7 1044.6,245.7 1042.4,241.89 1044.6,238.07 1049,238.07"/>
<polygon points="1055.43,242.66 1053.23,246.47 1048.83,246.47 1046.63,242.66 1048.83,238.85 1053.23,238.85"/>
<polygon points="1059.66,241.76 1057.46,245.57 1053.06,245.57 1050.86,241.76 1053.06,237.94 1057.46,237.94"/>
<polygon points="1063.89,240.27 1061.69,244.08 1057.29,244.08 1055.09,240.27 1057.29,236.46 1061.69,236.46"/>
<polygon points="1068.11,241.06 1065.91,244.87 1061.51,244.87 1059.31,241.06 1061.51,237.25 1065.91,237.25"/>
<polygon points="1072.34,237.77 1070.14,241.59 1065.74,241.59 1063.54,237.77 1065.74,233.96 1070.14,233.96"/>
<polygon points="1076.57,237.7 1074.37,241.51 1069.97,241.51 1067.77,237.7 1069.97,233.89 1074.37,233.89"/>
<polygon points="1080.8,237.8 1078.6,241.61 1074.2,241.61 1072,237.8 1074.2,233.99 1078.6,233.99"/>
<polygon points="1085.03,240.57 1082.83,244.38 1078.43,244.38 1076.23,240.57 1078.43,236.76 1082.83,236.76"/>
<polygon points="1089.26,237.15 1087.06,240.97 1082.66,240.97 1080.46,237.15 1082.66,233.34 1087.06,233.34"/>
<polygon points="1093.48,240.42 1091.28,244.23 1086.88,244.23 1084.68,240.42 1086.88,236.61 1091.28,236.61"/>
<polygon points="1097.71,240.82 1095.51,244.63 1091.11,244.63 1088.91,240.82 1091.11,237.01 1095.51,237.01"/>
<polygon points="1101.94,239.17 1099.74,242.98 1095.34,242.98 1093.14,239.17 1095.34,235.36 1099.74,235.36"/>
<polygon points="1106.17,238.35 1103.97,242.16 1099.57,242.16 1097.37,238.35 1099.57,234.54 1103.97,234.54"/>
<polygon points="1110.4,236.85 1108.2,240.66 1103.8,240.66 1101.6,236.85 1103.8,233.04 1108.2,233.04"/>
<polygon points="1114.63,240.49 1112.43,244.3 1108.03,244.3 1105.83,240.49 1108.03,236.67 1112.43,236.67"/>
<polygon points="1118.85,238.47 1116.65,242.28 1112.25,242.28 1110.05,238.47 1112.25,234.66 1116.65,234.66"/>
<polygon points="1123.08,238.99 1120.88,242.8 1116.48,242.8 1114.28,238.99 1116.48,235.17 1120.88,235.17"/>
<polygon points="1127.31,240.35 1125.11,244.16 1120.71,244.16 1118.51,240.35 1120.71,236.54 1125.11,236.54"/>
<polygon points="1131.54,239.45 1129.34,243.26 1124.94,243.26 1122.74,239.45 1124.94,235.64 1129.34,235.64"/>
<polygon points="1135.77,240.47 1133.57,244.28 1129.17,244.28 1126.97,240.47 1129.17,236.66 1133.57,236.66"/>
<polygon points="1140,236.59 1137.8,240.4 1133.4,240.4 1131.2,236.59 1133.4,232.78 1137.8,232.78"/>
<polygon points="1144.23,236.62 1142.03,240.43 1137.63,240.43 1135.43,236.62 1137.63,232.81 1142.03,232.81"/>
<polygon points="1148.45,236.77 1146.25,240.58 1141.85,240.58 1139.65,236.77 1141.85,232.96 1146.25,232.96"/>
</g>
<polyline points="644.5,233 654.7,115.5 660.4,97 666,104 671,125" fill="none" stroke="#e5505a" stroke-width="2" stroke-linejoin="round" stroke-linecap="butt"/>
<polyline points="644.5,262 654.2,423 660.4,434.5 666,426" fill="none" stroke="#b585ef" stroke-width="2" stroke-linejoin="round" stroke-linecap="butt"/>
<path d="M671 125 C671.92 130.5 674.58 145.67 676.5 158 C678.42 170.33 680.42 184.5 682.5 199 C684.58 213.5 686.63 227 689 245 C691.37 263 694.2 289.17 696.7 307 C699.2 324.83 701.62 338.83 704 352 C706.38 365.17 708.67 376.33 711 386 C713.33 395.67 715.67 403.33 718 410 C720.33 416.67 722.83 422.17 725 426 C727.17 429.83 729 431.33 731 433 C733 434.67 734.67 436 737 436 C739.33 436 742.27 434.67 745 433 C747.73 431.33 749.73 430.67 753.4 426 C757.07 421.33 762.27 412.57 767 405 C771.73 397.43 776.97 388.6 781.8 380.6 C786.63 372.6 791.3 364.6 796 357 C800.7 349.4 805.33 341.67 810 335 C814.67 328.33 819.25 322.67 824 317 C828.75 311.33 833.83 306 838.5 301 C843.17 296 847.25 291.22 852 287 C856.75 282.78 862.17 279.2 867 275.7 C871.83 272.2 876.33 268.83 881 266 C885.67 263.17 890.33 260.78 895 258.7 C899.67 256.62 904.23 254.95 909 253.5 C913.77 252.05 917.6 251.08 923.6 250 C929.6 248.92 937.85 247.82 945 247 C952.15 246.18 962.92 245.42 966.5 245.1" fill="none" stroke="#e5505a" stroke-width="2"/>
<path d="M666 426 C666.83 422.5 669.17 413.5 671 405 C672.83 396.5 674.5 385 677 375 C679.5 365 682.72 354.5 686 345 C689.28 335.5 693.7 324.67 696.7 318 C699.7 311.33 701.62 308.75 704 305 C706.38 301.25 708.67 298.67 711 295.5 C713.33 292.33 715.67 288.83 718 286 C720.33 283.17 722.67 280.58 725 278.5 C727.33 276.42 729.67 274.92 732 273.5 C734.33 272.08 736.67 271 739 270 C741.33 269 743.6 268.2 746 267.5 C748.4 266.8 750.57 266.3 753.4 265.8 C756.23 265.3 759.73 264.83 763 264.5 C766.27 264.17 766.83 263.97 773 263.8 C779.17 263.63 767.75 263.55 800 263.5 C832.25 263.45 938.75 263.5 966.5 263.5" fill="none" stroke="#b585ef" stroke-width="2"/>
<path d="M644.5 247 C644.83 250.17 645.83 259.83 646.5 266 C647.17 272.17 647.75 276.67 648.5 284 C649.25 291.33 650.08 301.5 651 310 C651.92 318.5 652.83 326.67 654 335 C655.17 343.33 656.55 352.4 658 360 C659.45 367.6 661.03 374.6 662.7 380.6 C664.37 386.6 666.12 391.27 668 396 C669.88 400.73 671.67 405 674 409 C676.33 413 679.17 416.67 682 420 C684.83 423.33 688 426.75 691 429 C694 431.25 696.67 432.2 700 433.5 C703.33 434.8 706.83 435.92 711 436.8 C715.17 437.68 720.33 438.8 725 438.8 C729.67 438.8 734.27 437.98 739 436.8 C743.73 435.62 748.73 433.67 753.4 431.7 C758.07 429.73 762.27 427.37 767 425 C771.73 422.63 776.97 420.17 781.8 417.5 C786.63 414.83 791.3 411.83 796 409 C800.7 406.17 805.33 403.5 810 400.5 C814.67 397.5 819.25 394.32 824 391 C828.75 387.68 833.83 383.93 838.5 380.6 C843.17 377.27 847.25 374.3 852 371 C856.75 367.7 862.17 363.88 867 360.8 C871.83 357.72 876.33 355.13 881 352.5 C885.67 349.87 890.33 347.5 895 345 C899.67 342.5 904.23 340.07 909 337.5 C913.77 334.93 917.6 332.35 923.6 329.6 C929.6 326.85 937.85 323.73 945 321 C952.15 318.27 962.92 314.5 966.5 313.2" fill="none" stroke="#5fd68a" stroke-width="2"/>
<path d="M975.2 243.6 C976 243.38 977.53 242.63 980 242.3 C982.47 241.97 985 241.73 990 241.6 C995 241.47 983.93 241.52 1010 241.5 C1036.07 241.48 1123.67 241.5 1146.4 241.5" fill="none" stroke="#e5505a" stroke-width="2"/>
<path d="M974.34 309.2 C974.83 307.86 976.28 303.68 977.26 301.16 C978.23 298.64 979.2 296.3 980.17 294.08 C981.14 291.85 982.12 289.79 983.09 287.83 C984.06 285.88 985.03 284.06 986 282.33 C986.98 280.61 987.95 279 988.92 277.48 C989.89 275.96 990.86 274.55 991.83 273.21 C992.81 271.87 993.78 270.62 994.75 269.44 C995.72 268.26 996.69 267.17 997.67 266.13 C998.64 265.09 999.61 264.12 1000.58 263.2 C1001.55 262.28 1002.52 261.43 1003.5 260.62 C1004.47 259.82 1005.44 259.07 1006.41 258.35 C1007.38 257.64 1008.36 256.98 1009.33 256.35 C1010.3 255.72 1011.27 255.14 1012.24 254.59 C1013.22 254.04 1014.19 253.52 1015.16 253.03 C1016.13 252.55 1017.1 252.09 1018.07 251.66 C1019.05 251.24 1020.02 250.84 1020.99 250.46 C1021.96 250.08 1022.93 249.73 1023.91 249.39 C1024.88 249.06 1025.85 248.75 1026.82 248.46 C1027.79 248.16 1028.77 247.89 1029.74 247.63 C1030.71 247.37 1031.68 247.13 1032.65 246.9 C1033.62 246.67 1034.6 246.46 1035.57 246.26 C1036.54 246.06 1037.51 245.87 1038.48 245.7 C1039.46 245.52 1040.43 245.35 1041.4 245.2 C1042.37 245.04 1043.34 244.9 1044.31 244.76 C1045.29 244.62 1046.26 244.49 1047.23 244.37 C1048.2 244.25 1049.17 244.14 1050.15 244.03 C1051.12 243.92 1052.09 243.82 1053.06 243.73 C1054.03 243.64 1055.01 243.55 1055.98 243.47 C1056.95 243.38 1057.92 243.3 1058.89 243.23 C1059.86 243.16 1060.84 243.09 1061.81 243.03 C1062.78 242.96 1063.75 242.9 1064.72 242.84 C1065.7 242.79 1066.67 242.74 1067.64 242.69 C1068.61 242.64 1069.58 242.59 1070.56 242.54 C1071.53 242.5 1072.5 242.46 1073.47 242.42 C1074.44 242.38 1075.41 242.35 1076.39 242.31 C1077.36 242.28 1078.33 242.24 1079.3 242.21 C1080.27 242.18 1081.25 242.16 1082.22 242.13 C1083.19 242.1 1084.16 242.08 1085.13 242.06 C1086.1 242.03 1087.08 242.01 1088.05 241.99 C1089.02 241.97 1089.99 241.95 1090.96 241.93 C1091.94 241.91 1092.91 241.9 1093.88 241.88 C1094.85 241.86 1095.82 241.85 1096.8 241.83 C1097.77 241.82 1098.74 241.81 1099.71 241.8 C1100.68 241.78 1101.65 241.77 1102.63 241.76 C1103.6 241.75 1104.57 241.74 1105.54 241.73 C1106.51 241.72 1107.49 241.71 1108.46 241.7 C1109.43 241.69 1110.4 241.69 1111.37 241.68 C1112.34 241.67 1113.32 241.66 1114.29 241.66 C1115.26 241.65 1116.23 241.64 1117.2 241.64 C1118.18 241.63 1119.15 241.63 1120.12 241.62 C1121.09 241.62 1122.06 241.61 1123.04 241.61 C1124.01 241.6 1124.98 241.6 1125.95 241.59 C1126.92 241.59 1127.89 241.59 1128.87 241.58 C1129.84 241.58 1130.81 241.58 1131.78 241.57 C1132.75 241.57 1133.73 241.57 1134.7 241.56 C1135.67 241.56 1136.64 241.56 1137.61 241.56 C1138.59 241.55 1139.56 241.55 1140.53 241.55 C1141.5 241.55 1142.47 241.55 1143.44 241.54 C1144.42 241.54 1145.87 241.54 1146.36 241.54" fill="none" stroke="#5fd68a" stroke-width="2"/>
<line x1="975.2" y1="263.5" x2="1146.4" y2="263.5" stroke="#b585ef" stroke-width="2"/>
</g>
<g opacity="1.0"><path d="M688.5 142.5 C689.58 146.25 693.08 157.92 695 165 C696.92 172.08 698.58 178.33 700 185 C701.42 191.67 702.92 201.67 703.5 205" fill="none" stroke="#f2b4b8" stroke-width="6.2"/><polygon points="697.06,205.91 705.3,217.8 709.94,204.09" fill="#f2b4b8"/></g>
<g opacity="1.0"><path d="M697.5 375 C698.42 372 701.08 362.83 703 357 C704.92 351.17 706.92 345.33 709 340 C711.08 334.67 714.42 327.5 715.5 325" fill="none" stroke="#e2d4f8" stroke-width="5.8"/><polygon points="721.09,328.31 722.9,312.5 709.91,321.69" fill="#e2d4f8"/></g>
<g opacity="1.0"><path d="M807 377.5 C808.83 373.58 814 360.75 818 354 C822 347.25 827.62 341.75 831 337 C834.38 332.25 837.08 327.42 838.3 325.5" fill="none" stroke="#f3c2c6" stroke-width="5.6"/><polygon points="842.72,330.27 847.9,316.6 833.88,320.73" fill="#f3c2c6"/></g>
<g opacity="1.0"><path d="M845 404 C847.95 401.75 856.77 394.7 862.7 390.5 C868.63 386.3 874.63 382.08 880.6 378.8 C886.57 375.52 892.18 373.33 898.5 370.8 C904.82 368.27 915.17 364.8 918.5 363.6" fill="none" stroke="#c9f3d9" stroke-width="5.2"/><polygon points="920.6,369.75 931.7,359.1 916.4,357.45" fill="#c9f3d9"/></g>
<text transform="translate(707.29,180.7) scale(0.9759,1)" font-family='"Liberation Sans", Arial, sans-serif' font-weight="bold" font-size="18.3" fill="#ec9499">0.3 ps</text>
<text transform="translate(720.18,346.8) scale(0.9838,1)" font-family='"Liberation Sans", Arial, sans-serif' font-weight="bold" font-size="18.3" fill="#caa7f2">0.2 ps</text>
<text transform="translate(833.28,351.5) scale(0.9718,1)" font-family='"Liberation Sans", Arial, sans-serif' font-weight="bold" font-size="18.6" fill="#e97e85">0.6 ps</text>
<text transform="translate(883.97,403.9) scale(0.9761,1)" font-family='"Liberation Sans", Arial, sans-serif' font-weight="bold" font-size="18.3" fill="#c6f1d6">2.4 ps</text>
<line x1="977.6" y1="77.4" x2="1026.3" y2="77.4" stroke="#e5505a" stroke-width="4" stroke-linecap="round"/>
<text transform="translate(1031.55,85.2) scale(1.0310,1)" font-family='"Liberation Sans", Arial, sans-serif' font-weight="bold" font-size="19.5" fill="#000">750 nm</text>
<line x1="977.6" y1="105.4" x2="1026.3" y2="105.4" stroke="#72dd93" stroke-width="4" stroke-linecap="round"/>
<text transform="translate(1031.65,113.2) scale(1.0295,1)" font-family='"Liberation Sans", Arial, sans-serif' font-weight="bold" font-size="19.5" fill="#000">630 nm</text>
<line x1="977.6" y1="133.4" x2="1026.3" y2="133.4" stroke="#bb8aee" stroke-width="4" stroke-linecap="round"/>
<text transform="translate(1031.8,141.2) scale(1.0272,1)" font-family='"Liberation Sans", Arial, sans-serif' font-weight="bold" font-size="19.5" fill="#000">560 nm</text>
<line x1="644" y1="42.6" x2="644" y2="468.8" stroke="#000" stroke-width="2"/>
<line x1="1146.4" y1="42.6" x2="1146.4" y2="468.8" stroke="#000" stroke-width="2"/>
<line x1="643" y1="42.6" x2="966.5" y2="42.6" stroke="#000" stroke-width="2"/>
<line x1="975.5" y1="42.6" x2="1147.4" y2="42.6" stroke="#000" stroke-width="2"/>
<line x1="643" y1="468.8" x2="966.5" y2="468.8" stroke="#000" stroke-width="2"/>
<line x1="975.5" y1="468.8" x2="1147.4" y2="468.8" stroke="#000" stroke-width="2"/>
<line x1="961.8" y1="48" x2="970.9" y2="38" stroke="#000" stroke-width="1.8"/>
<line x1="970.4" y1="48" x2="979.6" y2="38" stroke="#000" stroke-width="1.8"/>
<line x1="961.8" y1="474.2" x2="970.9" y2="464.2" stroke="#000" stroke-width="1.8"/>
<line x1="970.4" y1="474.2" x2="979.6" y2="464.2" stroke="#000" stroke-width="1.8"/>
<line x1="654.76" y1="468.8" x2="654.76" y2="464.8" stroke="#000" stroke-width="1.6"/>
<line x1="665.52" y1="468.8" x2="665.52" y2="464.8" stroke="#000" stroke-width="1.6"/>
<line x1="676.28" y1="468.8" x2="676.28" y2="464.8" stroke="#000" stroke-width="1.6"/>
<line x1="687.04" y1="468.8" x2="687.04" y2="464.8" stroke="#000" stroke-width="1.6"/>
<line x1="697.8" y1="468.8" x2="697.8" y2="461.3" stroke="#000" stroke-width="1.6"/>
<line x1="708.56" y1="468.8" x2="708.56" y2="464.8" stroke="#000" stroke-width="1.6"/>
<line x1="719.32" y1="468.8" x2="719.32" y2="464.8" stroke="#000" stroke-width="1.6"/>
<line x1="730.08" y1="468.8" x2="730.08" y2="464.8" stroke="#000" stroke-width="1.6"/>
<line x1="740.84" y1="468.8" x2="740.84" y2="464.8" stroke="#000" stroke-width="1.6"/>
<line x1="751.6" y1="468.8" x2="751.6" y2="461.3" stroke="#000" stroke-width="1.6"/>
<line x1="762.36" y1="468.8" x2="762.36" y2="464.8" stroke="#000" stroke-width="1.6"/>
<line x1="773.12" y1="468.8" x2="773.12" y2="464.8" stroke="#000" stroke-width="1.6"/>
<line x1="783.88" y1="468.8" x2="783.88" y2="464.8" stroke="#000" stroke-width="1.6"/>
<line x1="794.64" y1="468.8" x2="794.64" y2="464.8" stroke="#000" stroke-width="1.6"/>
<line x1="805.4" y1="468.8" x2="805.4" y2="461.3" stroke="#000" stroke-width="1.6"/>
<line x1="816.16" y1="468.8" x2="816.16" y2="464.8" stroke="#000" stroke-width="1.6"/>
<line x1="826.92" y1="468.8" x2="826.92" y2="464.8" stroke="#000" stroke-width="1.6"/>
<line x1="837.68" y1="468.8" x2="837.68" y2="464.8" stroke="#000" stroke-width="1.6"/>
<line x1="848.44" y1="468.8" x2="848.44" y2="464.8" stroke="#000" stroke-width="1.6"/>
<line x1="859.2" y1="468.8" x2="859.2" y2="461.3" stroke="#000" stroke-width="1.6"/>
<line x1="869.96" y1="468.8" x2="869.96" y2="464.8" stroke="#000" stroke-width="1.6"/>
<line x1="880.72" y1="468.8" x2="880.72" y2="464.8" stroke="#000" stroke-width="1.6"/>
<line x1="891.48" y1="468.8" x2="891.48" y2="464.8" stroke="#000" stroke-width="1.6"/>
<line x1="902.24" y1="468.8" x2="902.24" y2="464.8" stroke="#000" stroke-width="1.6"/>
<line x1="913" y1="468.8" x2="913" y2="461.3" stroke="#000" stroke-width="1.6"/>
<line x1="923.76" y1="468.8" x2="923.76" y2="464.8" stroke="#000" stroke-width="1.6"/>
<line x1="934.52" y1="468.8" x2="934.52" y2="464.8" stroke="#000" stroke-width="1.6"/>
<line x1="945.28" y1="468.8" x2="945.28" y2="464.8" stroke="#000" stroke-width="1.6"/>
<line x1="956.04" y1="468.8" x2="956.04" y2="464.8" stroke="#000" stroke-width="1.6"/>
<line x1="992.6" y1="468.8" x2="992.6" y2="461.3" stroke="#000" stroke-width="1.6"/>
<line x1="1011.82" y1="468.8" x2="1011.82" y2="464.8" stroke="#000" stroke-width="1.6"/>
<line x1="1031.04" y1="468.8" x2="1031.04" y2="461.3" stroke="#000" stroke-width="1.6"/>
<line x1="1050.26" y1="468.8" x2="1050.26" y2="464.8" stroke="#000" stroke-width="1.6"/>
<line x1="1069.48" y1="468.8" x2="1069.48" y2="461.3" stroke="#000" stroke-width="1.6"/>
<line x1="1088.7" y1="468.8" x2="1088.7" y2="464.8" stroke="#000" stroke-width="1.6"/>
<line x1="1107.92" y1="468.8" x2="1107.92" y2="461.3" stroke="#000" stroke-width="1.6"/>
<line x1="1127.14" y1="468.8" x2="1127.14" y2="464.8" stroke="#000" stroke-width="1.6"/>
<text x="629.82" y="494.9" font-family='"Liberation Sans", Arial, sans-serif' font-weight="bold" font-size="20.4" fill="#000">0.0</text>
<text x="683.49" y="494.9" font-family='"Liberation Sans", Arial, sans-serif' font-weight="bold" font-size="20.4" fill="#000">0.5</text>
<text x="737.19" y="494.9" font-family='"Liberation Sans", Arial, sans-serif' font-weight="bold" font-size="20.4" fill="#000">1.0</text>
<text x="790.87" y="494.9" font-family='"Liberation Sans", Arial, sans-serif' font-weight="bold" font-size="20.4" fill="#000">1.5</text>
<text x="845.07" y="494.9" font-family='"Liberation Sans", Arial, sans-serif' font-weight="bold" font-size="20.4" fill="#000">2.0</text>
<text x="898.75" y="494.9" font-family='"Liberation Sans", Arial, sans-serif' font-weight="bold" font-size="20.4" fill="#000">2.5</text>
<text x="986.84" y="494.9" font-family='"Liberation Sans", Arial, sans-serif' font-weight="bold" font-size="20.4" fill="#000">4</text>
<text x="1025.35" y="494.9" font-family='"Liberation Sans", Arial, sans-serif' font-weight="bold" font-size="20.4" fill="#000">6</text>
<text x="1063.79" y="494.9" font-family='"Liberation Sans", Arial, sans-serif' font-weight="bold" font-size="20.4" fill="#000">8</text>
<text x="1096.37" y="494.9" font-family='"Liberation Sans", Arial, sans-serif' font-weight="bold" font-size="20.4" fill="#000">10</text>
<text x="1134.78" y="494.9" font-family='"Liberation Sans", Arial, sans-serif' font-weight="bold" font-size="20.4" fill="#000">12</text>
<text transform="translate(848.11,522.4) scale(1.0610,1)" font-family='"Liberation Sans", Arial, sans-serif' font-weight="bold" font-size="20.8" fill="#000">Delay (ps)</text>
<text transform="translate(625.9,463.25) rotate(-90) scale(0.9507,1)" font-family='"Liberation Sans", Arial, sans-serif' font-weight="bold" font-size="21" fill="#000">Normalized transient absorption (arb. units)</text>
<text transform="translate(595.04,35.6) scale(1.0245,1)" font-family='"Liberation Sans", Arial, sans-serif' font-weight="bold" font-size="46" fill="#000">b</text>
<line x1="217.4" y1="671" x2="217.4" y2="1154.5" stroke="#5a5a5a" stroke-width="1.6" stroke-dasharray="7,4.2"/>
<line x1="345.5" y1="671" x2="345.5" y2="1154.5" stroke="#5a5a5a" stroke-width="1.6" stroke-dasharray="7,4.2"/>
<line x1="368.0" y1="671" x2="368.0" y2="1154.5" stroke="#5a5a5a" stroke-width="1.6" stroke-dasharray="7,4.2"/>
<polyline points="55.5,677.76 56.75,678.4 58,677.94 59.25,677.65 60.5,678.71 61.75,679.02 63,678.72 64.25,679.43 65.5,679.97 66.75,680.04 68,680.29 69.25,680.37 70.5,680.1 71.75,679.81 73,680.04 74.25,680.36 75.5,680.08 76.75,679.31 78,678.87 79.25,679.51 80.5,680.13 81.75,680.92 83,682.17 84.25,681.53 85.5,679.39 86.75,678.93 88,679.93 89.25,680.17 90.5,680.1 91.75,680.58 93,680.35 94.25,679.31 95.5,679.87 96.75,681.69 98,681.88 99.25,681.3 100.5,680.38 101.75,679.54 103,680.15 104.25,680.01 105.5,678.97 106.75,678.84 108,678.89 109.25,679.01 110.5,679.59 111.75,680.23 113,680.28 114.25,680.48 115.5,681.4 116.75,681.84 118,681.16 119.25,680.9 120.5,681.35 121.75,681.72 123,681.76 124.25,681.32 125.5,681.45 126.75,680.81 128,679.67 129.25,679.78 130.5,680.21 131.75,680.32 133,679.73 134.25,679.93 135.5,680.85 136.75,681.37 138,682.09 139.25,682 140.5,681.29 141.75,682.28 143,683.26 144.25,682.48 145.5,682.27 146.75,683.4 148,684.2 149.25,684.41 150.5,683.6 151.75,683.08 153,683.78 154.25,684.36 155.5,684.8 156.75,684.07 158,682.61 159.25,682.9 160.5,684.37 161.75,684.07 163,682.87 164.25,682.59 165.5,682.73 166.75,682.63 168,682.29 169.25,682.23 170.5,682.06 171.75,682.65 173,682.71 174.25,681.93 175.5,682.68 176.75,683.1 178,682.81 179.25,683.25 180.5,683.78 181.75,684.15 183,684.25 184.25,684.89 185.5,685.49 186.75,684.87 188,683.66 189.25,684.15 190.5,685.82 191.75,684.55 193,682.87 194.25,682.24 195.5,681.77 196.75,681.21 198,680.09 199.25,679.7 200.5,679.77 201.75,679.99 203,680.12 204.25,681.28 205.5,681.58 206.75,679.7 208,679.37 209.25,682.26 210.5,683.81 211.75,682.2 213,681.91 214.25,682.14 215.5,681.4 216.75,680.7 218,680.75 219.25,680.61 220.5,680.01 221.75,680.13 223,679.94 224.25,679.61 225.5,679.65 226.75,679.85 228,680.04 229.25,680.04 230.5,681.04 231.75,682.8 233,683.09 234.25,683.22 235.5,683.76 236.75,683.56 238,683.8 239.25,684.49 240.5,684.3 241.75,684.14 243,684.74 244.25,683.87 245.5,682.68 246.75,682.41 248,683.16 249.25,683.38 250.5,682.18 251.75,681.54 253,681.37 254.25,682.62 255.5,683.85 256.75,683.45 258,683.3 259.25,683.82 260.5,684.33 261.75,684.81 263,684.98 264.25,683.77 265.5,682.61 266.75,682.95 268,683.49 269.25,683.86 270.5,684.17 271.75,683.88 273,683.8 274.25,684.06 275.5,683.4 276.75,682.78 278,683.77 279.25,684.27 280.5,683.47 281.75,682.76 283,683.42 284.25,685.25 285.5,684.67 286.75,682.85 288,682.9 289.25,682.65 290.5,681.98 291.75,681.98 293,682.33 294.25,682.8 295.5,681.48 296.75,679.89 298,680.1 299.25,681.01 300.5,682.18 301.75,682.76 303,682.26 304.25,682.28 305.5,683.85 306.75,683.94 308,682.34 309.25,681.92 310.5,681.93 311.75,681.85 313,682.57 314.25,683.61 315.5,683.19 316.75,683.19 318,683.82 319.25,683.26 320.5,682.84 321.75,682.71 323,682.29 324.25,681.68 325.5,681.57 326.75,681.37 328,680.8 329.25,680.09 330.5,679.45 331.75,678.83 333,677.95 334.25,678.03 335.5,678.65 336.75,679.27 338,680.3 339.25,681.48 340.5,681.71 341.75,682.07 343,683.22 344.25,683.51 345.5,682.5 346.75,682.03 348,683.22 349.25,683.24 350.5,682.61 351.75,682.89 353,682.3 354.25,681.74 355.5,682.19 356.75,682.55 358,682.05 359.25,682.1 360.5,683.01 361.75,682.14 363,681.35 364.25,682.23 365.5,682.56 366.75,682.48 368,682.36 369.25,682.5 370.5,682.54 371.75,682.18 373,682.16 374.25,681.43 375.5,680.81 376.75,681.2 378,681.29 379.25,681.17 380.5,681.47 381.75,681.92 383,681.47 384.25,681.98 385.5,682.97 386.75,682.91 388,683.43 389.25,684.27 390.5,684.34 391.75,683.55 393,683.51 394.25,683.12 395.5,683.27 396.75,684.7 398,683.77 399.25,682.77 400.5,683.33 401.75,682.98 403,682.61 404.25,684.13 405.5,685.03 406.75,684.58 408,684.85 409.25,684.5 410.5,683.79 411.75,683.71 413,683.24 414.25,681.81 415.5,680.93 416.75,681.45 418,682.24 419.25,683.22 420.5,683.68 421.75,683.76 423,683.75 424.25,683.24 425.5,683.07 426.75,684.14 428,684.72 429.25,683.53 430.5,682.74 431.75,683.35 433,683.7 434.25,684.23 435.5,685.11 436.75,686.23 438,687.31 439.25,686.21 440.5,685.35 441.75,684.66 443,683.81 444.25,683.06 445.5,681.34 446.75,681.07 448,681.86 449.25,682.18 450.5,682.28 451.75,682.66 453,683.52 454.25,684.65 455.5,684.55 456.75,683.58 458,683.43 459.25,683.83 460.5,683.89 461.75,683.26 463,683.27 464.25,683.68 465.5,684.18 466.75,685.13 468,685.35 469.25,685.04 470.5,684.57 471.75,684.4 473,685.18 474.25,685.84 475.5,686.63 476.75,685.83 478,683.96 479.25,683.51 480.5,683.66 481.75,683.31 483,682.45 484.25,682.4 485.5,683.14 486.75,683.3 488,682.55 489.25,681.63 490.5,681.8 491.75,683.34 493,683.36 494.25,683.02" fill="none" stroke="#f23a3a" stroke-width="2.9" stroke-linejoin="round" stroke-linecap="butt"/>
<polyline points="55.5,696.84 56.75,696.3 58,695.21 59.25,695.09 60.5,696.9 61.75,697.13 63,695.91 64.25,696.73 65.5,697.19 66.75,697.66 68,698.68 69.25,698.96 70.5,698.97 71.75,699.09 73,699.61 74.25,699.88 75.5,699.71 76.75,699.35 78,699.06 79.25,699.18 80.5,699.78 81.75,699.93 83,699.78 84.25,699.32 85.5,698.92 86.75,699.88 88,699.93 89.25,697.53 90.5,696.04 91.75,696.82 93,698.13 94.25,698.97 95.5,699.45 96.75,699.52 98,699.23 99.25,699.11 100.5,699.35 101.75,698.97 103,697.92 104.25,697.7 105.5,698.74 106.75,698.93 108,697.29 109.25,696.65 110.5,697.76 111.75,698.93 113,699.48 114.25,699.34 115.5,699 116.75,699.88 118,699.93 119.25,698.57 120.5,699.07 121.75,699.85 123,699.62 124.25,700.51 125.5,701.22 126.75,700.17 128,699 129.25,699.11 130.5,699.8 131.75,699.59 133,699.21 134.25,699.42 135.5,699.25 136.75,698.01 138,696.62 139.25,697.28 140.5,699.33 141.75,700.51 143,700.77 144.25,700.11 145.5,699.66 146.75,700.27 148,700.09 149.25,699.39 150.5,700.37 151.75,702.09 153,702.24 154.25,701 155.5,699.84 156.75,699.32 158,699.41 159.25,698.5 160.5,697.36 161.75,697.79 163,698.35 164.25,699.69 165.5,700.55 166.75,700.79 168,701.46 169.25,700.45 170.5,699.33 171.75,698.53 173,698.11 174.25,697.75 175.5,696.81 176.75,696.47 178,696.35 179.25,696 180.5,695.9 181.75,696.89 183,698.09 184.25,699.16 185.5,700.38 186.75,701.38 188,700.8 189.25,700.89 190.5,701.82 191.75,701.45 193,701.32 194.25,701.3 195.5,700.88 196.75,700.87 198,701.87 199.25,702.07 200.5,702.27 201.75,703.75 203,703.98 204.25,703.05 205.5,702.65 206.75,702.45 208,702.55 209.25,702.77 210.5,702.21 211.75,700.82 213,700.02 214.25,700.21 215.5,700.32 216.75,701.16 218,702.47 219.25,703.83 220.5,704.18 221.75,703.45 223,703.38 224.25,704.13 225.5,704.89 226.75,704.54 228,703.73 229.25,703.22 230.5,703.43 231.75,704.27 233,704.76 234.25,704.68 235.5,704.66 236.75,704.76 238,705.13 239.25,705.49 240.5,705.25 241.75,704.41 243,703.55 244.25,703.47 245.5,703.3 246.75,703.29 248,703.66 249.25,703.8 250.5,704.26 251.75,704.32 253,703.69 254.25,702.21 255.5,700.78 256.75,700.48 258,699.98 259.25,699.89 260.5,700.95 261.75,701.31 263,701.42 264.25,702.22 265.5,702.34 266.75,701.31 268,700.57 269.25,700.9 270.5,700.78 271.75,700.43 273,701 274.25,700.55 275.5,699.7 276.75,700.18 278,701.15 279.25,702.62 280.5,702.92 281.75,701.27 283,700.84 284.25,701.25 285.5,701.74 286.75,702.34 288,701.8 289.25,701.24 290.5,700.7 291.75,700.13 293,701.22 294.25,702.23 295.5,701.64 296.75,701.76 298,703.4 299.25,704.65 300.5,703.84 301.75,703.6 303,704.2 304.25,703.96 305.5,704.47 306.75,705.37 308,705.72 309.25,706.05 310.5,706.89 311.75,705.93 313,703.74 314.25,703.15 315.5,704.55 316.75,705.59 318,705.03 319.25,704.47 320.5,704.59 321.75,705.05 323,705.12 324.25,704.47 325.5,704.32 326.75,705.36 328,705.2 329.25,704.53 330.5,705.47 331.75,705.08 333,703.03 334.25,702.83 335.5,704.46 336.75,705.22 338,704.23 339.25,704.29 340.5,705.63 341.75,705.35 343,705.87 344.25,707.89 345.5,708 346.75,706.27 348,705.09 349.25,704.57 350.5,703.96 351.75,704.55 353,704.84 354.25,704.29 355.5,704.88 356.75,705.8 358,705.94 359.25,705.76 360.5,705.35 361.75,703.92 363,702.52 364.25,702.21 365.5,703.15 366.75,703.82 368,703.55 369.25,702.9 370.5,701.9 371.75,701.77 373,701.77 374.25,702.55 375.5,704.36 376.75,704.3 378,702.91 379.25,702.53 380.5,702.49 381.75,702.38 383,702.56 384.25,702.27 385.5,702.03 386.75,702.07 388,701.91 389.25,701.39 390.5,701.11 391.75,701.55 393,702.09 394.25,703.18 395.5,704.69 396.75,706.19 398,706.41 399.25,706.32 400.5,706.66 401.75,706.64 403,707.22 404.25,706.54 405.5,705.49 406.75,706.21 408,705.64 409.25,703.38 410.5,703.15 411.75,703.05 413,701.95 414.25,701.62 415.5,702.07 416.75,703.71 418,705.55 419.25,706.69 420.5,706.54 421.75,706.82 423,707.3 424.25,706.19 425.5,704.61 426.75,703.61 428,704.35 429.25,705.79 430.5,706.22 431.75,705.57 433,704.46 434.25,704.11 435.5,705.06 436.75,704.9 438,703.46 439.25,703.14 440.5,703.86 441.75,705.25 443,705.54 444.25,705.33 445.5,705.87 446.75,705.72 448,704.78 449.25,703.83 450.5,703.3 451.75,703.7 453,705.69 454.25,706.24 455.5,704.63 456.75,704.54 458,704.8 459.25,704.22 460.5,704.01 461.75,704.13 463,704.48 464.25,704.09 465.5,703.97 466.75,704.06 468,702.8 469.25,702.38 470.5,703.76 471.75,705.33 473,705.8 474.25,705.76 475.5,705.87 476.75,706.61 478,707.35 479.25,707.86 480.5,708.32 481.75,707.31 483,705.88 484.25,705.61 485.5,706.4 486.75,706.36 488,705.94 489.25,705.79 490.5,705.75 491.75,706.08 493,705.76 494.25,706.26" fill="none" stroke="#e8288c" stroke-width="2.9" stroke-linejoin="round" stroke-linecap="butt"/>
<polyline points="55.5,729.98 56.75,729.12 58,729.71 59.25,730.51 60.5,730.74 61.75,730.7 63,730.52 64.25,731.56 65.5,733.77 66.75,735.93 68,735.69 69.25,734.91 70.5,735.22 71.75,734.55 73,734.07 74.25,734.33 75.5,734.55 76.75,734.41 78,734.23 79.25,734 80.5,734.32 81.75,735.12 83,734.66 84.25,733.79 85.5,733.93 86.75,735.46 88,736.21 89.25,735.53 90.5,735.54 91.75,736.05 93,735.72 94.25,735.62 95.5,736.24 96.75,736.01 98,735.52 99.25,734.33 100.5,733.23 101.75,734.07 103,733.9 104.25,733.53 105.5,734.82 106.75,735.47 108,734.75 109.25,734.25 110.5,734.68 111.75,735.41 113,736.06 114.25,735.86 115.5,735.52 116.75,735.68 118,735.05 119.25,734.95 120.5,736.03 121.75,736.59 123,736.19 124.25,735.63 125.5,734.96 126.75,734.3 128,735.18 129.25,735.14 130.5,733.98 131.75,734.28 133,734.96 134.25,735.06 135.5,734.38 136.75,734.96 138,736.77 139.25,736.13 140.5,734.26 141.75,734.15 143,734.55 144.25,734.55 145.5,734.4 146.75,734.24 148,734.32 149.25,735.16 150.5,736.01 151.75,735.92 153,734.94 154.25,735.37 155.5,737.18 156.75,738 158,738.14 159.25,738.45 160.5,738.04 161.75,736.46 163,735.41 164.25,735.46 165.5,735.35 166.75,733.86 168,732.98 169.25,733.45 170.5,733.84 171.75,733.47 173,732.05 174.25,731.52 175.5,732.73 176.75,733.68 178,733.32 179.25,732.36 180.5,731.76 181.75,731.86 183,732.11 184.25,732.61 185.5,732.71 186.75,733.23 188,734.1 189.25,734.85 190.5,736.13 191.75,737.28 193,737.42 194.25,735.97 195.5,734.26 196.75,734.19 198,735 199.25,734.6 200.5,734.12 201.75,735.28 203,735.41 204.25,733.75 205.5,733.05 206.75,734 208,735.22 209.25,736.74 210.5,737.44 211.75,737 213,736.74 214.25,736.7 215.5,736.69 216.75,736.35 218,735.52 219.25,734.65 220.5,734.64 221.75,735.9 223,737.47 224.25,737.79 225.5,737.19 226.75,737.39 228,737.83 229.25,737.13 230.5,736.89 231.75,738.22 233,738.9 234.25,737.47 235.5,735.95 236.75,735.93 238,736.77 239.25,738.58 240.5,739.66 241.75,739.85 243,740.24 244.25,739.92 245.5,739.02 246.75,737.98 248,738.03 249.25,738.16 250.5,737.56 251.75,737.22 253,737.11 254.25,737.57 255.5,737.96 256.75,737.46 258,737.39 259.25,737.94 260.5,738.38 261.75,737.65 263,736.35 264.25,736.49 265.5,736.66 266.75,736.88 268,737.64 269.25,738.04 270.5,737.82 271.75,737.72 273,737.78 274.25,737.24 275.5,737.3 276.75,737.81 278,738.41 279.25,739.66 280.5,740.46 281.75,739.96 283,738.61 284.25,737.67 285.5,737.93 286.75,737.89 288,737.36 289.25,737.76 290.5,738.69 291.75,739.22 293,739.15 294.25,739.3 295.5,738.97 296.75,738.25 298,738.11 299.25,738.28 300.5,739.25 301.75,739.95 303,739.78 304.25,740.34 305.5,740.92 306.75,740.52 308,740.05 309.25,739.46 310.5,739.39 311.75,739.61 313,739.44 314.25,739.91 315.5,740.56 316.75,740.61 318,739.87 319.25,739.21 320.5,739.28 321.75,739.03 323,738.88 324.25,738.92 325.5,738.69 326.75,738 328,737.39 329.25,736.56 330.5,735.72 331.75,735.62 333,735.9 334.25,737.46 335.5,737.56 336.75,736.42 338,736.82 339.25,737.13 340.5,736.98 341.75,737.03 343,736.11 344.25,735.16 345.5,735.72 346.75,736.61 348,736.84 349.25,737 350.5,738.2 351.75,738.59 353,737.81 354.25,737.89 355.5,738.41 356.75,739.33 358,740.44 359.25,740.01 360.5,738.97 361.75,739.14 363,740.64 364.25,741.49 365.5,740.59 366.75,739.96 368,739.98 369.25,740.3 370.5,740.52 371.75,739.86 373,739.59 374.25,739.79 375.5,739.31 376.75,739.26 378,739.99 379.25,739.63 380.5,738.66 381.75,738.01 383,738.12 384.25,739.05 385.5,739.54 386.75,740.12 388,740.62 389.25,740.65 390.5,740.74 391.75,741.41 393,741.72 394.25,741.19 395.5,741.43 396.75,741.46 398,740.49 399.25,739.84 400.5,740.55 401.75,740.9 403,739.86 404.25,739.14 405.5,739.52 406.75,739.3 408,738.38 409.25,738.97 410.5,739.46 411.75,739.05 413,739.47 414.25,739.12 415.5,738.22 416.75,738.06 418,737.77 419.25,738.9 420.5,740.19 421.75,740.36 423,740.92 424.25,741.27 425.5,741.4 426.75,740.74 428,739.83 429.25,740.79 430.5,741.77 431.75,740.96 433,740.84 434.25,741.45 435.5,740.89 436.75,740.08 438,740.8 439.25,741.56 440.5,741.5 441.75,742.02 443,742.23 444.25,740.9 445.5,739.43 446.75,739.87 448,741.46 449.25,742.79 450.5,743.29 451.75,743.46 453,743.66 454.25,743.65 455.5,743.51 456.75,743.12 458,742.52 459.25,742.45 460.5,742.95 461.75,742.94 463,743.32 464.25,744.14 465.5,745.11 466.75,746.14 468,745.26 469.25,744.04 470.5,744.31 471.75,744.16 473,743.92 474.25,744.14 475.5,742.73 476.75,741.99 478,743.43 479.25,744.57 480.5,744.9 481.75,744.12 483,744.08 484.25,744.75 485.5,744.26 486.75,744.57 488,745.28 489.25,744.67 490.5,744.07 491.75,744.46 493,744.54 494.25,743.98" fill="none" stroke="#b01ff0" stroke-width="2.9" stroke-linejoin="round" stroke-linecap="butt"/>
<polyline points="55.5,761.66 56.75,763.31 58,765.25 59.25,765.29 60.5,764.8 61.75,765.7 63,766.85 64.25,766.78 65.5,766.67 66.75,767.47 68,768.67 69.25,769.27 70.5,769.06 71.75,768.14 73,768.13 74.25,768.57 75.5,768.05 76.75,768.18 78,768.04 79.25,767.37 80.5,767.43 81.75,767.92 83,768.53 84.25,769.16 85.5,769.04 86.75,767.82 88,767.31 89.25,767.54 90.5,767.05 91.75,765.93 93,765.99 94.25,766.83 95.5,767.15 96.75,768.4 98,769.4 99.25,770.11 100.5,770.15 101.75,768.67 103,768.1 104.25,768.62 105.5,769.23 106.75,768.85 108,767.63 109.25,767.01 110.5,766.88 111.75,766.96 113,767.18 114.25,767.98 115.5,768.5 116.75,767.73 118,767.41 119.25,767.86 120.5,767.73 121.75,768.13 123,769.18 124.25,768.99 125.5,768.62 126.75,769.01 128,768.8 129.25,768.67 130.5,769.1 131.75,769.49 133,769.56 134.25,769.21 135.5,769.07 136.75,768.96 138,769.09 139.25,769.59 140.5,768.97 141.75,769.21 143,770.65 144.25,770.08 145.5,769.79 146.75,770.74 148,770.78 149.25,770.37 150.5,769.59 151.75,768.7 153,767.69 154.25,768.08 155.5,769.62 156.75,771.52 158,773.63 159.25,774.56 160.5,774.19 161.75,773.3 163,772.49 164.25,771.24 165.5,769.95 166.75,769.17 168,768.93 169.25,769.2 170.5,769.54 171.75,770.03 173,770.65 174.25,770.49 175.5,770.37 176.75,771.01 178,770.94 179.25,770.55 180.5,770.52 181.75,771.17 183,772.14 184.25,771.43 185.5,770.42 186.75,769.35 188,768.18 189.25,767.02 190.5,766.23 191.75,767.65 193,768.41 194.25,768.84 195.5,769.58 196.75,769.87 198,770.62 199.25,771.14 200.5,770.56 201.75,769.96 203,769.77 204.25,769.86 205.5,770.69 206.75,770.33 208,770.22 209.25,771.26 210.5,770.69 211.75,768.78 213,767.72 214.25,767.82 215.5,767.13 216.75,765.81 218,765.96 219.25,767.34 220.5,768.48 221.75,768.92 223,768.73 224.25,767.76 225.5,766.76 226.75,766.34 228,767.64 229.25,769.31 230.5,769.58 231.75,770.8 233,771.61 234.25,771.37 235.5,771.59 236.75,771.61 238,771.47 239.25,771.86 240.5,772.67 241.75,773.48 243,773.54 244.25,772.6 245.5,772.09 246.75,771.25 248,770.79 249.25,770.7 250.5,770.07 251.75,770.27 253,770.48 254.25,770.3 255.5,770.37 256.75,771.28 258,772.1 259.25,772.81 260.5,773.58 261.75,772.43 263,770.97 264.25,772.64 265.5,774.68 266.75,774.26 268,773.4 269.25,773.82 270.5,775.15 271.75,775.68 273,775.4 274.25,775.43 275.5,775.63 276.75,774.7 278,773.62 279.25,773.88 280.5,773.87 281.75,773.92 283,774.31 284.25,773.28 285.5,772.71 286.75,774.66 288,775.56 289.25,774.46 290.5,774.03 291.75,773.76 293,773.4 294.25,773.69 295.5,773.73 296.75,772.91 298,772.19 299.25,772.37 300.5,773.32 301.75,773.4 303,772.37 304.25,771.64 305.5,771.61 306.75,772.92 308,773.21 309.25,772.52 310.5,772.42 311.75,771.47 313,771.53 314.25,771.74 315.5,770.46 316.75,770.01 318,770.93 319.25,771.17 320.5,770.72 321.75,770.33 323,769.88 324.25,769.78 325.5,769 326.75,768.15 328,767.82 329.25,767.74 330.5,768.27 331.75,768 333,766.36 334.25,765.35 335.5,764.94 336.75,765.48 338,766.38 339.25,766.83 340.5,767.1 341.75,766.72 343,766.07 344.25,765.05 345.5,765.64 346.75,767.59 348,768.28 349.25,769.16 350.5,770.44 351.75,770.96 353,771.03 354.25,771.87 355.5,773.6 356.75,773.88 358,773.74 359.25,773.17 360.5,772.14 361.75,771.78 363,771.46 364.25,771.23 365.5,771.16 366.75,771.84 368,772.72 369.25,773.75 370.5,774.16 371.75,773.89 373,773.77 374.25,773.63 375.5,773.94 376.75,774.84 378,775.64 379.25,775.1 380.5,774.4 381.75,774.67 383,774.66 384.25,774.17 385.5,773.77 386.75,774.81 388,776.41 389.25,776.42 390.5,775.64 391.75,774.77 393,774.66 394.25,775.34 395.5,776 396.75,776.06 398,775.73 399.25,776.51 400.5,776.77 401.75,775.92 403,775.53 404.25,775.15 405.5,775.23 406.75,775.95 408,775.89 409.25,774.66 410.5,774.35 411.75,774.11 413,772.96 414.25,772.35 415.5,771.85 416.75,772.39 418,773.61 419.25,774.96 420.5,776.06 421.75,776.11 423,775.43 424.25,774.9 425.5,774.99 426.75,774.95 428,775.31 429.25,776.85 430.5,776.99 431.75,776.02 433,776.58 434.25,777.64 435.5,777.64 436.75,776.81 438,776.51 439.25,776.31 440.5,776.08 441.75,776.66 443,776.6 444.25,776.56 445.5,777.07 446.75,776.42 448,775.96 449.25,775.44 450.5,774.86 451.75,775.13 453,775.11 454.25,774.75 455.5,775.51 456.75,776.39 458,775.83 459.25,775.88 460.5,776.27 461.75,775.93 463,775.76 464.25,775.72 465.5,775.95 466.75,775.57 468,775.38 469.25,776.41 470.5,776.44 471.75,775.91 473,775.88 474.25,776.4 475.5,777.19 476.75,777.78 478,777.67 479.25,776.69 480.5,777.03 481.75,778.02 483,777.92 484.25,778.26 485.5,778.83 486.75,778.56 488,778.2 489.25,778.63 490.5,779.55 491.75,779.4 493,778.73 494.25,779.12" fill="none" stroke="#7a1cf0" stroke-width="2.9" stroke-linejoin="round" stroke-linecap="butt"/>
<polyline points="55.5,807.13 56.75,807.2 58,808.24 59.25,809.51 60.5,810.07 61.75,809.58 63,808.87 64.25,809.26 65.5,810.72 66.75,811.57 68,810.67 69.25,809.5 70.5,810.19 71.75,811.61 73,810.99 74.25,809.88 75.5,810.05 76.75,810.13 78,810.23 79.25,810.45 80.5,810.79 81.75,811.37 83,811.22 84.25,811 85.5,811.63 86.75,811.5 88,810.59 89.25,810.57 90.5,810.93 91.75,810.97 93,811.05 94.25,811.49 95.5,811.76 96.75,811.28 98,810.88 99.25,810.8 100.5,810.43 101.75,810.75 103,811.47 104.25,812.06 105.5,813.17 106.75,812.93 108,811.94 109.25,812.15 110.5,812.43 111.75,812.79 113,812.56 114.25,811.86 115.5,812.4 116.75,813.37 118,813.46 119.25,813.13 120.5,813.13 121.75,812.86 123,812.64 124.25,813.19 125.5,814.12 126.75,814.78 128,815.01 129.25,814.39 130.5,813.81 131.75,813.49 133,812.8 134.25,813.23 135.5,813.86 136.75,813.46 138,813.29 139.25,813.85 140.5,814.17 141.75,814.09 143,814.33 144.25,814.91 145.5,814.92 146.75,814.77 148,814.84 149.25,813.96 150.5,813.18 151.75,813.81 153,814.74 154.25,814.47 155.5,813.64 156.75,813.9 158,814.45 159.25,813.99 160.5,814.04 161.75,814.16 163,813.42 164.25,813.05 165.5,812.94 166.75,812.43 168,812.54 169.25,812.97 170.5,811.95 171.75,810.64 173,810.54 174.25,811.37 175.5,812 176.75,812.76 178,813.11 179.25,813.41 180.5,813.95 181.75,814.76 183,815.63 184.25,815.57 185.5,816.23 186.75,817.02 188,815.91 189.25,815.09 190.5,816.05 191.75,815.93 193,815.35 194.25,815.96 195.5,815.88 196.75,815.27 198,815.02 199.25,814.86 200.5,815.48 201.75,815.75 203,815.09 204.25,815.26 205.5,815.06 206.75,813.59 208,812.88 209.25,812.18 210.5,810.79 211.75,810.01 213,809.78 214.25,808.87 215.5,807.27 216.75,806.56 218,806.88 219.25,807.73 220.5,809.05 221.75,809.95 223,811.04 224.25,812.05 225.5,811.86 226.75,811.5 228,811.24 229.25,811.29 230.5,812.18 231.75,813.7 233,814.88 234.25,815.5 235.5,814.87 236.75,814.32 238,815.59 239.25,815.22 240.5,814.1 241.75,814.34 243,813.43 244.25,812.61 245.5,813.29 246.75,814.78 248,815.76 249.25,815.47 250.5,815.45 251.75,815.72 253,815.63 254.25,815.78 255.5,816.8 256.75,817.77 258,817.43 259.25,816.45 260.5,816.48 261.75,817.24 263,817.42 264.25,817.12 265.5,817.92 266.75,820.01 268,820.27 269.25,819.65 270.5,820.76 271.75,820.76 273,819.36 274.25,819.28 275.5,820.1 276.75,820.32 278,819.84 279.25,819.27 280.5,819.65 281.75,821.02 283,820.9 284.25,819.01 285.5,818.95 286.75,819.88 288,818.66 289.25,817.67 290.5,818.1 291.75,818.51 293,818.55 294.25,817.64 295.5,816.79 296.75,817.14 298,817.9 299.25,818.22 300.5,817.03 301.75,815.59 303,816.15 304.25,817.53 305.5,816.83 306.75,815.97 308,816.98 309.25,818.59 310.5,819.17 311.75,818.16 313,818.06 314.25,817.64 315.5,816.25 316.75,816.05 318,816.73 319.25,816.89 320.5,815.86 321.75,815.1 323,814.54 324.25,813.39 325.5,812.1 326.75,810.86 328,810.16 329.25,810.45 330.5,810.58 331.75,809.47 333,809.08 334.25,808.91 335.5,808.3 336.75,807.52 338,806.25 339.25,806.44 340.5,805.85 341.75,803.3 343,802.51 344.25,802.92 345.5,802.27 346.75,802.41 348,804.33 349.25,806.6 350.5,808.89 351.75,810.16 353,810.39 354.25,810.73 355.5,811.86 356.75,813.54 358,814.21 359.25,814.51 360.5,814.36 361.75,814.19 363,815.32 364.25,816.92 365.5,817.42 366.75,817.11 368,817.51 369.25,818.73 370.5,819.11 371.75,818.17 373,817.58 374.25,817.26 375.5,817.04 376.75,816.9 378,816.7 379.25,816.88 380.5,816.42 381.75,815.73 383,815.88 384.25,816.23 385.5,816.34 386.75,816.77 388,816.73 389.25,815.25 390.5,814.88 391.75,816.06 393,816.42 394.25,816.08 395.5,816.24 396.75,817.53 398,817.87 399.25,817.16 400.5,817.09 401.75,816.97 403,816.64 404.25,815.93 405.5,815.86 406.75,816.46 408,816.16 409.25,816.36 410.5,816.16 411.75,816.05 413,817.42 414.25,818.37 415.5,818.78 416.75,818.31 418,817.95 419.25,817.92 420.5,817.05 421.75,816.04 423,815.95 424.25,816.61 425.5,816.68 426.75,815.46 428,815.05 429.25,815.52 430.5,815.49 431.75,816.59 433,817.02 434.25,816.93 435.5,817.84 436.75,819.45 438,820.46 439.25,820.15 440.5,820.82 441.75,821.08 443,819.52 444.25,818.07 445.5,817.6 446.75,817.62 448,817.94 449.25,817.9 450.5,818.06 451.75,818.01 453,816.94 454.25,817.91 455.5,820.28 456.75,820.62 458,819.99 459.25,820.27 460.5,820.77 461.75,820.11 463,818.72 464.25,817.84 465.5,817.71 466.75,817.41 468,816.96 469.25,817.14 470.5,817.44 471.75,817.83 473,817.76 474.25,817.04 475.5,817.71 476.75,818.95 478,818.92 479.25,819.18 480.5,819.7 481.75,819.73 483,818.82 484.25,817.57 485.5,817.54 486.75,817.41 488,816.93 489.25,816.97 490.5,816.64 491.75,816.66 493,817.61 494.25,818.24" fill="none" stroke="#2a1ce8" stroke-width="2.9" stroke-linejoin="round" stroke-linecap="butt"/>
<polyline points="55.5,845.07 56.75,844.61 58,842.89 59.25,843.49 60.5,845.18 61.75,845.54 63,845.43 64.25,845.77 65.5,845.73 66.75,845.76 68,845.54 69.25,845.01 70.5,845.48 71.75,845.97 73,846.26 74.25,847.06 75.5,847.75 76.75,847.37 78,846.67 79.25,846.29 80.5,845.32 81.75,844.96 83,845.69 84.25,845.53 85.5,844.34 86.75,844.27 88,845.14 89.25,845.64 90.5,846.27 91.75,846.31 93,845.88 94.25,846.6 95.5,847.26 96.75,847.78 98,848.31 99.25,848.33 100.5,848.43 101.75,848.57 103,848.99 104.25,848.66 105.5,848.74 106.75,849.47 108,848.85 109.25,847.91 110.5,848.29 111.75,848.24 113,847.22 114.25,846.47 115.5,845.34 116.75,845.41 118,847.01 119.25,848.14 120.5,848.1 121.75,847.99 123,847.72 124.25,847.66 125.5,848.81 126.75,849.56 128,849.5 129.25,849.94 130.5,850.42 131.75,850.06 133,850.21 134.25,849.9 135.5,848.9 136.75,848.29 138,847.82 139.25,848.68 140.5,849.32 141.75,848.85 143,848.86 144.25,849.52 145.5,850.07 146.75,850.4 148,850.84 149.25,851.39 150.5,851.36 151.75,851.59 153,852.62 154.25,852.33 155.5,850.96 156.75,850.85 158,851.21 159.25,849.88 160.5,848.95 161.75,849.55 163,850.02 164.25,849.96 165.5,849.52 166.75,849.8 168,850.57 169.25,850.35 170.5,849.98 171.75,850.26 173,849.44 174.25,848.54 175.5,849.16 176.75,849.43 178,849.24 179.25,849.11 180.5,848.85 181.75,848.15 183,847.98 184.25,847.8 185.5,845.95 186.75,845.31 188,846 189.25,845.45 190.5,844.88 191.75,845.61 193,845.63 194.25,845.58 195.5,847.3 196.75,848.61 198,848.08 199.25,847.36 200.5,847.01 201.75,847.02 203,847.35 204.25,847.7 205.5,847.97 206.75,848.24 208,848.71 209.25,848.93 210.5,847.8 211.75,845.4 213,844.23 214.25,843.69 215.5,842.39 216.75,841.32 218,841.1 219.25,841.81 220.5,843.26 221.75,844.62 223,845.13 224.25,845.94 225.5,847.34 226.75,847.95 228,848.16 229.25,848.96 230.5,849.58 231.75,849.75 233,849.93 234.25,850.14 235.5,850.09 236.75,850.09 238,850.46 239.25,850.36 240.5,850.93 241.75,851.76 243,850.9 244.25,851.42 245.5,852.7 246.75,852.3 248,852.45 249.25,852.85 250.5,852.13 251.75,850.96 253,850.97 254.25,852.1 255.5,852.09 256.75,851.4 258,851.98 259.25,853.16 260.5,854.28 261.75,854.85 263,855.28 264.25,856.86 265.5,859.16 266.75,861.3 268,861.22 269.25,858.47 270.5,856.22 271.75,855.24 273,854.46 274.25,854.09 275.5,853.64 276.75,852.77 278,852.23 279.25,852.7 280.5,853.12 281.75,852.98 283,853.18 284.25,852.64 285.5,852.09 286.75,851.77 288,851 289.25,851.72 290.5,852.15 291.75,850.96 293,850.64 294.25,851.47 295.5,851.74 296.75,851.7 298,851.97 299.25,852.64 300.5,852.45 301.75,852.11 303,852.86 304.25,853.08 305.5,853.04 306.75,853.73 308,854.39 309.25,854.55 310.5,854.04 311.75,853.07 313,853.35 314.25,854.48 315.5,854.9 316.75,854.42 318,853.61 319.25,852.28 320.5,850.17 321.75,847.94 323,846.84 324.25,845.6 325.5,843.63 326.75,843.25 328,843.55 329.25,842.44 330.5,841.08 331.75,841.24 333,840.9 334.25,840.04 335.5,839.88 336.75,839.14 338,837.94 339.25,838.14 340.5,838.97 341.75,837.78 343,835.43 344.25,833.23 345.5,832.76 346.75,834.06 348,835.54 349.25,837.23 350.5,839.87 351.75,843.24 353,845.14 354.25,846.11 355.5,847.26 356.75,849.08 358,851.42 359.25,852.3 360.5,851.94 361.75,853.01 363,855.89 364.25,857.99 365.5,859.05 366.75,859.2 368,858.47 369.25,858.71 370.5,859.1 371.75,858.12 373,856.59 374.25,854.96 375.5,853.99 376.75,853.6 378,852.86 379.25,852.74 380.5,852.98 381.75,853.38 383,854.14 384.25,853.81 385.5,852.6 386.75,851.82 388,851.94 389.25,851.69 390.5,851.13 391.75,851.31 393,851.42 394.25,850.73 395.5,849.86 396.75,849.51 398,849.62 399.25,850.44 400.5,850.62 401.75,849.88 403,850.22 404.25,851.26 405.5,852.39 406.75,853.55 408,853.76 409.25,852.61 410.5,852.31 411.75,852.74 413,852.5 414.25,851.81 415.5,850.42 416.75,848.8 418,848.41 419.25,849.26 420.5,850.09 421.75,850.22 423,850.36 424.25,851.18 425.5,851.95 426.75,852.76 428,852.51 429.25,852 430.5,853.42 431.75,854.66 433,854.7 434.25,855.78 435.5,856.3 436.75,855.5 438,855.07 439.25,854.59 440.5,854.57 441.75,853.73 443,852.81 444.25,852.86 445.5,852.72 446.75,852.89 448,853.26 449.25,853.14 450.5,853.24 451.75,854.65 453,855.39 454.25,853.75 455.5,852.05 456.75,851.81 458,852.16 459.25,851.9 460.5,850.81 461.75,849.93 463,849.92 464.25,850.97 465.5,852.04 466.75,851.29 468,850.5 469.25,852.44 470.5,854.41 471.75,853.88 473,852.71 474.25,854.02 475.5,855.86 476.75,855.65 478,854.48 479.25,853.6 480.5,854.01 481.75,854.81 483,855.43 484.25,855.37 485.5,855.05 486.75,854.74 488,853.85 489.25,853.57 490.5,854.21 491.75,854.3 493,854.2 494.25,854.32" fill="none" stroke="#50a9f8" stroke-width="2.9" stroke-linejoin="round" stroke-linecap="butt"/>
<polyline points="55.5,886.54 56.75,886.78 58,886.52 59.25,886.25 60.5,886.27 61.75,886.47 63,887.38 64.25,888.11 65.5,887.52 66.75,887.37 68,888.1 69.25,888.4 70.5,888 71.75,887.6 73,888.07 74.25,888.18 75.5,887.43 76.75,886.91 78,886.49 79.25,886.11 80.5,886.31 81.75,886.65 83,886.83 84.25,887.26 85.5,887.39 86.75,886.44 88,885.6 89.25,886.31 90.5,887.32 91.75,887.14 93,886.58 94.25,886.63 95.5,886.76 96.75,887.34 98,888.02 99.25,887.75 100.5,887.99 101.75,888.29 103,887.78 104.25,887.65 105.5,887.87 106.75,887.48 108,887.04 109.25,887.94 110.5,888.35 111.75,887.83 113,888.3 114.25,888.46 115.5,888.7 116.75,889.95 118,889.67 119.25,888.71 120.5,889.26 121.75,889.94 123,890.11 124.25,889.91 125.5,889.68 126.75,889.86 128,889.65 129.25,888.6 130.5,888.02 131.75,887.93 133,887.56 134.25,887 135.5,886.95 136.75,887.57 138,888.29 139.25,887.67 140.5,886.06 141.75,885.72 143,885.6 144.25,884.55 145.5,884.44 146.75,885.88 148,886.98 149.25,887.09 150.5,886.83 151.75,887.08 153,888.22 154.25,888.47 155.5,887.6 156.75,887.02 158,887.05 159.25,886.67 160.5,885.94 161.75,885.95 163,886.47 164.25,887.29 165.5,888.24 166.75,888.47 168,888.38 169.25,888.86 170.5,889.45 171.75,890.25 173,890.78 174.25,890.82 175.5,890.93 176.75,890.87 178,890.15 179.25,889.98 180.5,890.86 181.75,891.19 183,892.13 184.25,892.48 185.5,891.02 186.75,890.17 188,890.53 189.25,890.44 190.5,889.81 191.75,889.42 193,889.46 194.25,888.7 195.5,887.53 196.75,887.2 198,886.74 199.25,886.54 200.5,886.67 201.75,886.92 203,887.4 204.25,887.34 205.5,886.67 206.75,885.81 208,884.64 209.25,883.07 210.5,882.41 211.75,881.44 213,879.72 214.25,878.33 215.5,876.61 216.75,875.55 218,875.83 219.25,877.59 220.5,879.4 221.75,881.31 223,884.45 224.25,886.44 225.5,886.66 226.75,886.98 228,887.4 229.25,887.42 230.5,887.68 231.75,887.14 233,886.34 234.25,885.69 235.5,884.97 236.75,885.18 238,885.91 239.25,886.01 240.5,885.85 241.75,885.33 243,884.71 244.25,884.61 245.5,884.75 246.75,884.96 248,885 249.25,884.72 250.5,884.39 251.75,885.56 253,886.94 254.25,886.56 255.5,886.44 256.75,887.87 258,888.43 259.25,887.5 260.5,887.34 261.75,887.17 263,887.14 264.25,888.08 265.5,888.39 266.75,887.77 268,887.46 269.25,887.42 270.5,887.07 271.75,886.47 273,885.72 274.25,886.29 275.5,887.53 276.75,887.7 278,887.81 279.25,888 280.5,887.91 281.75,887.89 283,888.08 284.25,887.71 285.5,887.38 286.75,887.68 288,888.08 289.25,888.48 290.5,888.31 291.75,887.84 293,888.21 294.25,889.82 295.5,890.64 296.75,890.2 298,890.36 299.25,890.73 300.5,890.87 301.75,890.52 303,890.31 304.25,890.25 305.5,889.8 306.75,889.98 308,890.34 309.25,890.56 310.5,890.93 311.75,889.62 313,887.1 314.25,886.02 315.5,886.01 316.75,885.06 318,884.36 319.25,883.78 320.5,881.65 321.75,880.5 323,880.82 324.25,880.38 325.5,879.28 326.75,877.88 328,876.07 329.25,874.74 330.5,874.14 331.75,872.96 333,872.13 334.25,872.29 335.5,871.91 336.75,870.6 338,868.85 339.25,866.99 340.5,864.94 341.75,862.96 343,861.06 344.25,859.47 345.5,859.58 346.75,861.9 348,864.84 349.25,867.49 350.5,871.12 351.75,874.49 353,876.59 354.25,878.39 355.5,880.91 356.75,883.58 358,885.24 359.25,886.66 360.5,888.65 361.75,890.91 363,892.02 364.25,893.48 365.5,896.16 366.75,898.15 368,900 369.25,903.14 370.5,905.09 371.75,903.63 373,901.45 374.25,900.76 375.5,900.86 376.75,900.08 378,898.98 379.25,898.48 380.5,898.24 381.75,898.08 383,897.4 384.25,896.01 385.5,894.87 386.75,894.41 388,894.1 389.25,893.58 390.5,892.63 391.75,892.34 393,892.18 394.25,891.61 395.5,892.31 396.75,891.9 398,890.48 399.25,890.01 400.5,888.59 401.75,887.56 403,888.34 404.25,889.12 405.5,888.82 406.75,888.47 408,888.7 409.25,889.48 410.5,890.15 411.75,890.02 413,890.09 414.25,890.36 415.5,889.69 416.75,888.67 418,888.82 419.25,890.2 420.5,890.78 421.75,890.44 423,890.05 424.25,889.43 425.5,888.95 426.75,888.47 428,888.2 429.25,888.58 430.5,889.01 431.75,889.05 433,888.6 434.25,888.45 435.5,889.3 436.75,890.67 438,890.91 439.25,890.15 440.5,889.49 441.75,889.18 443,889.82 444.25,890.27 445.5,889.8 446.75,889.37 448,889.37 449.25,888.9 450.5,888.23 451.75,888.19 453,888.6 454.25,889.12 455.5,889.22 456.75,889.98 458,890.56 459.25,889.81 460.5,889.48 461.75,890.24 463,890.35 464.25,890.43 465.5,891.77 466.75,892.75 468,892.15 469.25,891.16 470.5,890.99 471.75,890.99 473,890.41 474.25,890.66 475.5,891.39 476.75,890.93 478,891.15 479.25,891.18 480.5,890.17 481.75,889.93 483,889.76 484.25,889.33 485.5,888.78 486.75,889.19 488,890.81 489.25,892.51 490.5,892.62 491.75,891.18 493,890.6 494.25,890.8" fill="none" stroke="#52d9ca" stroke-width="2.9" stroke-linejoin="round" stroke-linecap="butt"/>
<polyline points="55.5,907.99 56.75,907.94 58,908.54 59.25,908.69 60.5,908.57 61.75,909.11 63,909.9 64.25,910.97 65.5,911.86 66.75,912.08 68,911.7 69.25,911.39 70.5,911.98 71.75,911.87 73,911.01 74.25,910.79 75.5,911.07 76.75,910.93 78,910 79.25,909.79 80.5,910.27 81.75,909.78 83,909.15 84.25,909.58 85.5,909.8 86.75,909.17 88,909.02 89.25,908.38 90.5,907.99 91.75,908.4 93,907.26 94.25,906.39 95.5,907.79 96.75,908.82 98,908.76 99.25,909.46 100.5,909.4 101.75,908.11 103,907.43 104.25,909.08 105.5,910.96 106.75,910.93 108,910.61 109.25,910.35 110.5,910.64 111.75,910.74 113,910.75 114.25,909.95 115.5,908.5 116.75,908.49 118,908.91 119.25,909.51 120.5,909.65 121.75,910.79 123,912.69 124.25,912.75 125.5,913.19 126.75,914.13 128,913.5 129.25,912.62 130.5,912.34 131.75,912.61 133,913.2 134.25,913.67 135.5,914.01 136.75,913.52 138,913 139.25,913.27 140.5,913.75 141.75,914.15 143,914.15 144.25,913.59 145.5,914.01 146.75,915.08 148,914.97 149.25,915.57 150.5,916.4 151.75,916.01 153,914.83 154.25,914.79 155.5,916.3 156.75,916.54 158,915.76 159.25,915.49 160.5,915.79 161.75,915.38 163,914.24 164.25,913.73 165.5,913.76 166.75,913.52 168,912.81 169.25,912.11 170.5,912.29 171.75,912.31 173,911.76 174.25,912 175.5,912.13 176.75,911.69 178,911.25 179.25,911.65 180.5,911.85 181.75,911.25 183,911.24 184.25,911.43 185.5,911.37 186.75,910.78 188,910.71 189.25,911.39 190.5,910.4 191.75,908.65 193,908.35 194.25,908.84 195.5,908.47 196.75,907.69 198,907.34 199.25,906.95 200.5,907.24 201.75,908.74 203,909.27 204.25,908.41 205.5,908.17 206.75,907.95 208,906.87 209.25,906.22 210.5,905.79 211.75,904.63 213,902.38 214.25,899.91 215.5,897.6 216.75,895.97 218,896.14 219.25,897.26 220.5,899.28 221.75,902.14 223,904.99 224.25,907.05 225.5,908.39 226.75,909.83 228,910.73 229.25,910.55 230.5,910.77 231.75,911.85 233,911.61 234.25,910.53 235.5,911.01 236.75,912.03 238,912.09 239.25,912.14 240.5,912.75 241.75,914.04 243,914.93 244.25,915.33 245.5,915.63 246.75,915.05 248,915.34 249.25,915.85 250.5,915.26 251.75,915.32 253,915.63 254.25,916.99 255.5,918.51 256.75,918.12 258,918.37 259.25,918.96 260.5,918.13 261.75,917.5 263,917.3 264.25,917.1 265.5,918.14 266.75,918.88 268,918.32 269.25,917.6 270.5,917.43 271.75,916.62 273,915.34 274.25,916.6 275.5,917.62 276.75,917.65 278,918.79 279.25,919.72 280.5,920.15 281.75,920.79 283,921.44 284.25,921.41 285.5,921.08 286.75,921.47 288,922.07 289.25,921.63 290.5,921.42 291.75,921.88 293,922.2 294.25,922.12 295.5,921.84 296.75,920.95 298,919.4 299.25,918.58 300.5,918.74 301.75,918.95 303,918.91 304.25,919.33 305.5,919.17 306.75,918.16 308,917.56 309.25,916.45 310.5,915.02 311.75,915.04 313,915.07 314.25,914.98 315.5,916.02 316.75,916.21 318,914.71 319.25,913.57 320.5,913.09 321.75,911.3 323,909.06 324.25,907.44 325.5,906.19 326.75,904.48 328,901.83 329.25,899.44 330.5,898.94 331.75,899.76 333,899.97 334.25,899.82 335.5,898.56 336.75,896.83 338,896.55 339.25,895.58 340.5,892.91 341.75,890.61 343,888.43 344.25,885.26 345.5,884.73 346.75,887.29 348,889.86 349.25,892.86 350.5,897.07 351.75,902.26 353,906.6 354.25,909.46 355.5,912.08 356.75,914.28 358,915.47 359.25,917.21 360.5,919.64 361.75,921.12 363,923.37 364.25,927.46 365.5,931.19 366.75,933.79 368,935.59 369.25,936.7 370.5,937.47 371.75,937.15 373,935.39 374.25,933.47 375.5,932.21 376.75,931.06 378,930.26 379.25,930.18 380.5,929.68 381.75,928.19 383,926.58 384.25,924.99 385.5,923.53 386.75,922.12 388,921.2 389.25,919.99 390.5,918.47 391.75,917.45 393,916.47 394.25,916.18 395.5,915.92 396.75,915.68 398,916.11 399.25,916.74 400.5,917.14 401.75,916.73 403,915.94 404.25,915.95 405.5,915.93 406.75,914.57 408,914.09 409.25,915.16 410.5,915.67 411.75,915.05 413,915.23 414.25,915.41 415.5,914.39 416.75,914.91 418,915.84 419.25,915.37 420.5,915.44 421.75,916.49 423,917.27 424.25,917.66 425.5,916.98 426.75,915.9 428,916.28 429.25,916.45 430.5,916.42 431.75,916.47 433,915.46 434.25,915.18 435.5,916.24 436.75,916.59 438,915.88 439.25,915.19 440.5,914.66 441.75,913.98 443,913.68 444.25,913.26 445.5,913.16 446.75,913.96 448,913.98 449.25,914.12 450.5,914.62 451.75,914.96 453,915.19 454.25,915.6 455.5,916.2 456.75,917.25 458,918.22 459.25,917.39 460.5,916.33 461.75,915.89 463,916 464.25,916.39 465.5,917.06 466.75,917.64 468,916.89 469.25,916.4 470.5,916.75 471.75,916.94 473,917.83 474.25,919.13 475.5,919.49 476.75,919 478,918.33 479.25,917.15 480.5,916.17 481.75,916.12 483,916.57 484.25,917.88 485.5,918.79 486.75,918.69 488,919.07 489.25,920.66 490.5,921.21 491.75,919.99 493,919.66 494.25,919.66" fill="none" stroke="#5ae9aa" stroke-width="2.9" stroke-linejoin="round" stroke-linecap="butt"/>
<polyline points="55.5,954.8 56.75,954.77 58,954.75 59.25,955.8 60.5,956.35 61.75,955.81 63,955.78 64.25,955.64 65.5,954.94 66.75,953.96 68,953.99 69.25,955.11 70.5,955.86 71.75,956.42 73,955.95 74.25,954.76 75.5,954.58 76.75,954.89 78,954.9 79.25,955 80.5,954.62 81.75,953.87 83,954.18 84.25,955.26 85.5,954.86 86.75,954.46 88,954.81 89.25,954.87 90.5,955 91.75,955.08 93,955.27 94.25,954.42 95.5,953.66 96.75,953.73 98,954.02 99.25,954.64 100.5,954.89 101.75,955.13 103,955.12 104.25,955.07 105.5,955.71 106.75,956.3 108,955.91 109.25,955.4 110.5,955.6 111.75,956.1 113,957.08 114.25,957.86 115.5,957.11 116.75,956.21 118,956.73 119.25,956.95 120.5,956.15 121.75,955.18 123,954.88 124.25,955.78 125.5,956.31 126.75,955.98 128,955.94 129.25,956.36 130.5,956.97 131.75,956.27 133,955.87 134.25,956.51 135.5,955.67 136.75,954.01 138,953.29 139.25,953.96 140.5,954.82 141.75,955.39 143,955.66 144.25,955.46 145.5,954.91 146.75,954.68 148,955.1 149.25,955.78 150.5,955.8 151.75,955.18 153,955.72 154.25,956.56 155.5,956.18 156.75,955.37 158,955.56 159.25,955.55 160.5,955.59 161.75,956.37 163,955.98 164.25,956.27 165.5,957.4 166.75,957.86 168,958.51 169.25,959.16 170.5,959.32 171.75,958.86 173,958.25 174.25,957.12 175.5,956.95 176.75,957.63 178,957.65 179.25,957.85 180.5,957.43 181.75,956.68 183,956.76 184.25,956.94 185.5,957.16 186.75,957.8 188,957.66 189.25,956.87 190.5,956.61 191.75,957.01 193,957.85 194.25,958.8 195.5,958.2 196.75,957.48 198,957.54 199.25,956.75 200.5,956.33 201.75,955.4 203,955.1 204.25,955.2 205.5,953.82 206.75,953.41 208,953.23 209.25,951.64 210.5,950.93 211.75,950.81 213,948.85 214.25,946.23 215.5,943.67 216.75,941.11 218,940.46 219.25,941.89 220.5,944.59 221.75,947.97 223,950.33 224.25,951.95 225.5,953.15 226.75,953.53 228,953.8 229.25,954.53 230.5,956.07 231.75,956.85 233,955.68 234.25,954.5 235.5,955.12 236.75,956.36 238,956.73 239.25,957.05 240.5,957.74 241.75,957.5 243,956.86 244.25,957.29 245.5,957.81 246.75,958.76 248,960.25 249.25,960.97 250.5,960.52 251.75,959.62 253,959.75 254.25,960.01 255.5,959.78 256.75,960.22 258,961.14 259.25,961.53 260.5,961.45 261.75,962.14 263,962.98 264.25,962.38 265.5,961.76 266.75,962.59 268,963.25 269.25,963.23 270.5,963.08 271.75,963.34 273,964.48 274.25,964.61 275.5,963.91 276.75,963.93 278,963.66 279.25,962.32 280.5,960.69 281.75,961.33 283,963.07 284.25,962.67 285.5,962.24 286.75,962.48 288,962.37 289.25,962.08 290.5,961.4 291.75,960.52 293,959.87 294.25,960.37 295.5,960.7 296.75,960.18 298,959.71 299.25,959.49 300.5,959.48 301.75,958.7 303,957.69 304.25,957.18 305.5,956.31 306.75,955.78 308,955.55 309.25,955.03 310.5,954.35 311.75,953.61 313,952.44 314.25,951.75 315.5,951.93 316.75,951.47 318,950.68 319.25,949.49 320.5,948.22 321.75,947.5 323,946.72 324.25,946.29 325.5,946.1 326.75,945.52 328,945 329.25,943.81 330.5,943.04 331.75,943.44 333,943.48 334.25,943.54 335.5,942.82 336.75,941.64 338,941.33 339.25,940.28 340.5,938.3 341.75,936.84 343,934.62 344.25,932.07 345.5,931.94 346.75,934.51 348,938.36 349.25,942 350.5,944.79 351.75,947.83 353,951.21 354.25,953.99 355.5,956.12 356.75,958.33 358,960.79 359.25,962.76 360.5,964.08 361.75,965.65 363,968.65 364.25,972.19 365.5,975.61 366.75,977.89 368,978.81 369.25,978.99 370.5,977.46 371.75,975.79 373,974.85 374.25,974.69 375.5,975.11 376.75,974.4 378,973.02 379.25,971.91 380.5,971.37 381.75,970.5 383,968.93 384.25,967.07 385.5,965.18 386.75,964.28 388,963.44 389.25,962.02 390.5,960.92 391.75,960.3 393,959.89 394.25,959.48 395.5,958.46 396.75,958.15 398,958.63 399.25,957.99 400.5,957.04 401.75,956.52 403,956.44 404.25,956.54 405.5,956.9 406.75,957.43 408,956.75 409.25,956.89 410.5,958.37 411.75,958.27 413,957.18 414.25,958.14 415.5,959.43 416.75,958.54 418,957.88 419.25,957 420.5,955.76 421.75,956.04 423,957.23 424.25,957.64 425.5,956.87 426.75,956.56 428,956.79 429.25,956.83 430.5,956.46 431.75,956.23 433,956.73 434.25,957.55 435.5,957.33 436.75,957.01 438,957.81 439.25,958.41 440.5,957.93 441.75,957.62 443,957.93 444.25,957.51 445.5,957.53 446.75,958.41 448,958.77 449.25,958.43 450.5,958.08 451.75,957.95 453,958.09 454.25,959.23 455.5,960.64 456.75,961.63 458,961.59 459.25,962.14 460.5,962.71 461.75,961.21 463,960.37 464.25,959.82 465.5,959.15 466.75,959.8 468,959.56 469.25,958.04 470.5,957.85 471.75,959.04 473,958.8 474.25,957.66 475.5,957.73 476.75,957.57 478,956.9 479.25,957.35 480.5,958.02 481.75,958.49 483,958.68 484.25,958.54 485.5,958.54 486.75,958.8 488,959.35 489.25,959.85 490.5,959.45 491.75,958.65 493,958.48 494.25,959.2" fill="none" stroke="#40f020" stroke-width="2.9" stroke-linejoin="round" stroke-linecap="butt"/>
<polyline points="55.5,981.79 56.75,982.2 58,983.08 59.25,983.99 60.5,984.52 61.75,985.18 63,986.08 64.25,986.49 65.5,986.27 66.75,985.76 68,985.52 69.25,985.77 70.5,986.34 71.75,986.89 73,986.88 74.25,987.43 75.5,988.09 76.75,988.2 78,989.22 79.25,989.78 80.5,989.18 81.75,988.9 83,989.6 84.25,990.43 85.5,989.96 86.75,989.04 88,989.7 89.25,990.87 90.5,991.04 91.75,990.42 93,989.17 94.25,988.62 95.5,989.31 96.75,989.86 98,990.42 99.25,991.04 100.5,990.76 101.75,990.19 103,989.84 104.25,988.98 105.5,988.13 106.75,988.1 108,988.59 109.25,989.19 110.5,989.61 111.75,990.61 113,990.66 114.25,990.64 115.5,991.73 116.75,991.22 118,990.56 119.25,990.73 120.5,990.43 121.75,990.12 123,989.54 124.25,988.48 125.5,988.5 126.75,989.55 128,989.99 129.25,989.6 130.5,989.15 131.75,989.21 133,989.92 134.25,989.95 135.5,988.62 136.75,988.05 138,988.82 139.25,989.31 140.5,989.59 141.75,990.57 143,990.9 144.25,990.36 145.5,990.51 146.75,990.66 148,989.86 149.25,989.2 150.5,989.38 151.75,989.57 153,989.73 154.25,989.84 155.5,990.12 156.75,990.58 158,990.38 159.25,989.88 160.5,990.43 161.75,991.81 163,991.49 164.25,989.86 165.5,989.83 166.75,990.56 168,990.47 169.25,990.53 170.5,990.77 171.75,990.28 173,989.53 174.25,989.04 175.5,988.97 176.75,989.48 178,989.91 179.25,989.17 180.5,988.15 181.75,987.58 183,986.32 184.25,985.08 185.5,985.32 186.75,985.48 188,984.89 189.25,984.56 190.5,984.01 191.75,982.96 193,982.84 194.25,983.55 195.5,983.36 196.75,982.46 198,981.18 199.25,980.78 200.5,981.4 201.75,981.66 203,981.85 204.25,981.87 205.5,981.51 206.75,980.1 208,979.15 209.25,979.54 210.5,979.05 211.75,978.11 213,977.03 214.25,974.14 215.5,971.57 216.75,970.16 218,969.61 219.25,970.34 220.5,972.23 221.75,974.88 223,977.12 224.25,978.93 225.5,981.11 226.75,982.88 228,983.71 229.25,984.55 230.5,985.3 231.75,986.55 233,987.47 234.25,987.29 235.5,987.48 236.75,988.73 238,990.3 239.25,991.27 240.5,991.8 241.75,991.85 243,991.25 244.25,991.19 245.5,991.7 246.75,991.63 248,991.69 249.25,992.44 250.5,993.06 251.75,992.83 253,992.66 254.25,992.32 255.5,991.29 256.75,990.59 258,991.47 259.25,992.95 260.5,993.17 261.75,993.84 263,995.68 264.25,997.38 265.5,997.41 266.75,996.1 268,995.37 269.25,995.99 270.5,996.91 271.75,996.05 273,995.34 274.25,996.16 275.5,996.77 276.75,996.56 278,995.87 279.25,995.78 280.5,995.92 281.75,995.08 283,993.97 284.25,993.2 285.5,992.53 286.75,992.4 288,992.64 289.25,992.29 290.5,991.1 291.75,990.71 293,991.61 294.25,992.11 295.5,991.47 296.75,990.38 298,989.84 299.25,989.26 300.5,988.5 301.75,987.58 303,986.1 304.25,984.6 305.5,984 306.75,984.15 308,983.19 309.25,982.42 310.5,981.83 311.75,980.67 313,980.33 314.25,980.19 315.5,979.35 316.75,978.5 318,977.89 319.25,977.23 320.5,977.08 321.75,977.15 323,977.18 324.25,976.98 325.5,976.15 326.75,976.08 328,976.79 329.25,977.34 330.5,977.58 331.75,977.6 333,977.65 334.25,977.24 335.5,976.17 336.75,974.52 338,973.21 339.25,972.28 340.5,970.48 341.75,968.03 343,965.66 344.25,963.61 345.5,963.47 346.75,966.75 348,971.15 349.25,974.26 350.5,977.21 351.75,980.97 353,984.08 354.25,986.45 355.5,989.39 356.75,992.39 358,994.75 359.25,996.8 360.5,999.64 361.75,1002.97 363,1006.53 364.25,1011.22 365.5,1015.48 366.75,1018.02 368,1019.86 369.25,1020.48 370.5,1018.94 371.75,1016.42 373,1014.5 374.25,1013.95 375.5,1013.17 376.75,1012.41 378,1012.27 379.25,1011.03 380.5,1009.25 381.75,1008.36 383,1007.57 384.25,1006.39 385.5,1004.99 386.75,1003.32 388,1001.35 389.25,999.78 390.5,998.87 391.75,998.22 393,998.12 394.25,996.93 395.5,995.14 396.75,993.64 398,992.11 399.25,990.86 400.5,990.02 401.75,990.71 403,991.66 404.25,992.19 405.5,992.84 406.75,994.35 408,995.21 409.25,993.61 410.5,992.34 411.75,992.72 413,993.52 414.25,993.73 415.5,992.88 416.75,992.8 418,993.93 419.25,994.43 420.5,994.11 421.75,994.28 423,995.39 424.25,995.51 425.5,994.05 426.75,993.02 428,993.24 429.25,993.24 430.5,992.85 431.75,993.33 433,994.32 434.25,994.63 435.5,993.82 436.75,993.28 438,992.95 439.25,992.55 440.5,993.22 441.75,994.54 443,995.99 444.25,997.37 445.5,997.47 446.75,996.73 448,996.1 449.25,994.8 450.5,993.9 451.75,993.73 453,994.45 454.25,995.29 455.5,994.41 456.75,993.66 458,994.19 459.25,994.77 460.5,994.9 461.75,994.66 463,993.8 464.25,993.75 465.5,994.49 466.75,995.43 468,995.66 469.25,994.87 470.5,994.8 471.75,994.93 473,994.62 474.25,993.72 475.5,993.5 476.75,994.43 478,993.86 479.25,992.91 480.5,993.18 481.75,993.08 483,993.01 484.25,992.63 485.5,992.29 486.75,992.58 488,992.68 489.25,992.84 490.5,992.5 491.75,992.29 493,992.85 494.25,993.55" fill="none" stroke="#a6f042" stroke-width="2.9" stroke-linejoin="round" stroke-linecap="butt"/>
<polyline points="55.5,1034.89 56.75,1035.51 58,1035.1 59.25,1033.84 60.5,1033.09 61.75,1033.04 63,1033.11 64.25,1033.88 65.5,1033.94 66.75,1034.18 68,1035.47 69.25,1036.23 70.5,1036.44 71.75,1036.31 73,1036.36 74.25,1037.09 75.5,1037.43 76.75,1037.1 78,1037.24 79.25,1037.51 80.5,1036.83 81.75,1036.76 83,1037.6 84.25,1037.35 85.5,1036.8 86.75,1037.24 88,1037.59 89.25,1037.2 90.5,1037.29 91.75,1038.41 93,1039.08 94.25,1038.41 95.5,1038.01 96.75,1038.54 98,1038.68 99.25,1038.32 100.5,1038.58 101.75,1038.26 103,1036.97 104.25,1036.08 105.5,1036.07 106.75,1036.12 108,1035.39 109.25,1034.18 110.5,1033.57 111.75,1033.16 113,1032.91 114.25,1033.67 115.5,1033.88 116.75,1034.36 118,1035.57 119.25,1036.31 120.5,1036.46 121.75,1036.93 123,1037 124.25,1036.26 125.5,1036.64 126.75,1036.39 128,1035.49 129.25,1035.76 130.5,1036.24 131.75,1036.48 133,1036.34 134.25,1036.5 135.5,1036.63 136.75,1036.61 138,1037.08 139.25,1037.08 140.5,1036.71 141.75,1036.55 143,1036.86 144.25,1036.61 145.5,1036.02 146.75,1036.51 148,1037.35 149.25,1036.89 150.5,1035.82 151.75,1036.22 153,1036.6 154.25,1035.54 155.5,1035.17 156.75,1035.17 158,1034.54 159.25,1034.75 160.5,1034.49 161.75,1033.64 163,1033.51 164.25,1034 165.5,1035.23 166.75,1036.8 168,1036.49 169.25,1034.29 170.5,1033.79 171.75,1034.68 173,1034.68 174.25,1033.28 175.5,1031.86 176.75,1031.63 178,1031.22 179.25,1030.33 180.5,1029.73 181.75,1029.67 183,1029.27 184.25,1028.25 185.5,1027.02 186.75,1025.89 188,1025.9 189.25,1026.12 190.5,1024.85 191.75,1023.9 193,1024.44 194.25,1024.84 195.5,1024.61 196.75,1023.47 198,1022.11 199.25,1022.35 200.5,1024.34 201.75,1025.21 203,1023.93 204.25,1023.74 205.5,1024.44 206.75,1024.23 208,1024.08 209.25,1024.11 210.5,1024.09 211.75,1023.4 213,1021.53 214.25,1019.17 215.5,1016.43 216.75,1014.04 218,1013.28 219.25,1016.14 220.5,1020.95 221.75,1024.58 223,1027.73 224.25,1030.52 225.5,1032.49 226.75,1033.73 228,1034.3 229.25,1034.06 230.5,1033.75 231.75,1033.89 233,1034 234.25,1033.95 235.5,1034.27 236.75,1035 238,1035.29 239.25,1034.67 240.5,1034.17 241.75,1034.96 243,1036.02 244.25,1036.92 245.5,1036.95 246.75,1036.5 248,1037.41 249.25,1039.2 250.5,1040.21 251.75,1040.53 253,1040.23 254.25,1039.14 255.5,1039.4 256.75,1040.37 258,1041.07 259.25,1042.16 260.5,1043.04 261.75,1043.32 263,1043.33 264.25,1043.74 265.5,1043.99 266.75,1043.45 268,1042.71 269.25,1042.11 270.5,1041.19 271.75,1039.74 273,1038.38 274.25,1036.96 275.5,1035.73 276.75,1034.76 278,1034.04 279.25,1033.48 280.5,1032.84 281.75,1031.86 283,1031.09 284.25,1031.16 285.5,1030.96 286.75,1031.09 288,1032.05 289.25,1033.39 290.5,1034.81 291.75,1035.72 293,1036.57 294.25,1038.53 295.5,1040.8 296.75,1041.43 298,1041.69 299.25,1042.47 300.5,1043.63 301.75,1044.67 303,1044.49 304.25,1044.65 305.5,1044.3 306.75,1042.81 308,1042.36 309.25,1041.83 310.5,1040.18 311.75,1038.15 313,1036.3 314.25,1034.16 315.5,1032.05 316.75,1030.34 318,1028.6 319.25,1027.42 320.5,1026.77 321.75,1025.62 323,1024.74 324.25,1025.39 325.5,1026.07 326.75,1025.31 328,1024.39 329.25,1024.24 330.5,1023.98 331.75,1023.9 333,1023.41 334.25,1022.98 335.5,1023.52 336.75,1023.63 338,1023.15 339.25,1022.44 340.5,1021.77 341.75,1020.81 343,1020.49 344.25,1019.59 345.5,1018.56 346.75,1018.79 348,1019.19 349.25,1021.48 350.5,1025.46 351.75,1028.97 353,1031.48 354.25,1034.26 355.5,1036.57 356.75,1037.21 358,1038.42 359.25,1040.74 360.5,1043.05 361.75,1045.62 363,1049.2 364.25,1052.61 365.5,1055.08 366.75,1057.88 368,1059.94 369.25,1060.17 370.5,1058.99 371.75,1056.83 373,1055.73 374.25,1054.99 375.5,1053 376.75,1051.14 378,1050.73 379.25,1050.61 380.5,1049.27 381.75,1048.22 383,1047.38 384.25,1045.78 385.5,1044.7 386.75,1043.51 388,1042.4 389.25,1042.39 390.5,1041.43 391.75,1040.24 393,1040.14 394.25,1038.89 395.5,1037.46 396.75,1037.52 398,1038.13 399.25,1038.1 400.5,1037.58 401.75,1037.44 403,1037.42 404.25,1037.53 405.5,1037.83 406.75,1037.66 408,1037.5 409.25,1037.17 410.5,1036.35 411.75,1036.73 413,1037.8 414.25,1037.54 415.5,1036.97 416.75,1036.7 418,1036.4 419.25,1036.11 420.5,1035.84 421.75,1035.35 423,1035.18 424.25,1036.05 425.5,1035.72 426.75,1035.16 428,1035.85 429.25,1036.56 430.5,1036.67 431.75,1036.44 433,1037.88 434.25,1038.73 435.5,1037.16 436.75,1036.38 438,1036.55 439.25,1036.01 440.5,1035.1 441.75,1035.33 443,1036.31 444.25,1036.95 445.5,1037.06 446.75,1036.62 448,1037.48 449.25,1038.49 450.5,1037.26 451.75,1036.53 453,1037.22 454.25,1037.78 455.5,1038.12 456.75,1037.72 458,1037.29 459.25,1038.38 460.5,1039.75 461.75,1038.68 463,1036.79 464.25,1037.11 465.5,1038.09 466.75,1038.71 468,1039.5 469.25,1040.08 470.5,1039.95 471.75,1039.26 473,1038.6 474.25,1038.21 475.5,1038.51 476.75,1038.88 478,1038.35 479.25,1037.98 480.5,1038.28 481.75,1037.94 483,1037.14 484.25,1037.06 485.5,1037.32 486.75,1037.05 488,1037.24 489.25,1039.11 490.5,1040.12 491.75,1039.8 493,1040.05 494.25,1039.79" fill="none" stroke="#d9e042" stroke-width="2.9" stroke-linejoin="round" stroke-linecap="butt"/>
<polyline points="55.5,1068.87 56.75,1069.25 58,1069.14 59.25,1069.03 60.5,1068.36 61.75,1066.62 63,1065.45 64.25,1066.53 65.5,1068.39 66.75,1070.09 68,1070.84 69.25,1070.93 70.5,1071.05 71.75,1071.26 73,1072.12 74.25,1073.22 75.5,1073.51 76.75,1072.89 78,1072.42 79.25,1072.87 80.5,1073.11 81.75,1072.72 83,1072.72 84.25,1073.07 85.5,1073.18 86.75,1072.99 88,1072.78 89.25,1072.8 90.5,1072.58 91.75,1072.03 93,1072.08 94.25,1071.99 95.5,1071.34 96.75,1071.28 98,1071.81 99.25,1072.32 100.5,1072.38 101.75,1072.43 103,1073.36 104.25,1074.43 105.5,1073.92 106.75,1073.5 108,1074.01 109.25,1073.05 110.5,1072.2 111.75,1071.14 113,1068.99 114.25,1067.18 115.5,1067.04 116.75,1068.7 118,1069.5 119.25,1070.92 120.5,1072.05 121.75,1072.81 123,1074.61 124.25,1075.09 125.5,1074.69 126.75,1074.36 128,1074.54 129.25,1074.4 130.5,1073.17 131.75,1072.25 133,1071.77 134.25,1070.45 135.5,1069.43 136.75,1069.76 138,1070.52 139.25,1070.26 140.5,1068.76 141.75,1068.3 143,1069.17 144.25,1069.73 145.5,1070.01 146.75,1071.38 148,1072.32 149.25,1072.63 150.5,1072.62 151.75,1072.23 153,1072.7 154.25,1073.49 155.5,1074 156.75,1073.86 158,1073.57 159.25,1073.36 160.5,1072.27 161.75,1071.26 163,1071.8 164.25,1073.27 165.5,1073.33 166.75,1073.13 168,1073.9 169.25,1073.43 170.5,1072.82 171.75,1072.98 173,1072.31 174.25,1071.38 175.5,1071.49 176.75,1071.02 178,1069.91 179.25,1068.91 180.5,1067.9 181.75,1067.95 183,1068.12 184.25,1067.63 185.5,1067.37 186.75,1067.41 188,1067.69 189.25,1067.84 190.5,1067.21 191.75,1066.45 193,1066.92 194.25,1066.95 195.5,1065.73 196.75,1064.44 198,1063.98 199.25,1064.97 200.5,1065.71 201.75,1065.5 203,1064.51 204.25,1064.07 205.5,1064.98 206.75,1064.85 208,1063.31 209.25,1062.64 210.5,1062.93 211.75,1063.21 213,1062.72 214.25,1059.98 215.5,1057.41 216.75,1056 218,1055.48 219.25,1057.89 220.5,1061.57 221.75,1063.61 223,1064.66 224.25,1066.43 225.5,1068.86 226.75,1070.53 228,1071.01 229.25,1071.37 230.5,1072.21 231.75,1072.63 233,1072.8 234.25,1072.76 235.5,1071.97 236.75,1071.78 238,1072.58 239.25,1072.47 240.5,1072.09 241.75,1072.72 243,1073.22 244.25,1073.27 245.5,1073.4 246.75,1073.85 248,1073.52 249.25,1072.92 250.5,1073.77 251.75,1074.32 253,1073.66 254.25,1073.54 255.5,1073.52 256.75,1073.03 258,1073.2 259.25,1073.92 260.5,1074.38 261.75,1073.82 263,1072.99 264.25,1073.33 265.5,1074.28 266.75,1074.56 268,1074.38 269.25,1074.24 270.5,1074.13 271.75,1073.26 273,1072.13 274.25,1072.11 275.5,1071.57 276.75,1070.69 278,1072.08 279.25,1073.98 280.5,1072.97 281.75,1071.93 283,1073.56 284.25,1075.19 285.5,1075.22 286.75,1074.99 288,1074.96 289.25,1075.3 290.5,1076.1 291.75,1075.94 293,1075.53 294.25,1075.94 295.5,1075.96 296.75,1075.62 298,1075.8 299.25,1075.94 300.5,1076.21 301.75,1076.96 303,1076.83 304.25,1075.35 305.5,1074.23 306.75,1074.66 308,1075.33 309.25,1074.59 310.5,1074.06 311.75,1074.38 313,1074.76 314.25,1074.69 315.5,1073.99 316.75,1074.01 318,1074.45 319.25,1074.49 320.5,1074.25 321.75,1074.26 323,1074.93 324.25,1075.35 325.5,1074.54 326.75,1073.77 328,1073.92 329.25,1074.11 330.5,1074.59 331.75,1074.78 333,1073.7 334.25,1072.45 335.5,1071.61 336.75,1070.98 338,1070.85 339.25,1070.73 340.5,1069.08 341.75,1067.35 343,1066.11 344.25,1064.27 345.5,1064.06 346.75,1064.87 348,1065.12 349.25,1066.29 350.5,1067.91 351.75,1069.98 353,1071.27 354.25,1071.68 355.5,1073.47 356.75,1075.29 358,1075.64 359.25,1076.17 360.5,1077.79 361.75,1079.8 363,1082.36 364.25,1084.44 365.5,1084.82 366.75,1085.29 368,1086.81 369.25,1088.09 370.5,1089.17 371.75,1088.84 373,1087.57 374.25,1086.85 375.5,1085.71 376.75,1083.51 378,1081.66 379.25,1081.06 380.5,1080.89 381.75,1081.34 383,1081.53 384.25,1081.2 385.5,1079.65 386.75,1078.41 388,1079.26 389.25,1080.4 390.5,1080.04 391.75,1078.59 393,1078.19 394.25,1077.88 395.5,1076.82 396.75,1075.83 398,1076.67 399.25,1077.7 400.5,1076.2 401.75,1075.11 403,1075.55 404.25,1076.51 405.5,1077.45 406.75,1077.66 408,1077.26 409.25,1076.64 410.5,1076.08 411.75,1075.19 413,1075.41 414.25,1076.52 415.5,1076.41 416.75,1076.34 418,1076.24 419.25,1076.14 420.5,1075.99 421.75,1075.81 423,1076.63 424.25,1077.49 425.5,1077.81 426.75,1077.89 428,1077.87 429.25,1077.45 430.5,1076.35 431.75,1075.7 433,1076.95 434.25,1078.6 435.5,1078.84 436.75,1078.75 438,1078.43 439.25,1078.32 440.5,1079.05 441.75,1078.84 443,1078.35 444.25,1077.45 445.5,1075.58 446.75,1074.78 448,1075.12 449.25,1074.57 450.5,1074.73 451.75,1076.62 453,1077.38 454.25,1076.63 455.5,1075.85 456.75,1075.42 458,1075.28 459.25,1074.9 460.5,1074.64 461.75,1074.16 463,1073.53 464.25,1074.34 465.5,1075.08 466.75,1075.82 468,1076.01 469.25,1075.25 470.5,1075.59 471.75,1075.56 473,1074.56 474.25,1074.32 475.5,1073.95 476.75,1073.27 478,1073.94 479.25,1074.8 480.5,1074.28 481.75,1073.77 483,1074.89 484.25,1076.28 485.5,1076.1 486.75,1074.66 488,1073.78 489.25,1073.89 490.5,1073.74 491.75,1073.9 493,1074.72 494.25,1075.88" fill="none" stroke="#d8a93a" stroke-width="2.9" stroke-linejoin="round" stroke-linecap="butt"/>
<polyline points="55.5,1104.76 56.75,1103.67 58,1104.59 59.25,1105.88 60.5,1106.2 61.75,1106.53 63,1106.62 64.25,1106 65.5,1105.65 66.75,1106.37 68,1106.59 69.25,1106.25 70.5,1106.56 71.75,1107.2 73,1107.07 74.25,1106.27 75.5,1105.42 76.75,1105.6 78,1106.72 79.25,1107.29 80.5,1107.53 81.75,1108.09 83,1108.79 84.25,1108.76 85.5,1108.34 86.75,1107.73 88,1107.27 89.25,1107.05 90.5,1106.6 91.75,1107.17 93,1108 94.25,1107.53 95.5,1106.76 96.75,1106.48 98,1107.14 99.25,1108.2 100.5,1108.22 101.75,1107.48 103,1107.47 104.25,1108.11 105.5,1108.04 106.75,1108.27 108,1109.32 109.25,1110.16 110.5,1110.48 111.75,1110.5 113,1110.24 114.25,1110.04 115.5,1110.92 116.75,1111.93 118,1112 119.25,1111.94 120.5,1112.26 121.75,1112.88 123,1113.31 124.25,1112.67 125.5,1112.32 126.75,1111.85 128,1110.47 129.25,1109.26 130.5,1109 131.75,1109.25 133,1108.76 134.25,1108.74 135.5,1109.72 136.75,1110.21 138,1108.83 139.25,1106.86 140.5,1106.68 141.75,1106.93 143,1106.86 144.25,1107.87 145.5,1108.69 146.75,1108.05 148,1107.7 149.25,1108.45 150.5,1108.78 151.75,1108.58 153,1108.53 154.25,1108.75 155.5,1108.36 156.75,1106.93 158,1107.1 159.25,1108.74 160.5,1108.86 161.75,1107.56 163,1106.87 164.25,1106.73 165.5,1106.42 166.75,1107.09 168,1107.96 169.25,1107.37 170.5,1106.5 171.75,1105.52 173,1105.17 174.25,1104.51 175.5,1102.74 176.75,1102.24 178,1102.52 179.25,1102.97 180.5,1103.34 181.75,1102.19 183,1100.6 184.25,1100.63 185.5,1100.77 186.75,1101.69 188,1102.79 189.25,1102.35 190.5,1102.1 191.75,1102.4 193,1102.97 194.25,1103.1 195.5,1102.77 196.75,1103.04 198,1103.19 199.25,1102.47 200.5,1102 201.75,1102.83 203,1104 204.25,1103.7 205.5,1103.09 206.75,1103.59 208,1104.19 209.25,1103.01 210.5,1101.8 211.75,1100.7 213,1098.83 214.25,1097.92 215.5,1097.43 216.75,1096.7 218,1097.54 219.25,1100.81 220.5,1102.72 221.75,1102.58 223,1102.77 224.25,1103.49 225.5,1104.52 226.75,1104.86 228,1104.5 229.25,1104.63 230.5,1106.22 231.75,1107.56 233,1107.35 234.25,1107.43 235.5,1107.99 236.75,1108.76 238,1109.06 239.25,1108.47 240.5,1108.28 241.75,1108.82 243,1108.97 244.25,1109.17 245.5,1110 246.75,1110.24 248,1109.96 249.25,1111.36 250.5,1113.25 251.75,1112.42 253,1111.83 254.25,1111.99 255.5,1109.94 256.75,1107.59 258,1107.2 259.25,1108.27 260.5,1109.84 261.75,1109.89 263,1109.17 264.25,1109.55 265.5,1109.61 266.75,1110.03 268,1110.79 269.25,1110.85 270.5,1110.75 271.75,1110.43 273,1110.24 274.25,1111.35 275.5,1112.45 276.75,1113.39 278,1114.16 279.25,1113.77 280.5,1113.52 281.75,1113.66 283,1112.62 284.25,1110.92 285.5,1111.05 286.75,1112.92 288,1113.81 289.25,1112.44 290.5,1111.05 291.75,1110.69 293,1110.49 294.25,1108.57 295.5,1106.4 296.75,1107.09 298,1107.82 299.25,1106.41 300.5,1104.82 301.75,1104.95 303,1106.49 304.25,1107.81 305.5,1107.6 306.75,1106.75 308,1106.63 309.25,1107.34 310.5,1107.68 311.75,1107.97 313,1108.34 314.25,1109.41 315.5,1110.02 316.75,1109.39 318,1109.74 319.25,1110.36 320.5,1110.79 321.75,1110.91 323,1111.02 324.25,1111.18 325.5,1111.23 326.75,1111.16 328,1110.91 329.25,1111.55 330.5,1112 331.75,1112.62 333,1113.63 334.25,1113.41 335.5,1111.78 336.75,1108.95 338,1108 339.25,1107.86 340.5,1106.15 341.75,1106.07 343,1106.73 344.25,1105.75 345.5,1104.67 346.75,1105.48 348,1106.71 349.25,1107.09 350.5,1107.65 351.75,1107.93 353,1108.09 354.25,1108.79 355.5,1109.5 356.75,1110.43 358,1110.83 359.25,1110.85 360.5,1111.76 361.75,1112.49 363,1113.06 364.25,1114.23 365.5,1115.08 366.75,1116.17 368,1117.41 369.25,1118.45 370.5,1118.08 371.75,1116.14 373,1114.99 374.25,1114.34 375.5,1114.44 376.75,1114.87 378,1114.86 379.25,1115.66 380.5,1114.98 381.75,1113.67 383,1114.97 384.25,1117.59 385.5,1118.3 386.75,1116.08 388,1115.05 389.25,1114.91 390.5,1113.52 391.75,1113.03 393,1113.19 394.25,1112.41 395.5,1111.47 396.75,1111.68 398,1112.09 399.25,1110.96 400.5,1110.07 401.75,1110.85 403,1111.44 404.25,1111.25 405.5,1111.34 406.75,1111.93 408,1111.73 409.25,1111.82 410.5,1112.85 411.75,1113.75 413,1113.71 414.25,1113.39 415.5,1114.35 416.75,1115.26 418,1115.42 419.25,1114.77 420.5,1114.27 421.75,1114.31 423,1114.57 424.25,1115.06 425.5,1114.43 426.75,1113.98 428,1113.84 429.25,1113.56 430.5,1114.24 431.75,1114.7 433,1114.97 434.25,1115.29 435.5,1114.67 436.75,1113.88 438,1113.94 439.25,1114.38 440.5,1114.99 441.75,1115.17 443,1115.09 444.25,1116.08 445.5,1116.6 446.75,1116 448,1115.33 449.25,1114.43 450.5,1114.73 451.75,1115.05 453,1114.08 454.25,1113.72 455.5,1114.39 456.75,1115.45 458,1115.38 459.25,1114.29 460.5,1113.14 461.75,1112.65 463,1113.74 464.25,1114.75 465.5,1113.88 466.75,1112.53 468,1112.75 469.25,1112.16 470.5,1110.78 471.75,1111.22 473,1112.26 474.25,1112.56 475.5,1111.93 476.75,1111.87 478,1112.38 479.25,1112.45 480.5,1112.09 481.75,1112.35 483,1113.29 484.25,1114.23 485.5,1114.58 486.75,1114.28 488,1114.46 489.25,1114.57 490.5,1114 491.75,1112.76 493,1112.13 494.25,1112.57" fill="none" stroke="#e8812f" stroke-width="2.9" stroke-linejoin="round" stroke-linecap="butt"/>
<polyline points="55.5,1134.99 56.75,1134.03 58,1132.72 59.25,1132.51 60.5,1134.29 61.75,1135.76 63,1135.58 64.25,1135.91 65.5,1136.01 66.75,1136.3 68,1137.04 69.25,1136.47 70.5,1137.07 71.75,1138.59 73,1138.03 74.25,1137.5 75.5,1137.89 76.75,1137.88 78,1137.46 79.25,1138.7 80.5,1140.54 81.75,1140.47 83,1140.17 84.25,1140.72 85.5,1141.15 86.75,1140.64 88,1139.53 89.25,1138.38 90.5,1138.14 91.75,1137.96 93,1137.68 94.25,1137.61 95.5,1137.3 96.75,1137.59 98,1138.24 99.25,1139.22 100.5,1139.8 101.75,1139.34 103,1139.19 104.25,1139.67 105.5,1139.81 106.75,1140.06 108,1139.58 109.25,1138.52 110.5,1138.45 111.75,1138.59 113,1139.2 114.25,1139.87 115.5,1139.76 116.75,1139.05 118,1138.17 119.25,1138.37 120.5,1139.16 121.75,1139.12 123,1138.61 124.25,1138.77 125.5,1138.41 126.75,1137.22 128,1137.37 129.25,1137.96 130.5,1137.35 131.75,1137.53 133,1138.77 134.25,1138.95 135.5,1138.57 136.75,1138.51 138,1138.29 139.25,1137.74 140.5,1137.71 141.75,1138.29 143,1138.27 144.25,1137.21 145.5,1136.52 146.75,1136.5 148,1136.56 149.25,1137.71 150.5,1138.42 151.75,1138.41 153,1138.86 154.25,1139.28 155.5,1140.19 156.75,1140.49 158,1139.14 159.25,1138.31 160.5,1138.75 161.75,1138.68 163,1138.8 164.25,1140.11 165.5,1141.1 166.75,1140.69 168,1139.64 169.25,1139 170.5,1139.1 171.75,1139.69 173,1140.42 174.25,1140.58 175.5,1140.64 176.75,1140.73 178,1140.97 179.25,1141.48 180.5,1141.26 181.75,1140.66 183,1140.78 184.25,1141.47 185.5,1141.74 186.75,1141.62 188,1141.41 189.25,1140.62 190.5,1139.77 191.75,1140.21 193,1141.08 194.25,1141 195.5,1141.39 196.75,1142.55 198,1142.57 199.25,1142.14 200.5,1142.42 201.75,1142.2 203,1141.73 204.25,1141.2 205.5,1141.23 206.75,1141.6 208,1141.72 209.25,1141.9 210.5,1141.17 211.75,1140.77 213,1141.53 214.25,1142.16 215.5,1141.92 216.75,1141.98 218,1143.07 219.25,1143.76 220.5,1143.05 221.75,1142.21 223,1142.83 224.25,1143.22 225.5,1142.81 226.75,1142.11 228,1141.53 229.25,1142.02 230.5,1142.74 231.75,1142.88 233,1142.87 234.25,1142.36 235.5,1141.76 236.75,1141.79 238,1141.45 239.25,1142.23 240.5,1143.9 241.75,1143.69 243,1142.91 244.25,1143.14 245.5,1143.01 246.75,1142.61 248,1142.97 249.25,1143.51 250.5,1143.23 251.75,1141.99 253,1141.69 254.25,1141.54 255.5,1141.38 256.75,1142.88 258,1143.35 259.25,1142.07 260.5,1141.5 261.75,1141.35 263,1140.94 264.25,1140.76 265.5,1140.54 266.75,1140.67 268,1141.46 269.25,1142.42 270.5,1142.22 271.75,1140.84 273,1140.24 274.25,1140.11 275.5,1140.72 276.75,1141.09 278,1140.27 279.25,1139.45 280.5,1139.78 281.75,1141.39 283,1142.77 284.25,1142.75 285.5,1141.7 286.75,1140.94 288,1140.7 289.25,1140.06 290.5,1140.44 291.75,1141.66 293,1141.78 294.25,1141.47 295.5,1141.75 296.75,1143.04 298,1143.31 299.25,1142.43 300.5,1142.26 301.75,1143.25 303,1144.84 304.25,1145.05 305.5,1144.98 306.75,1145.38 308,1144.27 309.25,1142.38 310.5,1142 311.75,1143.32 313,1144.14 314.25,1144.21 315.5,1145 316.75,1145.64 318,1145.58 319.25,1145.43 320.5,1145.28 321.75,1143.83 323,1142.46 324.25,1142.21 325.5,1142.54 326.75,1142.84 328,1141.36 329.25,1140.45 330.5,1141.37 331.75,1141.82 333,1141.73 334.25,1142.32 335.5,1143.05 336.75,1143.17 338,1142.65 339.25,1142.8 340.5,1143.67 341.75,1143.97 343,1144.64 344.25,1144.57 345.5,1144.58 346.75,1145.11 348,1144.72 349.25,1144.63 350.5,1144.32 351.75,1143.73 353,1143.69 354.25,1143.71 355.5,1143.61 356.75,1144.21 358,1145.17 359.25,1144.9 360.5,1145.1 361.75,1145.87 363,1145.39 364.25,1145.5 365.5,1146.41 366.75,1146.21 368,1145.38 369.25,1145.11 370.5,1145.62 371.75,1145.94 373,1145.65 374.25,1145.22 375.5,1145.53 376.75,1145.85 378,1145.3 379.25,1144.56 380.5,1144.13 381.75,1144.12 383,1144.25 384.25,1144.96 385.5,1144.97 386.75,1143.6 388,1143.09 389.25,1143.42 390.5,1143.34 391.75,1142.69 393,1142.28 394.25,1142.8 395.5,1143.26 396.75,1144.05 398,1145.3 399.25,1146.41 400.5,1146.51 401.75,1145.95 403,1146.58 404.25,1146.26 405.5,1145.32 406.75,1144.9 408,1143.95 409.25,1143.5 410.5,1144.41 411.75,1145.66 413,1145.71 414.25,1145.44 415.5,1145.37 416.75,1145.3 418,1145.82 419.25,1146.69 420.5,1146.7 421.75,1146.09 423,1146.47 424.25,1146 425.5,1145.13 426.75,1146.43 428,1147.67 429.25,1147.36 430.5,1146.7 431.75,1145.66 433,1144.98 434.25,1145.75 435.5,1146.06 436.75,1145.65 438,1145.75 439.25,1146.59 440.5,1147.15 441.75,1146 443,1144.72 444.25,1144.64 445.5,1145.62 446.75,1146.35 448,1146.09 449.25,1145.98 450.5,1146.4 451.75,1146.65 453,1146.49 454.25,1145.5 455.5,1144.61 456.75,1144.93 458,1145.59 459.25,1146.13 460.5,1146 461.75,1145.62 463,1145.21 464.25,1144.49 465.5,1144.98 466.75,1145.52 468,1144.94 469.25,1144.9 470.5,1145.03 471.75,1144.77 473,1145.05 474.25,1145.45 475.5,1145.35 476.75,1145.39 478,1145.19 479.25,1144.54 480.5,1145.24 481.75,1147.21 483,1147.48 484.25,1146.67 485.5,1146.95 486.75,1147.37 488,1146.91 489.25,1145.66 490.5,1144.59 491.75,1144.67 493,1145.9 494.25,1146.62" fill="none" stroke="#f23a3a" stroke-width="2.9" stroke-linejoin="round" stroke-linecap="butt"/>
<path d="M55.5 1227.6 C59.58 1227.55 70.92 1227.32 80 1227.3 C89.08 1227.28 100.83 1227.58 110 1227.5 C119.17 1227.42 128.33 1227.02 135 1226.8 C141.67 1226.58 145.9 1226 150 1226.2 C154.1 1226.4 156.93 1228.17 159.6 1228 C162.27 1227.83 163.6 1228.07 166 1225.2 C168.4 1222.33 170.8 1215.87 174 1210.8 C177.2 1205.73 182 1196.13 185.2 1194.8 C188.4 1193.47 190.53 1198.53 193.2 1202.8 C195.87 1207.07 198.53 1216.27 201.2 1220.4 C203.87 1224.53 206.8 1227.6 209.2 1227.6 C211.6 1227.6 213.2 1222.8 215.6 1220.4 C218 1218 220.93 1213.2 223.6 1213.2 C226.27 1213.2 228.4 1218.03 231.6 1220.4 C234.8 1222.77 239.07 1226.33 242.8 1227.4 C246.53 1228.47 250.53 1226.73 254 1226.8 C257.47 1226.87 260.4 1228.87 263.6 1227.8 C266.8 1226.73 269.87 1222.97 273.2 1220.4 C276.53 1217.83 280.13 1212.4 283.6 1212.4 C287.07 1212.4 290.93 1218.13 294 1220.4 C297.07 1222.67 299.33 1224.77 302 1226 C304.67 1227.23 307.07 1228.47 310 1227.8 C312.93 1227.13 316.13 1224.57 319.6 1222 C323.07 1219.43 327.87 1216.13 330.8 1212.4 C333.73 1208.67 334.67 1204.4 337.2 1199.6 C339.73 1194.8 343.6 1185.73 346 1183.6 C348.4 1181.47 349.73 1185.2 351.6 1186.8 C353.47 1188.4 355.6 1193.47 357.2 1193.2 C358.8 1192.93 359.6 1189.2 361.2 1185.2 C362.8 1181.2 365.07 1170.53 366.8 1169.2 C368.53 1167.87 370.13 1172.4 371.6 1177.2 C373.07 1182 373.87 1191.87 375.6 1198 C377.33 1204.13 379.6 1209.73 382 1214 C384.4 1218.27 387.33 1221.37 390 1223.6 C392.67 1225.83 395.33 1226.87 398 1227.4 C400.67 1227.93 403.33 1227.3 406 1226.8 C408.67 1226.3 410.8 1224.93 414 1224.4 C417.2 1223.87 421.73 1224.53 425.2 1223.6 C428.67 1222.67 431.6 1220.45 434.8 1218.8 C438 1217.15 441.2 1213.97 444.4 1213.7 C447.6 1213.43 451.07 1215.68 454 1217.2 C456.93 1218.72 459.33 1221.33 462 1222.8 C464.67 1224.27 467 1225.23 470 1226 C473 1226.77 475.92 1227.17 480 1227.4 C484.08 1227.63 492.08 1227.4 494.5 1227.4" fill="none" stroke="#e8308c" stroke-width="2.9"/>
<text x="505.28" y="687.9" font-family='"Liberation Sans", Arial, sans-serif' font-weight="bold" font-size="21.2" fill="#f03030">15 ps</text>
<text x="505.28" y="716.6" font-family='"Liberation Sans", Arial, sans-serif' font-weight="bold" font-size="21.2" fill="#e8288c">10 ps</text>
<text x="517.05" y="751.3" font-family='"Liberation Sans", Arial, sans-serif' font-weight="bold" font-size="21.2" fill="#b020f0">5 ps</text>
<text x="517.05" y="785.8" font-family='"Liberation Sans", Arial, sans-serif' font-weight="bold" font-size="21.2" fill="#7018f0">3 ps</text>
<text x="517.05" y="820.6" font-family='"Liberation Sans", Arial, sans-serif' font-weight="bold" font-size="21.2" fill="#2212e8">2 ps</text>
<text x="499.35" y="859.2" font-family='"Liberation Sans", Arial, sans-serif' font-weight="bold" font-size="21.2" fill="#48a2f8">1.5 ps</text>
<text x="499.35" y="894.5" font-family='"Liberation Sans", Arial, sans-serif' font-weight="bold" font-size="21.2" fill="#4fd6c6">1.0 ps</text>
<text x="499.35" y="930" font-family='"Liberation Sans", Arial, sans-serif' font-weight="bold" font-size="21.2" fill="#55e6a6">0.8 ps</text>
<text x="499.35" y="964" font-family='"Liberation Sans", Arial, sans-serif' font-weight="bold" font-size="21.2" fill="#3cf01c">0.6 ps</text>
<text x="499.35" y="1006.8" font-family='"Liberation Sans", Arial, sans-serif' font-weight="bold" font-size="21.2" fill="#a2ee40">0.4 ps</text>
<text x="499.35" y="1050" font-family='"Liberation Sans", Arial, sans-serif' font-weight="bold" font-size="21.2" fill="#d6de40">0.3 ps</text>
<text x="499.35" y="1083.6" font-family='"Liberation Sans", Arial, sans-serif' font-weight="bold" font-size="21.2" fill="#d6a634">0.2 ps</text>
<text x="499.35" y="1119" font-family='"Liberation Sans", Arial, sans-serif' font-weight="bold" font-size="21.2" fill="#e67f2c">0.1 ps</text>
<text x="517.05" y="1150.4" font-family='"Liberation Sans", Arial, sans-serif' font-weight="bold" font-size="21.2" fill="#f03030">0 ps</text>
<text transform="translate(60.01,1219.2)" font-family='"Liberation Sans", Arial, sans-serif' font-weight="bold" font-size="17.2" fill="#e0288a">Ground × 0.1</text>
<text transform="translate(226.3,667.27) rotate(-90) scale(1.0679,1)" font-family='"Liberation Sans", Arial, sans-serif' font-weight="bold" font-size="25" fill="#000">1250</text>
<text transform="translate(354.5,663.93) rotate(-90) scale(1.0434,1)" font-family='"Liberation Sans", Arial, sans-serif' font-weight="bold" font-size="25" fill="#000">1400</text>
<text transform="translate(384.2,663.95) rotate(-90) scale(1.0566,1)" font-family='"Liberation Sans", Arial, sans-serif' font-weight="bold" font-size="25" fill="#000">1440</text>
<rect x="55.0" y="556.8" width="440.2" height="714.5" fill="none" stroke="#000" stroke-width="2"/>
<line x1="96.2" y1="1271.3" x2="96.2" y2="1263.3" stroke="#000" stroke-width="1.6"/>
<line x1="137.77" y1="1271.3" x2="137.77" y2="1266.8" stroke="#000" stroke-width="1.6"/>
<line x1="179.33" y1="1271.3" x2="179.33" y2="1263.3" stroke="#000" stroke-width="1.6"/>
<line x1="220.9" y1="1271.3" x2="220.9" y2="1266.8" stroke="#000" stroke-width="1.6"/>
<line x1="262.46" y1="1271.3" x2="262.46" y2="1263.3" stroke="#000" stroke-width="1.6"/>
<line x1="304.03" y1="1271.3" x2="304.03" y2="1266.8" stroke="#000" stroke-width="1.6"/>
<line x1="345.59" y1="1271.3" x2="345.59" y2="1263.3" stroke="#000" stroke-width="1.6"/>
<line x1="387.16" y1="1271.3" x2="387.16" y2="1266.8" stroke="#000" stroke-width="1.6"/>
<line x1="428.72" y1="1271.3" x2="428.72" y2="1263.3" stroke="#000" stroke-width="1.6"/>
<line x1="470.29" y1="1271.3" x2="470.29" y2="1266.8" stroke="#000" stroke-width="1.6"/>
<text x="70.36" y="1301.2" font-family='"Liberation Sans", Arial, sans-serif' font-weight="bold" font-size="23.6" fill="#000">1100</text>
<text x="152.84" y="1301.2" font-family='"Liberation Sans", Arial, sans-serif' font-weight="bold" font-size="23.6" fill="#000">1200</text>
<text x="235.97" y="1301.2" font-family='"Liberation Sans", Arial, sans-serif' font-weight="bold" font-size="23.6" fill="#000">1300</text>
<text x="319.1" y="1301.2" font-family='"Liberation Sans", Arial, sans-serif' font-weight="bold" font-size="23.6" fill="#000">1400</text>
<text x="402.23" y="1301.2" font-family='"Liberation Sans", Arial, sans-serif' font-weight="bold" font-size="23.6" fill="#000">1500</text>
<text x="124.0" y="1331.6" font-family='"Liberation Sans", Arial, sans-serif' font-weight="bold" font-size="24.4">Stokes Raman Shift (cm<tspan font-size="15" dy="-10">-1</tspan><tspan dy="10">)</tspan></text>
<text transform="translate(34.8,1141.74) rotate(-90) scale(0.9729,1)" font-family='"Liberation Sans", Arial, sans-serif' font-weight="bold" font-size="25.2" fill="#000">Stimulated Raman Intensity (arb. units)</text>
<text transform="translate(10.32,554.2)" font-family='"Liberation Sans", Arial, sans-serif' font-weight="bold" font-size="47" fill="#000">c</text>
<path d="M644.5 768 L646 730 L647.5 690 L649.5 656.4 L652.5 625 L656.3 604 L659.5 592 L663 583.7 L669 583.7 " fill="none"/>
<polyline points="644.5,768 646,730 647.5,690 649.5,656.4 652.5,625 656.3,604 659.5,592 663,583.7 669,583.7 673,589" fill="none" stroke="#ef939a" stroke-width="3.2" stroke-linejoin="round"/>
<path d="M673 589 C673.77 590.53 675.27 592.2 677.6 598.2 C679.93 604.2 683.77 615.3 687 625 C690.23 634.7 693.67 646.4 697 656.4 C700.33 666.4 703.77 675.93 707 685 C710.23 694.07 713.23 703.63 716.4 710.8 C719.57 717.97 722.77 723.13 726 728 C729.23 732.87 732.63 736.75 735.8 740 C738.97 743.25 741.77 745.25 745 747.5 C748.23 749.75 750.2 751.42 755.2 753.5 C760.2 755.58 768.53 758.25 775 760 C781.47 761.75 784.83 762.83 794 764 C803.17 765.17 817.33 766.28 830 767 C842.67 767.72 835.18 768.03 870 768.3 C904.82 768.57 1010.75 768.55 1038.9 768.6" fill="none" stroke="#ef939a" stroke-width="3.2"/>
<line x1="1047.3" y1="768.6" x2="1143.5" y2="768.6" stroke="#ef939a" stroke-width="3.2"/>
<path d="M644.5 1010 C644.83 1005.83 645.5 992.6 646.5 985 C647.5 977.4 649.25 972.73 650.5 964.4 C651.75 956.07 652.72 944.73 654 935 C655.28 925.27 656.87 914.5 658.2 906 C659.53 897.5 660.7 890.45 662 884 C663.3 877.55 664.5 872.8 666 867.3 C667.5 861.8 669.07 855.85 671 851 C672.93 846.15 674.93 841.98 677.6 838.2 C680.27 834.42 683.77 830.73 687 828.3 C690.23 825.87 694.17 824.27 697 823.6 C699.83 822.93 701.83 823.67 704 824.3 C706.17 824.93 707.93 826.08 710 827.4 C712.07 828.72 713.73 829.93 716.4 832.2 C719.07 834.47 722.77 837.73 726 841 C729.23 844.27 730.93 846.13 735.8 851.8 C740.67 857.47 748.72 867.23 755.2 875 C761.68 882.77 768.23 890.95 774.7 898.4 C781.17 905.85 787.62 913.43 794 919.7 C800.38 925.97 806.52 930.82 813 936 C819.48 941.18 826.4 946.3 832.9 950.8 C839.4 955.3 845.53 959.13 852 963 C858.47 966.87 863.7 970.22 871.7 974 C879.7 977.78 888.92 982.28 900 985.7 C911.08 989.12 922.13 992 938.2 994.5 C954.27 997 979.62 999.27 996.4 1000.7 C1013.18 1002.13 1031.82 1002.7 1038.9 1003.1" fill="none" stroke="#6fe860" stroke-width="3.2"/>
<line x1="1047.3" y1="1005.5" x2="1143.5" y2="1005.5" stroke="#6fe860" stroke-width="3.2"/>
<polyline points="644.5,1060.8 646.5,1120 648.5,1175.2 652,1215 656.3,1241.2 663,1265 669.9,1265 673,1260" fill="none" stroke="#9566bd" stroke-width="3.2" stroke-linejoin="round"/>
<path d="M673 1260 C673.77 1258.5 675.27 1258 677.6 1251 C679.93 1244 683.77 1229 687 1218 C690.23 1207 693.83 1195.17 697 1185 C700.17 1174.83 702.77 1165.73 706 1157 C709.23 1148.27 713.07 1139.93 716.4 1132.6 C719.73 1125.27 722.77 1118.83 726 1113 C729.23 1107.17 732.63 1101.93 735.8 1097.6 C738.97 1093.27 741.77 1090.07 745 1087 C748.23 1083.93 750.2 1082.03 755.2 1079.2 C760.2 1076.37 768.53 1072.27 775 1070 C781.47 1067.73 784.35 1066.9 794 1065.6 C803.65 1064.3 815.23 1062.92 832.9 1062.2 C850.57 1061.48 865.67 1061.45 900 1061.3 C934.33 1061.15 1015.75 1061.3 1038.9 1061.3" fill="none" stroke="#9566bd" stroke-width="3.2"/>
<line x1="1047.3" y1="1061.3" x2="1143.5" y2="1061.3" stroke="#9566bd" stroke-width="3.2"/>
<defs><clipPath id="cpd"><rect x="643.5" y="555.6" width="500.5" height="713.1999999999999"/></clipPath></defs><g clip-path="url(#cpd)">
<circle cx="645.6" cy="768" r="5.4" fill="#e8646d"/>
<circle cx="650.8" cy="704.6" r="5.4" fill="#e8646d"/>
<circle cx="657.8" cy="671.6" r="5.4" fill="#e8646d"/>
<circle cx="665.4" cy="591.4" r="5.4" fill="#e8646d"/>
<circle cx="672.2" cy="626.4" r="5.4" fill="#e8646d"/>
<circle cx="686.4" cy="676.2" r="5.4" fill="#e8646d"/>
<circle cx="701.1" cy="704.6" r="5.4" fill="#e8646d"/>
<circle cx="715.5" cy="731.2" r="5.4" fill="#e8646d"/>
<circle cx="751.4" cy="741.8" r="5.4" fill="#e8646d"/>
<circle cx="787.3" cy="753.5" r="5.4" fill="#e8646d"/>
<circle cx="859.5" cy="752.9" r="5.4" fill="#e8646d"/>
<circle cx="1002.8" cy="764.1" r="5.4" fill="#e8646d"/>
<circle cx="1063" cy="768" r="5.4" fill="#e8646d"/>
<circle cx="1143.5" cy="768" r="5.4" fill="#e8646d"/>
<circle cx="645" cy="1005.6" r="5.4" fill="#82e0a6"/>
<circle cx="650.8" cy="965.3" r="5.4" fill="#82e0a6"/>
<circle cx="658.2" cy="949.8" r="5.4" fill="#82e0a6"/>
<circle cx="665" cy="851.8" r="5.4" fill="#82e0a6"/>
<circle cx="672.4" cy="829.5" r="5.4" fill="#82e0a6"/>
<circle cx="686.7" cy="836.3" r="5.4" fill="#82e0a6"/>
<circle cx="701" cy="831.4" r="5.4" fill="#82e0a6"/>
<circle cx="715.5" cy="844" r="5.4" fill="#82e0a6"/>
<circle cx="751.4" cy="865.8" r="5.4" fill="#82e0a6"/>
<circle cx="787.3" cy="917.8" r="5.4" fill="#82e0a6"/>
<circle cx="859.5" cy="963.4" r="5.4" fill="#82e0a6"/>
<circle cx="1003.2" cy="995" r="5.4" fill="#82e0a6"/>
<circle cx="1063.4" cy="1002.7" r="5.4" fill="#82e0a6"/>
<circle cx="1143" cy="1005.5" r="5.4" fill="#82e0a6"/>
<circle cx="644.5" cy="1060.8" r="5.4" fill="#7c32d2"/>
<circle cx="651" cy="1071.4" r="5.4" fill="#7c32d2"/>
<circle cx="658.2" cy="1126.3" r="5.4" fill="#7c32d2"/>
<circle cx="665.2" cy="1199.5" r="5.4" fill="#7c32d2"/>
<circle cx="672.2" cy="1259.3" r="5.4" fill="#7c32d2"/>
<circle cx="686.7" cy="1153" r="5.4" fill="#7c32d2"/>
<circle cx="701" cy="1150.4" r="5.4" fill="#7c32d2"/>
<circle cx="715.5" cy="1112.2" r="5.4" fill="#7c32d2"/>
<circle cx="751.4" cy="1089.9" r="5.4" fill="#7c32d2"/>
<circle cx="787.3" cy="1079.8" r="5.4" fill="#7c32d2"/>
<circle cx="859.5" cy="1065.2" r="5.4" fill="#7c32d2"/>
<circle cx="1003" cy="1064.2" r="5.4" fill="#7c32d2"/>
<circle cx="1063.5" cy="1061.8" r="5.4" fill="#7c32d2"/>
<circle cx="1143" cy="1061.3" r="5.4" fill="#7c32d2"/>
</g>
<text transform="translate(977.6,663.2) scale(1.05,1)" font-family='"Liberation Sans", Arial, sans-serif' font-weight="bold" font-size="25.6" fill="#e8646d">1250 cm<tspan font-size="16.5" dy="-11.5">-1</tspan></text>
<text transform="translate(978.6,892.5) scale(1.05,1)" font-family='"Liberation Sans", Arial, sans-serif' font-weight="bold" font-size="25.6" fill="#80e0a6">1400 cm<tspan font-size="16.5" dy="-11.5">-1</tspan></text>
<text transform="translate(979.1,1164.5) scale(1.05,1)" font-family='"Liberation Sans", Arial, sans-serif' font-weight="bold" font-size="25.6" fill="#c092ef">1440 cm<tspan font-size="16.5" dy="-11.5">-1</tspan></text>
<text transform="translate(767.73,707.9) scale(1.2635,1)" font-family='"Liberation Sans", Arial, sans-serif' font-weight="bold" font-size="17.8" fill="#e8646d">τ =0.7 ps</text>
<text transform="translate(808.43,909) scale(1.2608,1)" font-family='"Liberation Sans", Arial, sans-serif' font-weight="bold" font-size="17.8" fill="#80e0a6">τ =2.0 ps</text>
<text transform="translate(731.83,1175.2) scale(1.2567,1)" font-family='"Liberation Sans", Arial, sans-serif' font-weight="bold" font-size="17.8" fill="#c092ef">τ =0.3 ps</text>
<line x1="643.5" y1="554.6" x2="643.5" y2="1269.8" stroke="#000" stroke-width="2"/>
<line x1="1143.5" y1="554.6" x2="1143.5" y2="1269.8" stroke="#000" stroke-width="2"/>
<line x1="643.5" y1="555.6" x2="1143.5" y2="555.6" stroke="#000" stroke-width="2"/>
<line x1="643.5" y1="793.5" x2="1143.5" y2="793.5" stroke="#000" stroke-width="2"/>
<line x1="643.5" y1="1031.7" x2="1143.5" y2="1031.7" stroke="#000" stroke-width="2"/>
<line x1="643.5" y1="1268.8" x2="1038.9" y2="1268.8" stroke="#000" stroke-width="2"/>
<line x1="1047.3" y1="1268.8" x2="1144.5" y2="1268.8" stroke="#000" stroke-width="2"/>
<path d="M1033.5 557.8000000000001 L1041.5 554.1 M1043 557.8000000000001 L1051 554.1" stroke="#000" stroke-width="2.2" fill="none"/>
<path d="M1033.5 795.7 L1041.5 792.0 M1043 795.7 L1051 792.0" stroke="#000" stroke-width="2.2" fill="none"/>
<path d="M1033.5 1033.9 L1041.5 1030.2 M1043 1033.9 L1051 1030.2" stroke="#000" stroke-width="2.2" fill="none"/>
<line x1="1032.9" y1="1275.1" x2="1044.8" y2="1263.7" stroke="#000" stroke-width="1.8"/>
<line x1="1041" y1="1275.1" x2="1052.5" y2="1263.7" stroke="#000" stroke-width="1.8"/>
<line x1="679.55" y1="1268.8" x2="679.55" y2="1265.3" stroke="#000" stroke-width="1.6"/>
<line x1="715.5" y1="1268.8" x2="715.5" y2="1262.3" stroke="#000" stroke-width="1.6"/>
<line x1="751.45" y1="1268.8" x2="751.45" y2="1265.3" stroke="#000" stroke-width="1.6"/>
<line x1="787.4" y1="1268.8" x2="787.4" y2="1262.3" stroke="#000" stroke-width="1.6"/>
<line x1="823.35" y1="1268.8" x2="823.35" y2="1265.3" stroke="#000" stroke-width="1.6"/>
<line x1="859.3" y1="1268.8" x2="859.3" y2="1262.3" stroke="#000" stroke-width="1.6"/>
<line x1="895.25" y1="1268.8" x2="895.25" y2="1265.3" stroke="#000" stroke-width="1.6"/>
<line x1="931.2" y1="1268.8" x2="931.2" y2="1262.3" stroke="#000" stroke-width="1.6"/>
<line x1="967.15" y1="1268.8" x2="967.15" y2="1265.3" stroke="#000" stroke-width="1.6"/>
<line x1="1003.1" y1="1268.8" x2="1003.1" y2="1262.3" stroke="#000" stroke-width="1.6"/>
<line x1="1063.4" y1="1268.8" x2="1063.4" y2="1262.3" stroke="#000" stroke-width="1.6"/>
<line x1="1103.48" y1="1268.8" x2="1103.48" y2="1265.3" stroke="#000" stroke-width="1.6"/>
<text x="636.52" y="1297.6" font-family='"Liberation Sans", Arial, sans-serif' font-weight="bold" font-size="25.5" fill="#000">0</text>
<text x="707.98" y="1297.6" font-family='"Liberation Sans", Arial, sans-serif' font-weight="bold" font-size="25.5" fill="#000">1</text>
<text x="780.36" y="1297.6" font-family='"Liberation Sans", Arial, sans-serif' font-weight="bold" font-size="25.5" fill="#000">2</text>
<text x="852.38" y="1297.6" font-family='"Liberation Sans", Arial, sans-serif' font-weight="bold" font-size="25.5" fill="#000">3</text>
<text x="924" y="1297.6" font-family='"Liberation Sans", Arial, sans-serif' font-weight="bold" font-size="25.5" fill="#000">4</text>
<text x="995.99" y="1297.6" font-family='"Liberation Sans", Arial, sans-serif' font-weight="bold" font-size="25.5" fill="#000">5</text>
<text x="1048.96" y="1297.6" font-family='"Liberation Sans", Arial, sans-serif' font-weight="bold" font-size="25.5" fill="#000">10</text>
<text x="1128.95" y="1297.6" font-family='"Liberation Sans", Arial, sans-serif' font-weight="bold" font-size="25.5" fill="#000">15</text>
<text transform="translate(827.96,1331.6) scale(1.0657,1)" font-family='"Liberation Sans", Arial, sans-serif' font-weight="bold" font-size="25.6" fill="#000">Delay (ps)</text>
<text transform="translate(631,1187.47) rotate(-90) scale(0.9801,1)" font-family='"Liberation Sans", Arial, sans-serif' font-weight="bold" font-size="25.2" fill="#000">Norm Differential Raman Peak Area (arb. units)</text>
<text transform="translate(595.06,554.7)" font-family='"Liberation Sans", Arial, sans-serif' font-weight="bold" font-size="46" fill="#000">d</text>
<defs>
<radialGradient id="gC" cx="0.5" cy="0.5" r="0.5" fx="0.52" fy="0.36">
<stop offset="0" stop-color="#c4fff6"/><stop offset="0.2" stop-color="#78dccf"/><stop offset="0.5" stop-color="#4aa99f"/><stop offset="0.78" stop-color="#2f756d"/><stop offset="1" stop-color="#0f2a26"/></radialGradient>
<radialGradient id="gN" cx="0.5" cy="0.5" r="0.5" fx="0.36" fy="0.32">
<stop offset="0" stop-color="#b8b8ff"/><stop offset="0.25" stop-color="#3030ff"/><stop offset="0.7" stop-color="#0a0ad8"/><stop offset="1" stop-color="#000070"/></radialGradient>
<radialGradient id="gH" cx="0.5" cy="0.5" r="0.5" fx="0.45" fy="0.38">
<stop offset="0" stop-color="#ffffff"/><stop offset="0.6" stop-color="#f6f6f6"/><stop offset="0.85" stop-color="#cfcfcf"/><stop offset="1" stop-color="#8f8f8f"/></radialGradient>
</defs>
<line x1="1339.3" y1="244" x2="1339.3" y2="1118.6" stroke="#a98bf7" stroke-width="3.6"/>
<polygon points="1329.2,245 1339.4,208.4 1350.1,245" fill="#a184f8"/>
<g><path d="M1440.7 125.58L1434.96 130.3" stroke="#4ab6ad" stroke-width="1.7"/><path d="M1434.96 130.3L1429.21 135.01" stroke="#4ab6ad" stroke-width="1.7"/><path d="M1440.7 125.58L1446.21 130.3" stroke="#4ab6ad" stroke-width="1.7"/><path d="M1446.21 130.3L1451.72 135.01" stroke="#4ab6ad" stroke-width="1.7"/><path d="M1429.21 135.01L1429.21 143.65" stroke="#4ab6ad" stroke-width="1.7"/><path d="M1429.21 143.65L1429.21 152.29" stroke="#4ab6ad" stroke-width="1.7"/><path d="M1451.72 135.01L1451.72 143.65" stroke="#4ab6ad" stroke-width="1.7"/><path d="M1451.72 143.65L1451.72 152.29" stroke="#4ab6ad" stroke-width="1.7"/><path d="M1429.21 152.29L1434.96 156.96" stroke="#4ab6ad" stroke-width="1.7"/><path d="M1434.96 156.96L1440.7 161.63" stroke="#4ab6ad" stroke-width="1.7"/><path d="M1451.72 152.29L1446.21 156.96" stroke="#4ab6ad" stroke-width="1.7"/><path d="M1446.21 156.96L1440.7 161.63" stroke="#4ab6ad" stroke-width="1.7"/><path d="M1440.7 161.63L1440.7 171.07" stroke="#4ab6ad" stroke-width="1.7"/><path d="M1440.7 171.07L1440.7 180.5" stroke="#4ab6ad" stroke-width="1.7"/><path d="M1440.7 125.58L1440.7 119.04" stroke="#4ab6ad" stroke-width="1.7"/><path d="M1440.7 119.04L1440.7 112.5" stroke="#d0d0d0" stroke-width="1.7"/><path d="M1429.21 135.01L1425.01 131.61" stroke="#4ab6ad" stroke-width="1.7"/><path d="M1425.01 131.61L1420.81 128.2" stroke="#d0d0d0" stroke-width="1.7"/><path d="M1451.72 135.01L1456.16 131.61" stroke="#4ab6ad" stroke-width="1.7"/><path d="M1456.16 131.61L1460.59 128.2" stroke="#d0d0d0" stroke-width="1.7"/><path d="M1429.21 152.29L1425.01 155.94" stroke="#4ab6ad" stroke-width="1.7"/><path d="M1425.01 155.94L1420.81 159.58" stroke="#d0d0d0" stroke-width="1.7"/><path d="M1451.72 152.29L1456.16 155.94" stroke="#4ab6ad" stroke-width="1.7"/><path d="M1456.16 155.94L1460.59 159.58" stroke="#d0d0d0" stroke-width="1.7"/><path d="M1425.01 189.37L1417.16 185.96" stroke="#4ab6ad" stroke-width="1.7"/><path d="M1417.16 185.96L1409.32 182.55" stroke="#4ab6ad" stroke-width="1.7"/><path d="M1409.32 182.55L1402.03 186.76" stroke="#4ab6ad" stroke-width="1.7"/><path d="M1402.03 186.76L1394.75 190.96" stroke="#4ab6ad" stroke-width="1.7"/><path d="M1394.75 190.96L1393.95 199.04" stroke="#4ab6ad" stroke-width="1.7"/><path d="M1393.95 199.04L1393.16 207.12" stroke="#4ab6ad" stroke-width="1.7"/><path d="M1393.16 207.12L1400.21 211.04" stroke="#4ab6ad" stroke-width="1.7"/><path d="M1400.21 211.04L1407.26 214.96" stroke="#4ab6ad" stroke-width="1.7"/><path d="M1407.26 214.96L1415.11 210.53" stroke="#4ab6ad" stroke-width="1.7"/><path d="M1415.11 210.53L1422.95 206.09" stroke="#4ab6ad" stroke-width="1.7"/><path d="M1422.95 206.09L1423.98 197.73" stroke="#4ab6ad" stroke-width="1.7"/><path d="M1423.98 197.73L1425.01 189.37" stroke="#4ab6ad" stroke-width="1.7"/><path d="M1440.7 180.5L1432.85 184.94" stroke="#4ab6ad" stroke-width="1.7"/><path d="M1432.85 184.94L1425.01 189.37" stroke="#4ab6ad" stroke-width="1.7"/><path d="M1393.16 207.12L1385.55 211.04" stroke="#4ab6ad" stroke-width="1.7"/><path d="M1385.55 211.04L1377.94 214.96" stroke="#2020e0" stroke-width="1.7"/><path d="M1409.32 182.55L1410.11 176.3" stroke="#4ab6ad" stroke-width="1.7"/><path d="M1410.11 176.3L1410.91 170.04" stroke="#d0d0d0" stroke-width="1.7"/><path d="M1394.75 190.96L1389.24 188.07" stroke="#4ab6ad" stroke-width="1.7"/><path d="M1389.24 188.07L1383.73 185.17" stroke="#d0d0d0" stroke-width="1.7"/><path d="M1407.26 214.96L1406.75 220.99" stroke="#4ab6ad" stroke-width="1.7"/><path d="M1406.75 220.99L1406.24 227.01" stroke="#d0d0d0" stroke-width="1.7"/><path d="M1422.95 206.09L1428.18 208.99" stroke="#4ab6ad" stroke-width="1.7"/><path d="M1428.18 208.99L1433.41 211.88" stroke="#d0d0d0" stroke-width="1.7"/><path d="M1377.94 214.96L1372.99 212.35" stroke="#2020e0" stroke-width="1.7"/><path d="M1372.99 212.35L1368.03 209.73" stroke="#d0d0d0" stroke-width="1.7"/><path d="M1377.94 214.96L1377.19 220.99" stroke="#2020e0" stroke-width="1.7"/><path d="M1377.19 220.99L1376.44 227.01" stroke="#d0d0d0" stroke-width="1.7"/><path d="M1456.39 189.37L1464.24 185.96" stroke="#4ab6ad" stroke-width="1.7"/><path d="M1464.24 185.96L1472.08 182.55" stroke="#4ab6ad" stroke-width="1.7"/><path d="M1472.08 182.55L1479.37 186.76" stroke="#4ab6ad" stroke-width="1.7"/><path d="M1479.37 186.76L1486.65 190.96" stroke="#4ab6ad" stroke-width="1.7"/><path d="M1486.65 190.96L1487.45 199.04" stroke="#4ab6ad" stroke-width="1.7"/><path d="M1487.45 199.04L1488.24 207.12" stroke="#4ab6ad" stroke-width="1.7"/><path d="M1488.24 207.12L1481.19 211.04" stroke="#4ab6ad" stroke-width="1.7"/><path d="M1481.19 211.04L1474.14 214.96" stroke="#4ab6ad" stroke-width="1.7"/><path d="M1474.14 214.96L1466.29 210.53" stroke="#4ab6ad" stroke-width="1.7"/><path d="M1466.29 210.53L1458.45 206.09" stroke="#4ab6ad" stroke-width="1.7"/><path d="M1458.45 206.09L1457.42 197.73" stroke="#4ab6ad" stroke-width="1.7"/><path d="M1457.42 197.73L1456.39 189.37" stroke="#4ab6ad" stroke-width="1.7"/><path d="M1440.7 180.5L1448.55 184.94" stroke="#4ab6ad" stroke-width="1.7"/><path d="M1448.55 184.94L1456.39 189.37" stroke="#4ab6ad" stroke-width="1.7"/><path d="M1488.24 207.12L1495.85 211.04" stroke="#4ab6ad" stroke-width="1.7"/><path d="M1495.85 211.04L1503.46 214.96" stroke="#2020e0" stroke-width="1.7"/><path d="M1472.08 182.55L1471.29 176.3" stroke="#4ab6ad" stroke-width="1.7"/><path d="M1471.29 176.3L1470.49 170.04" stroke="#d0d0d0" stroke-width="1.7"/><path d="M1486.65 190.96L1492.16 188.07" stroke="#4ab6ad" stroke-width="1.7"/><path d="M1492.16 188.07L1497.67 185.17" stroke="#d0d0d0" stroke-width="1.7"/><path d="M1474.14 214.96L1474.65 220.99" stroke="#4ab6ad" stroke-width="1.7"/><path d="M1474.65 220.99L1475.16 227.01" stroke="#d0d0d0" stroke-width="1.7"/><path d="M1458.45 206.09L1453.22 208.99" stroke="#4ab6ad" stroke-width="1.7"/><path d="M1453.22 208.99L1447.99 211.88" stroke="#d0d0d0" stroke-width="1.7"/><path d="M1503.46 214.96L1508.41 212.35" stroke="#2020e0" stroke-width="1.7"/><path d="M1508.41 212.35L1513.37 209.73" stroke="#d0d0d0" stroke-width="1.7"/><path d="M1503.46 214.96L1504.21 220.99" stroke="#2020e0" stroke-width="1.7"/><path d="M1504.21 220.99L1504.96 227.01" stroke="#d0d0d0" stroke-width="1.7"/><circle cx="1440.7" cy="112.5" r="2.8" fill="url(#gH)"/><circle cx="1420.81" cy="128.2" r="2.8" fill="url(#gH)"/><circle cx="1460.59" cy="128.2" r="2.8" fill="url(#gH)"/><circle cx="1420.81" cy="159.58" r="2.8" fill="url(#gH)"/><circle cx="1460.59" cy="159.58" r="2.8" fill="url(#gH)"/><circle cx="1410.91" cy="170.04" r="2.8" fill="url(#gH)"/><circle cx="1383.73" cy="185.17" r="2.8" fill="url(#gH)"/><circle cx="1406.24" cy="227.01" r="2.8" fill="url(#gH)"/><circle cx="1433.41" cy="211.88" r="2.8" fill="url(#gH)"/><circle cx="1368.03" cy="209.73" r="2.8" fill="url(#gH)"/><circle cx="1376.44" cy="227.01" r="2.8" fill="url(#gH)"/><circle cx="1470.49" cy="170.04" r="2.8" fill="url(#gH)"/><circle cx="1497.67" cy="185.17" r="2.8" fill="url(#gH)"/><circle cx="1475.16" cy="227.01" r="2.8" fill="url(#gH)"/><circle cx="1447.99" cy="211.88" r="2.8" fill="url(#gH)"/><circle cx="1513.37" cy="209.73" r="2.8" fill="url(#gH)"/><circle cx="1504.96" cy="227.01" r="2.8" fill="url(#gH)"/><circle cx="1440.7" cy="125.58" r="5.3" fill="url(#gC)"/><circle cx="1429.21" cy="135.01" r="5.3" fill="url(#gC)"/><circle cx="1451.72" cy="135.01" r="5.3" fill="url(#gC)"/><circle cx="1429.21" cy="152.29" r="5.3" fill="url(#gC)"/><circle cx="1451.72" cy="152.29" r="5.3" fill="url(#gC)"/><circle cx="1440.7" cy="161.63" r="5.3" fill="url(#gC)"/><circle cx="1440.7" cy="180.5" r="5.3" fill="url(#gC)"/><circle cx="1425.01" cy="189.37" r="5.3" fill="url(#gC)"/><circle cx="1409.32" cy="182.55" r="5.3" fill="url(#gC)"/><circle cx="1394.75" cy="190.96" r="5.3" fill="url(#gC)"/><circle cx="1393.16" cy="207.12" r="5.3" fill="url(#gC)"/><circle cx="1407.26" cy="214.96" r="5.3" fill="url(#gC)"/><circle cx="1422.95" cy="206.09" r="5.3" fill="url(#gC)"/><circle cx="1456.39" cy="189.37" r="5.3" fill="url(#gC)"/><circle cx="1472.08" cy="182.55" r="5.3" fill="url(#gC)"/><circle cx="1486.65" cy="190.96" r="5.3" fill="url(#gC)"/><circle cx="1488.24" cy="207.12" r="5.3" fill="url(#gC)"/><circle cx="1474.14" cy="214.96" r="5.3" fill="url(#gC)"/><circle cx="1458.45" cy="206.09" r="5.3" fill="url(#gC)"/><circle cx="1377.94" cy="214.96" r="4.6" fill="url(#gN)"/><circle cx="1503.46" cy="214.96" r="4.6" fill="url(#gN)"/></g>
<g><path d="M1564.1 368.5L1556 373.75" stroke="#4ab6ad" stroke-width="1.7"/><path d="M1556 373.75L1547.9 379" stroke="#4ab6ad" stroke-width="1.7"/><path d="M1564.1 368.5L1572.2 373.75" stroke="#4ab6ad" stroke-width="1.7"/><path d="M1572.2 373.75L1580.3 379" stroke="#4ab6ad" stroke-width="1.7"/><path d="M1547.9 379L1547.9 387.9" stroke="#4ab6ad" stroke-width="1.7"/><path d="M1547.9 387.9L1547.9 396.8" stroke="#4ab6ad" stroke-width="1.7"/><path d="M1580.3 379L1580.3 387.9" stroke="#4ab6ad" stroke-width="1.7"/><path d="M1580.3 387.9L1580.3 396.8" stroke="#4ab6ad" stroke-width="1.7"/><path d="M1547.9 396.8L1556 402" stroke="#4ab6ad" stroke-width="1.7"/><path d="M1556 402L1564.1 407.2" stroke="#4ab6ad" stroke-width="1.7"/><path d="M1580.3 396.8L1572.2 402" stroke="#4ab6ad" stroke-width="1.7"/><path d="M1572.2 402L1564.1 407.2" stroke="#4ab6ad" stroke-width="1.7"/><path d="M1564.1 407.2L1564.1 416.35" stroke="#4ab6ad" stroke-width="1.7"/><path d="M1564.1 416.35L1564.1 425.5" stroke="#4ab6ad" stroke-width="1.7"/><path d="M1564.1 368.5L1564.1 362" stroke="#4ab6ad" stroke-width="1.7"/><path d="M1564.1 362L1564.1 355.5" stroke="#d0d0d0" stroke-width="1.7"/><path d="M1547.9 379L1541.65 375.35" stroke="#4ab6ad" stroke-width="1.7"/><path d="M1541.65 375.35L1535.4 371.7" stroke="#d0d0d0" stroke-width="1.7"/><path d="M1580.3 379L1586.8 375.35" stroke="#4ab6ad" stroke-width="1.7"/><path d="M1586.8 375.35L1593.3 371.7" stroke="#d0d0d0" stroke-width="1.7"/><path d="M1547.9 396.8L1541.65 400.45" stroke="#4ab6ad" stroke-width="1.7"/><path d="M1541.65 400.45L1535.4 404.1" stroke="#d0d0d0" stroke-width="1.7"/><path d="M1580.3 396.8L1586.8 400.45" stroke="#4ab6ad" stroke-width="1.7"/><path d="M1586.8 400.45L1593.3 404.1" stroke="#d0d0d0" stroke-width="1.7"/><path d="M1564.1 425.5L1555.45 430.7" stroke="#4ab6ad" stroke-width="1.7"/><path d="M1555.45 430.7L1546.8 435.9" stroke="#4ab6ad" stroke-width="1.7"/><path d="M1546.8 435.9L1542.65 438.5" stroke="#4ab6ad" stroke-width="1.7"/><path d="M1542.65 438.5L1538.5 441.1" stroke="#4ab6ad" stroke-width="1.7"/><path d="M1538.5 441.1L1530.65 446.1" stroke="#4ab6ad" stroke-width="1.7"/><path d="M1530.65 446.1L1522.8 451.1" stroke="#4ab6ad" stroke-width="1.7"/><path d="M1522.8 451.1L1518.6 453.7" stroke="#4ab6ad" stroke-width="1.7"/><path d="M1518.6 453.7L1514.4 456.3" stroke="#4ab6ad" stroke-width="1.7"/><path d="M1514.4 456.3L1507.1 461" stroke="#4ab6ad" stroke-width="1.7"/><path d="M1507.1 461L1499.8 465.7" stroke="#2020e0" stroke-width="1.7"/><path d="M1499.8 465.7L1496.65 467.8" stroke="#2020e0" stroke-width="1.7"/><path d="M1496.65 467.8L1493.5 469.9" stroke="#d0d0d0" stroke-width="1.7"/><path d="M1564.1 425.5L1572.75 430.7" stroke="#4ab6ad" stroke-width="1.7"/><path d="M1572.75 430.7L1581.4 435.9" stroke="#4ab6ad" stroke-width="1.7"/><path d="M1581.4 435.9L1585.55 438.5" stroke="#4ab6ad" stroke-width="1.7"/><path d="M1585.55 438.5L1589.7 441.1" stroke="#4ab6ad" stroke-width="1.7"/><path d="M1589.7 441.1L1597.55 446.1" stroke="#4ab6ad" stroke-width="1.7"/><path d="M1597.55 446.1L1605.4 451.1" stroke="#4ab6ad" stroke-width="1.7"/><path d="M1605.4 451.1L1609.6 453.7" stroke="#4ab6ad" stroke-width="1.7"/><path d="M1609.6 453.7L1613.8 456.3" stroke="#4ab6ad" stroke-width="1.7"/><path d="M1613.8 456.3L1621.1 461" stroke="#4ab6ad" stroke-width="1.7"/><path d="M1621.1 461L1628.4 465.7" stroke="#2020e0" stroke-width="1.7"/><path d="M1628.4 465.7L1631.55 467.8" stroke="#2020e0" stroke-width="1.7"/><path d="M1631.55 467.8L1634.7 469.9" stroke="#d0d0d0" stroke-width="1.7"/><circle cx="1564.1" cy="355.5" r="2.9" fill="url(#gH)"/><circle cx="1535.4" cy="371.7" r="2.9" fill="url(#gH)"/><circle cx="1593.3" cy="371.7" r="2.9" fill="url(#gH)"/><circle cx="1535.4" cy="404.1" r="2.9" fill="url(#gH)"/><circle cx="1593.3" cy="404.1" r="2.9" fill="url(#gH)"/><circle cx="1493.5" cy="469.9" r="2.9" fill="url(#gH)"/><circle cx="1634.7" cy="469.9" r="2.9" fill="url(#gH)"/><circle cx="1564.1" cy="368.5" r="5.4" fill="url(#gC)"/><circle cx="1547.9" cy="379" r="5.4" fill="url(#gC)"/><circle cx="1580.3" cy="379" r="5.4" fill="url(#gC)"/><circle cx="1547.9" cy="396.8" r="5.4" fill="url(#gC)"/><circle cx="1580.3" cy="396.8" r="5.4" fill="url(#gC)"/><circle cx="1564.1" cy="407.2" r="5.4" fill="url(#gC)"/><circle cx="1564.1" cy="425.5" r="5.4" fill="url(#gC)"/><circle cx="1546.8" cy="435.9" r="5.4" fill="url(#gC)"/><circle cx="1538.5" cy="441.1" r="5.4" fill="url(#gC)"/><circle cx="1522.8" cy="451.1" r="5.4" fill="url(#gC)"/><circle cx="1514.4" cy="456.3" r="5.4" fill="url(#gC)"/><circle cx="1581.4" cy="435.9" r="5.4" fill="url(#gC)"/><circle cx="1589.7" cy="441.1" r="5.4" fill="url(#gC)"/><circle cx="1605.4" cy="451.1" r="5.4" fill="url(#gC)"/><circle cx="1613.8" cy="456.3" r="5.4" fill="url(#gC)"/><circle cx="1499.8" cy="465.7" r="4.8" fill="url(#gN)"/><circle cx="1628.4" cy="465.7" r="4.8" fill="url(#gN)"/><circle cx="1543.6" cy="438" r="2.9" fill="url(#gH)"/><circle cx="1518.1" cy="455" r="2.9" fill="url(#gH)"/><circle cx="1584.6" cy="438" r="2.9" fill="url(#gH)"/><circle cx="1610.1" cy="455" r="2.9" fill="url(#gH)"/></g>
<g><path d="M1705.7 588.7L1697.6 593.95" stroke="#4ab6ad" stroke-width="1.7"/><path d="M1697.6 593.95L1689.5 599.2" stroke="#4ab6ad" stroke-width="1.7"/><path d="M1705.7 588.7L1713.8 593.95" stroke="#4ab6ad" stroke-width="1.7"/><path d="M1713.8 593.95L1721.9 599.2" stroke="#4ab6ad" stroke-width="1.7"/><path d="M1689.5 599.2L1689.5 608.1" stroke="#4ab6ad" stroke-width="1.7"/><path d="M1689.5 608.1L1689.5 617" stroke="#4ab6ad" stroke-width="1.7"/><path d="M1721.9 599.2L1721.9 608.1" stroke="#4ab6ad" stroke-width="1.7"/><path d="M1721.9 608.1L1721.9 617" stroke="#4ab6ad" stroke-width="1.7"/><path d="M1689.5 617L1697.6 622.2" stroke="#4ab6ad" stroke-width="1.7"/><path d="M1697.6 622.2L1705.7 627.4" stroke="#4ab6ad" stroke-width="1.7"/><path d="M1721.9 617L1713.8 622.2" stroke="#4ab6ad" stroke-width="1.7"/><path d="M1713.8 622.2L1705.7 627.4" stroke="#4ab6ad" stroke-width="1.7"/><path d="M1705.7 627.4L1705.7 636.55" stroke="#4ab6ad" stroke-width="1.7"/><path d="M1705.7 636.55L1705.7 645.7" stroke="#4ab6ad" stroke-width="1.7"/><path d="M1705.7 588.7L1705.7 582.2" stroke="#4ab6ad" stroke-width="1.7"/><path d="M1705.7 582.2L1705.7 575.7" stroke="#d0d0d0" stroke-width="1.7"/><path d="M1689.5 599.2L1683.25 595.55" stroke="#4ab6ad" stroke-width="1.7"/><path d="M1683.25 595.55L1677 591.9" stroke="#d0d0d0" stroke-width="1.7"/><path d="M1721.9 599.2L1728.4 595.55" stroke="#4ab6ad" stroke-width="1.7"/><path d="M1728.4 595.55L1734.9 591.9" stroke="#d0d0d0" stroke-width="1.7"/><path d="M1689.5 617L1683.25 620.65" stroke="#4ab6ad" stroke-width="1.7"/><path d="M1683.25 620.65L1677 624.3" stroke="#d0d0d0" stroke-width="1.7"/><path d="M1721.9 617L1728.4 620.65" stroke="#4ab6ad" stroke-width="1.7"/><path d="M1728.4 620.65L1734.9 624.3" stroke="#d0d0d0" stroke-width="1.7"/><path d="M1705.7 645.7L1697.05 650.9" stroke="#4ab6ad" stroke-width="1.7"/><path d="M1697.05 650.9L1688.4 656.1" stroke="#4ab6ad" stroke-width="1.7"/><path d="M1688.4 656.1L1684.25 658.7" stroke="#4ab6ad" stroke-width="1.7"/><path d="M1684.25 658.7L1680.1 661.3" stroke="#4ab6ad" stroke-width="1.7"/><path d="M1680.1 661.3L1672.25 666.3" stroke="#4ab6ad" stroke-width="1.7"/><path d="M1672.25 666.3L1664.4 671.3" stroke="#4ab6ad" stroke-width="1.7"/><path d="M1664.4 671.3L1660.2 673.9" stroke="#4ab6ad" stroke-width="1.7"/><path d="M1660.2 673.9L1656 676.5" stroke="#4ab6ad" stroke-width="1.7"/><path d="M1656 676.5L1648.7 681.2" stroke="#4ab6ad" stroke-width="1.7"/><path d="M1648.7 681.2L1641.4 685.9" stroke="#2020e0" stroke-width="1.7"/><path d="M1641.4 685.9L1638.25 688" stroke="#2020e0" stroke-width="1.7"/><path d="M1638.25 688L1635.1 690.1" stroke="#d0d0d0" stroke-width="1.7"/><path d="M1705.7 645.7L1714.35 650.9" stroke="#4ab6ad" stroke-width="1.7"/><path d="M1714.35 650.9L1723 656.1" stroke="#4ab6ad" stroke-width="1.7"/><path d="M1723 656.1L1727.15 658.7" stroke="#4ab6ad" stroke-width="1.7"/><path d="M1727.15 658.7L1731.3 661.3" stroke="#4ab6ad" stroke-width="1.7"/><path d="M1731.3 661.3L1739.15 666.3" stroke="#4ab6ad" stroke-width="1.7"/><path d="M1739.15 666.3L1747 671.3" stroke="#4ab6ad" stroke-width="1.7"/><path d="M1747 671.3L1751.2 673.9" stroke="#4ab6ad" stroke-width="1.7"/><path d="M1751.2 673.9L1755.4 676.5" stroke="#4ab6ad" stroke-width="1.7"/><path d="M1755.4 676.5L1762.7 681.2" stroke="#4ab6ad" stroke-width="1.7"/><path d="M1762.7 681.2L1770 685.9" stroke="#2020e0" stroke-width="1.7"/><path d="M1770 685.9L1773.15 688" stroke="#2020e0" stroke-width="1.7"/><path d="M1773.15 688L1776.3 690.1" stroke="#d0d0d0" stroke-width="1.7"/><circle cx="1705.7" cy="575.7" r="2.9" fill="url(#gH)"/><circle cx="1677" cy="591.9" r="2.9" fill="url(#gH)"/><circle cx="1734.9" cy="591.9" r="2.9" fill="url(#gH)"/><circle cx="1677" cy="624.3" r="2.9" fill="url(#gH)"/><circle cx="1734.9" cy="624.3" r="2.9" fill="url(#gH)"/><circle cx="1635.1" cy="690.1" r="2.9" fill="url(#gH)"/><circle cx="1776.3" cy="690.1" r="2.9" fill="url(#gH)"/><circle cx="1705.7" cy="588.7" r="5.4" fill="url(#gC)"/><circle cx="1689.5" cy="599.2" r="5.4" fill="url(#gC)"/><circle cx="1721.9" cy="599.2" r="5.4" fill="url(#gC)"/><circle cx="1689.5" cy="617" r="5.4" fill="url(#gC)"/><circle cx="1721.9" cy="617" r="5.4" fill="url(#gC)"/><circle cx="1705.7" cy="627.4" r="5.4" fill="url(#gC)"/><circle cx="1705.7" cy="645.7" r="5.4" fill="url(#gC)"/><circle cx="1688.4" cy="656.1" r="5.4" fill="url(#gC)"/><circle cx="1680.1" cy="661.3" r="5.4" fill="url(#gC)"/><circle cx="1664.4" cy="671.3" r="5.4" fill="url(#gC)"/><circle cx="1656" cy="676.5" r="5.4" fill="url(#gC)"/><circle cx="1723" cy="656.1" r="5.4" fill="url(#gC)"/><circle cx="1731.3" cy="661.3" r="5.4" fill="url(#gC)"/><circle cx="1747" cy="671.3" r="5.4" fill="url(#gC)"/><circle cx="1755.4" cy="676.5" r="5.4" fill="url(#gC)"/><circle cx="1641.4" cy="685.9" r="4.8" fill="url(#gN)"/><circle cx="1770" cy="685.9" r="4.8" fill="url(#gN)"/><circle cx="1685.2" cy="658.2" r="2.9" fill="url(#gH)"/><circle cx="1659.7" cy="675.2" r="2.9" fill="url(#gH)"/><circle cx="1726.2" cy="658.2" r="2.9" fill="url(#gH)"/><circle cx="1751.7" cy="675.2" r="2.9" fill="url(#gH)"/></g>
<g><path d="M1447.2 737.2L1439.85 741.65" stroke="#4ab6ad" stroke-width="1.7"/><path d="M1439.85 741.65L1432.5 746.1" stroke="#4ab6ad" stroke-width="1.7"/><path d="M1447.2 737.2L1453.2 742.95" stroke="#4ab6ad" stroke-width="1.7"/><path d="M1453.2 742.95L1459.2 748.7" stroke="#4ab6ad" stroke-width="1.7"/><path d="M1432.5 746.1L1431.5 755" stroke="#4ab6ad" stroke-width="1.7"/><path d="M1431.5 755L1430.5 763.9" stroke="#4ab6ad" stroke-width="1.7"/><path d="M1459.2 748.7L1457.9 757.35" stroke="#4ab6ad" stroke-width="1.7"/><path d="M1457.9 757.35L1456.6 766" stroke="#4ab6ad" stroke-width="1.7"/><path d="M1430.5 763.9L1436.2 770.15" stroke="#4ab6ad" stroke-width="1.7"/><path d="M1436.2 770.15L1441.9 776.4" stroke="#4ab6ad" stroke-width="1.7"/><path d="M1456.6 766L1449.25 771.2" stroke="#4ab6ad" stroke-width="1.7"/><path d="M1449.25 771.2L1441.9 776.4" stroke="#4ab6ad" stroke-width="1.7"/><path d="M1441.9 776.4L1440.6 785.55" stroke="#4ab6ad" stroke-width="1.7"/><path d="M1440.6 785.55L1439.3 794.7" stroke="#4ab6ad" stroke-width="1.7"/><path d="M1447.2 737.2L1447.95 730.45" stroke="#4ab6ad" stroke-width="1.7"/><path d="M1447.95 730.45L1448.7 723.7" stroke="#d0d0d0" stroke-width="1.7"/><path d="M1432.5 746.1L1427.8 742.2" stroke="#4ab6ad" stroke-width="1.7"/><path d="M1427.8 742.2L1423.1 738.3" stroke="#d0d0d0" stroke-width="1.7"/><path d="M1459.2 748.7L1465.2 745.85" stroke="#4ab6ad" stroke-width="1.7"/><path d="M1465.2 745.85L1471.2 743" stroke="#d0d0d0" stroke-width="1.7"/><path d="M1430.5 763.9L1425 767.3" stroke="#4ab6ad" stroke-width="1.7"/><path d="M1425 767.3L1419.5 770.7" stroke="#d0d0d0" stroke-width="1.7"/><path d="M1456.6 766L1461.8 770.45" stroke="#4ab6ad" stroke-width="1.7"/><path d="M1461.8 770.45L1467 774.9" stroke="#d0d0d0" stroke-width="1.7"/><path d="M1423.1 803.6L1414.75 798.9" stroke="#4ab6ad" stroke-width="1.7"/><path d="M1414.75 798.9L1406.4 794.2" stroke="#4ab6ad" stroke-width="1.7"/><path d="M1406.4 794.2L1398.3 798.9" stroke="#4ab6ad" stroke-width="1.7"/><path d="M1398.3 798.9L1390.2 803.6" stroke="#4ab6ad" stroke-width="1.7"/><path d="M1390.2 803.6L1389.15 813.25" stroke="#4ab6ad" stroke-width="1.7"/><path d="M1389.15 813.25L1388.1 822.9" stroke="#4ab6ad" stroke-width="1.7"/><path d="M1388.1 822.9L1396.75 827.1" stroke="#4ab6ad" stroke-width="1.7"/><path d="M1396.75 827.1L1405.4 831.3" stroke="#4ab6ad" stroke-width="1.7"/><path d="M1405.4 831.3L1413.5 826.85" stroke="#4ab6ad" stroke-width="1.7"/><path d="M1413.5 826.85L1421.6 822.4" stroke="#4ab6ad" stroke-width="1.7"/><path d="M1421.6 822.4L1422.35 813" stroke="#4ab6ad" stroke-width="1.7"/><path d="M1422.35 813L1423.1 803.6" stroke="#4ab6ad" stroke-width="1.7"/><path d="M1439.3 794.7L1431.2 799.15" stroke="#4ab6ad" stroke-width="1.7"/><path d="M1431.2 799.15L1423.1 803.6" stroke="#4ab6ad" stroke-width="1.7"/><path d="M1388.1 822.9L1380.55 826.55" stroke="#4ab6ad" stroke-width="1.7"/><path d="M1380.55 826.55L1373 830.2" stroke="#2020e0" stroke-width="1.7"/><path d="M1406.4 794.2L1406.65 787.65" stroke="#4ab6ad" stroke-width="1.7"/><path d="M1406.65 787.65L1406.9 781.1" stroke="#d0d0d0" stroke-width="1.7"/><path d="M1390.2 803.6L1385.75 799.4" stroke="#4ab6ad" stroke-width="1.7"/><path d="M1385.75 799.4L1381.3 795.2" stroke="#d0d0d0" stroke-width="1.7"/><path d="M1405.4 831.3L1404.85 838.1" stroke="#4ab6ad" stroke-width="1.7"/><path d="M1404.85 838.1L1404.3 844.9" stroke="#d0d0d0" stroke-width="1.7"/><path d="M1421.6 822.4L1427.35 826.3" stroke="#4ab6ad" stroke-width="1.7"/><path d="M1427.35 826.3L1433.1 830.2" stroke="#d0d0d0" stroke-width="1.7"/><path d="M1373 830.2L1367.25 826.8" stroke="#2020e0" stroke-width="1.7"/><path d="M1367.25 826.8L1361.5 823.4" stroke="#d0d0d0" stroke-width="1.7"/><path d="M1373 830.2L1372.45 836.75" stroke="#2020e0" stroke-width="1.7"/><path d="M1372.45 836.75L1371.9 843.3" stroke="#d0d0d0" stroke-width="1.7"/><path d="M1439.3 794.7L1447.65 799.95" stroke="#4ab6ad" stroke-width="1.7"/><path d="M1447.65 799.95L1456 805.2" stroke="#4ab6ad" stroke-width="1.7"/><path d="M1456 805.2L1460.45 808.05" stroke="#4ab6ad" stroke-width="1.7"/><path d="M1460.45 808.05L1464.9 810.9" stroke="#4ab6ad" stroke-width="1.7"/><path d="M1464.9 810.9L1472.25 815.6" stroke="#4ab6ad" stroke-width="1.7"/><path d="M1472.25 815.6L1479.6 820.3" stroke="#4ab6ad" stroke-width="1.7"/><path d="M1479.6 820.3L1484 822.9" stroke="#4ab6ad" stroke-width="1.7"/><path d="M1484 822.9L1488.4 825.5" stroke="#4ab6ad" stroke-width="1.7"/><path d="M1488.4 825.5L1495.75 830.2" stroke="#4ab6ad" stroke-width="1.7"/><path d="M1495.75 830.2L1503.1 834.9" stroke="#2020e0" stroke-width="1.7"/><path d="M1503.1 834.9L1506.2 837" stroke="#2020e0" stroke-width="1.7"/><path d="M1506.2 837L1509.3 839.1" stroke="#d0d0d0" stroke-width="1.7"/><circle cx="1448.7" cy="723.7" r="2.9" fill="url(#gH)"/><circle cx="1423.1" cy="738.3" r="2.9" fill="url(#gH)"/><circle cx="1471.2" cy="743" r="2.9" fill="url(#gH)"/><circle cx="1419.5" cy="770.7" r="2.9" fill="url(#gH)"/><circle cx="1467" cy="774.9" r="2.9" fill="url(#gH)"/><circle cx="1406.9" cy="781.1" r="2.9" fill="url(#gH)"/><circle cx="1381.3" cy="795.2" r="2.9" fill="url(#gH)"/><circle cx="1404.3" cy="844.9" r="2.9" fill="url(#gH)"/><circle cx="1433.1" cy="830.2" r="2.9" fill="url(#gH)"/><circle cx="1361.5" cy="823.4" r="2.9" fill="url(#gH)"/><circle cx="1371.9" cy="843.3" r="2.9" fill="url(#gH)"/><circle cx="1509.3" cy="839.1" r="2.9" fill="url(#gH)"/><circle cx="1447.2" cy="737.2" r="5.4" fill="url(#gC)"/><circle cx="1432.5" cy="746.1" r="5.4" fill="url(#gC)"/><circle cx="1459.2" cy="748.7" r="5.4" fill="url(#gC)"/><circle cx="1430.5" cy="763.9" r="5.4" fill="url(#gC)"/><circle cx="1456.6" cy="766" r="5.4" fill="url(#gC)"/><circle cx="1441.9" cy="776.4" r="5.4" fill="url(#gC)"/><circle cx="1439.3" cy="794.7" r="5.4" fill="url(#gC)"/><circle cx="1423.1" cy="803.6" r="5.4" fill="url(#gC)"/><circle cx="1406.4" cy="794.2" r="5.4" fill="url(#gC)"/><circle cx="1390.2" cy="803.6" r="5.4" fill="url(#gC)"/><circle cx="1388.1" cy="822.9" r="5.4" fill="url(#gC)"/><circle cx="1405.4" cy="831.3" r="5.4" fill="url(#gC)"/><circle cx="1421.6" cy="822.4" r="5.4" fill="url(#gC)"/><circle cx="1456" cy="805.2" r="5.4" fill="url(#gC)"/><circle cx="1464.9" cy="810.9" r="5.4" fill="url(#gC)"/><circle cx="1479.6" cy="820.3" r="5.4" fill="url(#gC)"/><circle cx="1488.4" cy="825.5" r="5.4" fill="url(#gC)"/><circle cx="1373" cy="830.2" r="4.8" fill="url(#gN)"/><circle cx="1503.1" cy="834.9" r="4.8" fill="url(#gN)"/><circle cx="1458.3" cy="807.2" r="2.9" fill="url(#gH)"/><circle cx="1485.8" cy="824.7" r="2.9" fill="url(#gH)"/></g>
<g><path d="M1591.12 969.2L1583.47 973.83" stroke="#4ab6ad" stroke-width="1.7"/><path d="M1583.47 973.83L1575.83 978.46" stroke="#4ab6ad" stroke-width="1.7"/><path d="M1591.12 969.2L1597.36 975.18" stroke="#4ab6ad" stroke-width="1.7"/><path d="M1597.36 975.18L1603.6 981.16" stroke="#4ab6ad" stroke-width="1.7"/><path d="M1575.83 978.46L1574.79 987.71" stroke="#4ab6ad" stroke-width="1.7"/><path d="M1574.79 987.71L1573.75 996.97" stroke="#4ab6ad" stroke-width="1.7"/><path d="M1603.6 981.16L1602.24 990.16" stroke="#4ab6ad" stroke-width="1.7"/><path d="M1602.24 990.16L1600.89 999.15" stroke="#4ab6ad" stroke-width="1.7"/><path d="M1573.75 996.97L1579.68 1003.47" stroke="#4ab6ad" stroke-width="1.7"/><path d="M1579.68 1003.47L1585.6 1009.97" stroke="#4ab6ad" stroke-width="1.7"/><path d="M1600.89 999.15L1593.25 1004.56" stroke="#4ab6ad" stroke-width="1.7"/><path d="M1593.25 1004.56L1585.6 1009.97" stroke="#4ab6ad" stroke-width="1.7"/><path d="M1585.6 1009.97L1584.25 1019.48" stroke="#4ab6ad" stroke-width="1.7"/><path d="M1584.25 1019.48L1582.9 1029" stroke="#4ab6ad" stroke-width="1.7"/><path d="M1591.12 969.2L1591.9 962.18" stroke="#4ab6ad" stroke-width="1.7"/><path d="M1591.9 962.18L1592.68 955.16" stroke="#d0d0d0" stroke-width="1.7"/><path d="M1575.83 978.46L1570.94 974.4" stroke="#4ab6ad" stroke-width="1.7"/><path d="M1570.94 974.4L1566.05 970.34" stroke="#d0d0d0" stroke-width="1.7"/><path d="M1603.6 981.16L1609.84 978.2" stroke="#4ab6ad" stroke-width="1.7"/><path d="M1609.84 978.2L1616.08 975.23" stroke="#d0d0d0" stroke-width="1.7"/><path d="M1573.75 996.97L1568.03 1000.5" stroke="#4ab6ad" stroke-width="1.7"/><path d="M1568.03 1000.5L1562.31 1004.04" stroke="#d0d0d0" stroke-width="1.7"/><path d="M1600.89 999.15L1606.3 1003.78" stroke="#4ab6ad" stroke-width="1.7"/><path d="M1606.3 1003.78L1611.71 1008.41" stroke="#d0d0d0" stroke-width="1.7"/><path d="M1566.05 1038.26L1557.37 1033.37" stroke="#4ab6ad" stroke-width="1.7"/><path d="M1557.37 1033.37L1548.68 1028.48" stroke="#4ab6ad" stroke-width="1.7"/><path d="M1548.68 1028.48L1540.26 1033.37" stroke="#4ab6ad" stroke-width="1.7"/><path d="M1540.26 1033.37L1531.84 1038.26" stroke="#4ab6ad" stroke-width="1.7"/><path d="M1531.84 1038.26L1530.74 1048.29" stroke="#4ab6ad" stroke-width="1.7"/><path d="M1530.74 1048.29L1529.65 1058.33" stroke="#4ab6ad" stroke-width="1.7"/><path d="M1529.65 1058.33L1538.65 1062.7" stroke="#4ab6ad" stroke-width="1.7"/><path d="M1538.65 1062.7L1547.64 1067.06" stroke="#4ab6ad" stroke-width="1.7"/><path d="M1547.64 1067.06L1556.07 1062.44" stroke="#4ab6ad" stroke-width="1.7"/><path d="M1556.07 1062.44L1564.49 1057.81" stroke="#4ab6ad" stroke-width="1.7"/><path d="M1564.49 1057.81L1565.27 1048.03" stroke="#4ab6ad" stroke-width="1.7"/><path d="M1565.27 1048.03L1566.05 1038.26" stroke="#4ab6ad" stroke-width="1.7"/><path d="M1582.9 1029L1574.48 1033.63" stroke="#4ab6ad" stroke-width="1.7"/><path d="M1574.48 1033.63L1566.05 1038.26" stroke="#4ab6ad" stroke-width="1.7"/><path d="M1529.65 1058.33L1521.8 1062.12" stroke="#4ab6ad" stroke-width="1.7"/><path d="M1521.8 1062.12L1513.95 1065.92" stroke="#2020e0" stroke-width="1.7"/><path d="M1548.68 1028.48L1548.94 1021.67" stroke="#4ab6ad" stroke-width="1.7"/><path d="M1548.94 1021.67L1549.2 1014.86" stroke="#d0d0d0" stroke-width="1.7"/><path d="M1531.84 1038.26L1527.21 1033.89" stroke="#4ab6ad" stroke-width="1.7"/><path d="M1527.21 1033.89L1522.58 1029.52" stroke="#d0d0d0" stroke-width="1.7"/><path d="M1547.64 1067.06L1547.07 1074.14" stroke="#4ab6ad" stroke-width="1.7"/><path d="M1547.07 1074.14L1546.5 1081.21" stroke="#d0d0d0" stroke-width="1.7"/><path d="M1564.49 1057.81L1570.47 1061.86" stroke="#4ab6ad" stroke-width="1.7"/><path d="M1570.47 1061.86L1576.45 1065.92" stroke="#d0d0d0" stroke-width="1.7"/><path d="M1513.95 1065.92L1507.97 1062.38" stroke="#2020e0" stroke-width="1.7"/><path d="M1507.97 1062.38L1501.99 1058.85" stroke="#d0d0d0" stroke-width="1.7"/><path d="M1513.95 1065.92L1513.38 1072.73" stroke="#2020e0" stroke-width="1.7"/><path d="M1513.38 1072.73L1512.8 1079.54" stroke="#d0d0d0" stroke-width="1.7"/><path d="M1582.9 1029L1591.58 1034.46" stroke="#4ab6ad" stroke-width="1.7"/><path d="M1591.58 1034.46L1600.27 1039.92" stroke="#4ab6ad" stroke-width="1.7"/><path d="M1600.27 1039.92L1604.9 1042.88" stroke="#4ab6ad" stroke-width="1.7"/><path d="M1604.9 1042.88L1609.52 1045.85" stroke="#4ab6ad" stroke-width="1.7"/><path d="M1609.52 1045.85L1617.17 1050.74" stroke="#4ab6ad" stroke-width="1.7"/><path d="M1617.17 1050.74L1624.81 1055.62" stroke="#4ab6ad" stroke-width="1.7"/><path d="M1624.81 1055.62L1629.39 1058.33" stroke="#4ab6ad" stroke-width="1.7"/><path d="M1629.39 1058.33L1633.96 1061.03" stroke="#4ab6ad" stroke-width="1.7"/><path d="M1633.96 1061.03L1641.61 1065.92" stroke="#4ab6ad" stroke-width="1.7"/><path d="M1641.61 1065.92L1649.25 1070.81" stroke="#2020e0" stroke-width="1.7"/><path d="M1649.25 1070.81L1652.48 1072.99" stroke="#2020e0" stroke-width="1.7"/><path d="M1652.48 1072.99L1655.7 1075.18" stroke="#d0d0d0" stroke-width="1.7"/><circle cx="1592.68" cy="955.16" r="2.9" fill="url(#gH)"/><circle cx="1566.05" cy="970.34" r="2.9" fill="url(#gH)"/><circle cx="1616.08" cy="975.23" r="2.9" fill="url(#gH)"/><circle cx="1562.31" cy="1004.04" r="2.9" fill="url(#gH)"/><circle cx="1611.71" cy="1008.41" r="2.9" fill="url(#gH)"/><circle cx="1549.2" cy="1014.86" r="2.9" fill="url(#gH)"/><circle cx="1522.58" cy="1029.52" r="2.9" fill="url(#gH)"/><circle cx="1546.5" cy="1081.21" r="2.9" fill="url(#gH)"/><circle cx="1576.45" cy="1065.92" r="2.9" fill="url(#gH)"/><circle cx="1501.99" cy="1058.85" r="2.9" fill="url(#gH)"/><circle cx="1512.8" cy="1079.54" r="2.9" fill="url(#gH)"/><circle cx="1655.7" cy="1075.18" r="2.9" fill="url(#gH)"/><circle cx="1591.12" cy="969.2" r="5.4" fill="url(#gC)"/><circle cx="1575.83" cy="978.46" r="5.4" fill="url(#gC)"/><circle cx="1603.6" cy="981.16" r="5.4" fill="url(#gC)"/><circle cx="1573.75" cy="996.97" r="5.4" fill="url(#gC)"/><circle cx="1600.89" cy="999.15" r="5.4" fill="url(#gC)"/><circle cx="1585.6" cy="1009.97" r="5.4" fill="url(#gC)"/><circle cx="1582.9" cy="1029" r="5.4" fill="url(#gC)"/><circle cx="1566.05" cy="1038.26" r="5.4" fill="url(#gC)"/><circle cx="1548.68" cy="1028.48" r="5.4" fill="url(#gC)"/><circle cx="1531.84" cy="1038.26" r="5.4" fill="url(#gC)"/><circle cx="1529.65" cy="1058.33" r="5.4" fill="url(#gC)"/><circle cx="1547.64" cy="1067.06" r="5.4" fill="url(#gC)"/><circle cx="1564.49" cy="1057.81" r="5.4" fill="url(#gC)"/><circle cx="1600.27" cy="1039.92" r="5.4" fill="url(#gC)"/><circle cx="1609.52" cy="1045.85" r="5.4" fill="url(#gC)"/><circle cx="1624.81" cy="1055.62" r="5.4" fill="url(#gC)"/><circle cx="1633.96" cy="1061.03" r="5.4" fill="url(#gC)"/><circle cx="1513.95" cy="1065.92" r="4.8" fill="url(#gN)"/><circle cx="1649.25" cy="1070.81" r="4.8" fill="url(#gN)"/><circle cx="1602.66" cy="1042" r="2.9" fill="url(#gH)"/><circle cx="1631.26" cy="1060.2" r="2.9" fill="url(#gH)"/></g>
<g><path d="M1302.3 1167.4L1296.15 1172.45" stroke="#4ab6ad" stroke-width="1.7"/><path d="M1296.15 1172.45L1290 1177.5" stroke="#4ab6ad" stroke-width="1.7"/><path d="M1302.3 1167.4L1308.2 1172.45" stroke="#4ab6ad" stroke-width="1.7"/><path d="M1308.2 1172.45L1314.1 1177.5" stroke="#4ab6ad" stroke-width="1.7"/><path d="M1290 1177.5L1290 1186.75" stroke="#4ab6ad" stroke-width="1.7"/><path d="M1290 1186.75L1290 1196" stroke="#4ab6ad" stroke-width="1.7"/><path d="M1314.1 1177.5L1314.1 1186.75" stroke="#4ab6ad" stroke-width="1.7"/><path d="M1314.1 1186.75L1314.1 1196" stroke="#4ab6ad" stroke-width="1.7"/><path d="M1290 1196L1296.15 1201" stroke="#4ab6ad" stroke-width="1.7"/><path d="M1296.15 1201L1302.3 1206" stroke="#4ab6ad" stroke-width="1.7"/><path d="M1314.1 1196L1308.2 1201" stroke="#4ab6ad" stroke-width="1.7"/><path d="M1308.2 1201L1302.3 1206" stroke="#4ab6ad" stroke-width="1.7"/><path d="M1302.3 1206L1302.3 1216.1" stroke="#4ab6ad" stroke-width="1.7"/><path d="M1302.3 1216.1L1302.3 1226.2" stroke="#4ab6ad" stroke-width="1.7"/><path d="M1302.3 1167.4L1302.3 1160.4" stroke="#4ab6ad" stroke-width="1.7"/><path d="M1302.3 1160.4L1302.3 1153.4" stroke="#d0d0d0" stroke-width="1.7"/><path d="M1290 1177.5L1285.5 1173.85" stroke="#4ab6ad" stroke-width="1.7"/><path d="M1285.5 1173.85L1281 1170.2" stroke="#d0d0d0" stroke-width="1.7"/><path d="M1314.1 1177.5L1318.85 1173.85" stroke="#4ab6ad" stroke-width="1.7"/><path d="M1318.85 1173.85L1323.6 1170.2" stroke="#d0d0d0" stroke-width="1.7"/><path d="M1290 1196L1285.5 1199.9" stroke="#4ab6ad" stroke-width="1.7"/><path d="M1285.5 1199.9L1281 1203.8" stroke="#d0d0d0" stroke-width="1.7"/><path d="M1314.1 1196L1318.85 1199.9" stroke="#4ab6ad" stroke-width="1.7"/><path d="M1318.85 1199.9L1323.6 1203.8" stroke="#d0d0d0" stroke-width="1.7"/><path d="M1285.5 1235.7L1277.1 1232.05" stroke="#4ab6ad" stroke-width="1.7"/><path d="M1277.1 1232.05L1268.7 1228.4" stroke="#4ab6ad" stroke-width="1.7"/><path d="M1268.7 1228.4L1260.9 1232.9" stroke="#4ab6ad" stroke-width="1.7"/><path d="M1260.9 1232.9L1253.1 1237.4" stroke="#4ab6ad" stroke-width="1.7"/><path d="M1253.1 1237.4L1252.25 1246.05" stroke="#4ab6ad" stroke-width="1.7"/><path d="M1252.25 1246.05L1251.4 1254.7" stroke="#4ab6ad" stroke-width="1.7"/><path d="M1251.4 1254.7L1258.95 1258.9" stroke="#4ab6ad" stroke-width="1.7"/><path d="M1258.95 1258.9L1266.5 1263.1" stroke="#4ab6ad" stroke-width="1.7"/><path d="M1266.5 1263.1L1274.9 1258.35" stroke="#4ab6ad" stroke-width="1.7"/><path d="M1274.9 1258.35L1283.3 1253.6" stroke="#4ab6ad" stroke-width="1.7"/><path d="M1283.3 1253.6L1284.4 1244.65" stroke="#4ab6ad" stroke-width="1.7"/><path d="M1284.4 1244.65L1285.5 1235.7" stroke="#4ab6ad" stroke-width="1.7"/><path d="M1302.3 1226.2L1293.9 1230.95" stroke="#4ab6ad" stroke-width="1.7"/><path d="M1293.9 1230.95L1285.5 1235.7" stroke="#4ab6ad" stroke-width="1.7"/><path d="M1251.4 1254.7L1243.25 1258.9" stroke="#4ab6ad" stroke-width="1.7"/><path d="M1243.25 1258.9L1235.1 1263.1" stroke="#2020e0" stroke-width="1.7"/><path d="M1268.7 1228.4L1269.55 1221.7" stroke="#4ab6ad" stroke-width="1.7"/><path d="M1269.55 1221.7L1270.4 1215" stroke="#d0d0d0" stroke-width="1.7"/><path d="M1253.1 1237.4L1247.2 1234.3" stroke="#4ab6ad" stroke-width="1.7"/><path d="M1247.2 1234.3L1241.3 1231.2" stroke="#d0d0d0" stroke-width="1.7"/><path d="M1266.5 1263.1L1265.95 1269.55" stroke="#4ab6ad" stroke-width="1.7"/><path d="M1265.95 1269.55L1265.4 1276" stroke="#d0d0d0" stroke-width="1.7"/><path d="M1283.3 1253.6L1288.9 1256.7" stroke="#4ab6ad" stroke-width="1.7"/><path d="M1288.9 1256.7L1294.5 1259.8" stroke="#d0d0d0" stroke-width="1.7"/><path d="M1235.1 1263.1L1229.8 1260.3" stroke="#2020e0" stroke-width="1.7"/><path d="M1229.8 1260.3L1224.5 1257.5" stroke="#d0d0d0" stroke-width="1.7"/><path d="M1235.1 1263.1L1234.3 1269.55" stroke="#2020e0" stroke-width="1.7"/><path d="M1234.3 1269.55L1233.5 1276" stroke="#d0d0d0" stroke-width="1.7"/><path d="M1319.1 1235.7L1327.5 1232.05" stroke="#4ab6ad" stroke-width="1.7"/><path d="M1327.5 1232.05L1335.9 1228.4" stroke="#4ab6ad" stroke-width="1.7"/><path d="M1335.9 1228.4L1343.7 1232.9" stroke="#4ab6ad" stroke-width="1.7"/><path d="M1343.7 1232.9L1351.5 1237.4" stroke="#4ab6ad" stroke-width="1.7"/><path d="M1351.5 1237.4L1352.35 1246.05" stroke="#4ab6ad" stroke-width="1.7"/><path d="M1352.35 1246.05L1353.2 1254.7" stroke="#4ab6ad" stroke-width="1.7"/><path d="M1353.2 1254.7L1345.65 1258.9" stroke="#4ab6ad" stroke-width="1.7"/><path d="M1345.65 1258.9L1338.1 1263.1" stroke="#4ab6ad" stroke-width="1.7"/><path d="M1338.1 1263.1L1329.7 1258.35" stroke="#4ab6ad" stroke-width="1.7"/><path d="M1329.7 1258.35L1321.3 1253.6" stroke="#4ab6ad" stroke-width="1.7"/><path d="M1321.3 1253.6L1320.2 1244.65" stroke="#4ab6ad" stroke-width="1.7"/><path d="M1320.2 1244.65L1319.1 1235.7" stroke="#4ab6ad" stroke-width="1.7"/><path d="M1302.3 1226.2L1310.7 1230.95" stroke="#4ab6ad" stroke-width="1.7"/><path d="M1310.7 1230.95L1319.1 1235.7" stroke="#4ab6ad" stroke-width="1.7"/><path d="M1353.2 1254.7L1361.35 1258.9" stroke="#4ab6ad" stroke-width="1.7"/><path d="M1361.35 1258.9L1369.5 1263.1" stroke="#2020e0" stroke-width="1.7"/><path d="M1335.9 1228.4L1335.05 1221.7" stroke="#4ab6ad" stroke-width="1.7"/><path d="M1335.05 1221.7L1334.2 1215" stroke="#d0d0d0" stroke-width="1.7"/><path d="M1351.5 1237.4L1357.4 1234.3" stroke="#4ab6ad" stroke-width="1.7"/><path d="M1357.4 1234.3L1363.3 1231.2" stroke="#d0d0d0" stroke-width="1.7"/><path d="M1338.1 1263.1L1338.65 1269.55" stroke="#4ab6ad" stroke-width="1.7"/><path d="M1338.65 1269.55L1339.2 1276" stroke="#d0d0d0" stroke-width="1.7"/><path d="M1321.3 1253.6L1315.7 1256.7" stroke="#4ab6ad" stroke-width="1.7"/><path d="M1315.7 1256.7L1310.1 1259.8" stroke="#d0d0d0" stroke-width="1.7"/><path d="M1369.5 1263.1L1374.8 1260.3" stroke="#2020e0" stroke-width="1.7"/><path d="M1374.8 1260.3L1380.1 1257.5" stroke="#d0d0d0" stroke-width="1.7"/><path d="M1369.5 1263.1L1370.3 1269.55" stroke="#2020e0" stroke-width="1.7"/><path d="M1370.3 1269.55L1371.1 1276" stroke="#d0d0d0" stroke-width="1.7"/><circle cx="1302.3" cy="1153.4" r="2.9" fill="url(#gH)"/><circle cx="1281" cy="1170.2" r="2.9" fill="url(#gH)"/><circle cx="1323.6" cy="1170.2" r="2.9" fill="url(#gH)"/><circle cx="1281" cy="1203.8" r="2.9" fill="url(#gH)"/><circle cx="1323.6" cy="1203.8" r="2.9" fill="url(#gH)"/><circle cx="1270.4" cy="1215" r="2.9" fill="url(#gH)"/><circle cx="1241.3" cy="1231.2" r="2.9" fill="url(#gH)"/><circle cx="1265.4" cy="1276" r="2.9" fill="url(#gH)"/><circle cx="1294.5" cy="1259.8" r="2.9" fill="url(#gH)"/><circle cx="1224.5" cy="1257.5" r="2.9" fill="url(#gH)"/><circle cx="1233.5" cy="1276" r="2.9" fill="url(#gH)"/><circle cx="1334.2" cy="1215" r="2.9" fill="url(#gH)"/><circle cx="1363.3" cy="1231.2" r="2.9" fill="url(#gH)"/><circle cx="1339.2" cy="1276" r="2.9" fill="url(#gH)"/><circle cx="1310.1" cy="1259.8" r="2.9" fill="url(#gH)"/><circle cx="1380.1" cy="1257.5" r="2.9" fill="url(#gH)"/><circle cx="1371.1" cy="1276" r="2.9" fill="url(#gH)"/><circle cx="1302.3" cy="1167.4" r="5.4" fill="url(#gC)"/><circle cx="1290" cy="1177.5" r="5.4" fill="url(#gC)"/><circle cx="1314.1" cy="1177.5" r="5.4" fill="url(#gC)"/><circle cx="1290" cy="1196" r="5.4" fill="url(#gC)"/><circle cx="1314.1" cy="1196" r="5.4" fill="url(#gC)"/><circle cx="1302.3" cy="1206" r="5.4" fill="url(#gC)"/><circle cx="1302.3" cy="1226.2" r="5.4" fill="url(#gC)"/><circle cx="1285.5" cy="1235.7" r="5.4" fill="url(#gC)"/><circle cx="1268.7" cy="1228.4" r="5.4" fill="url(#gC)"/><circle cx="1253.1" cy="1237.4" r="5.4" fill="url(#gC)"/><circle cx="1251.4" cy="1254.7" r="5.4" fill="url(#gC)"/><circle cx="1266.5" cy="1263.1" r="5.4" fill="url(#gC)"/><circle cx="1283.3" cy="1253.6" r="5.4" fill="url(#gC)"/><circle cx="1319.1" cy="1235.7" r="5.4" fill="url(#gC)"/><circle cx="1335.9" cy="1228.4" r="5.4" fill="url(#gC)"/><circle cx="1351.5" cy="1237.4" r="5.4" fill="url(#gC)"/><circle cx="1353.2" cy="1254.7" r="5.4" fill="url(#gC)"/><circle cx="1338.1" cy="1263.1" r="5.4" fill="url(#gC)"/><circle cx="1321.3" cy="1253.6" r="5.4" fill="url(#gC)"/><circle cx="1235.1" cy="1263.1" r="4.8" fill="url(#gN)"/><circle cx="1369.5" cy="1263.1" r="4.8" fill="url(#gN)"/></g>
<path d="M1384.9 134.2 C1386.08 141.28 1389.63 162.52 1392 176.7 C1394.37 190.88 1396.73 206.05 1399.1 219.3 C1401.47 232.55 1403.6 244.38 1406.2 256.2 C1408.8 268.02 1411.87 279.33 1414.7 290.2 C1417.53 301.07 1420.37 311.47 1423.2 321.4 C1426.03 331.33 1428.38 339.4 1431.7 349.8 C1435.02 360.2 1439.32 372.93 1443.1 383.8 C1446.88 394.67 1450.62 405.53 1454.4 415 C1458.18 424.47 1462.02 433.03 1465.8 440.6 C1469.58 448.17 1473.32 454.73 1477.1 460.4 C1480.88 466.07 1484.23 470.58 1488.5 474.6 C1492.77 478.62 1497.98 482.13 1502.7 484.5 C1507.42 486.87 1512.08 487.95 1516.8 488.8 C1521.52 489.65 1526.27 489.7 1531 489.6 C1535.73 489.5 1540.47 489.05 1545.2 488.2 C1549.93 487.35 1554.67 486.05 1559.4 484.5 C1564.13 482.95 1568.87 481.02 1573.6 478.9 C1578.33 476.78 1583.07 474.4 1587.8 471.8 C1592.53 469.2 1597.28 466.62 1602 463.3 C1606.72 459.98 1611.38 456.17 1616.1 451.9 C1620.82 447.63 1626.32 441.77 1630.3 437.7 C1634.28 433.63 1635.52 432.37 1640 427.5 C1644.48 422.63 1651.48 414.52 1657.2 408.5 C1662.92 402.48 1668.58 397.27 1674.3 391.4 C1680.02 385.53 1685.78 379.17 1691.5 373.3 C1697.22 367.43 1702.88 361.92 1708.6 356.2 C1714.32 350.48 1720.07 344.43 1725.8 339 C1731.53 333.57 1737.28 328.47 1743 323.6 C1748.72 318.73 1754.38 314.38 1760.1 309.8 C1765.82 305.22 1771.57 300.38 1777.3 296.1 C1783.03 291.82 1788.78 287.97 1794.5 284.1 C1800.22 280.23 1805.88 276.48 1811.6 272.9 C1817.32 269.32 1823.08 265.88 1828.8 262.6 C1834.52 259.32 1840.18 256.2 1845.9 253.2 C1851.62 250.2 1857.37 247.47 1863.1 244.6 C1868.83 241.73 1874.58 238.57 1880.3 236 C1886.02 233.43 1891.68 231.2 1897.4 229.2 C1903.12 227.2 1909.17 225.43 1914.6 224 C1920.03 222.57 1927.43 221.17 1930 220.6" fill="none" stroke="#c6f1da" stroke-width="3.8" stroke-opacity="0.85" stroke-linecap="round"/>
<path d="M1300.8 501.3 C1301.83 507.92 1305.02 528.72 1307 541 C1308.98 553.28 1310.82 565.08 1312.7 575 C1314.58 584.92 1315.95 590.1 1318.3 600.5 C1320.65 610.9 1323.95 625.58 1326.8 637.4 C1329.65 649.22 1333.27 662.9 1335.4 671.4 C1337.53 679.9 1337.72 681.32 1339.6 688.4 C1341.48 695.48 1343.15 703.03 1346.7 713.9 C1350.25 724.77 1356.18 741.32 1360.9 753.6 C1365.62 765.88 1370.28 777.68 1375 787.6 C1379.72 797.52 1384.47 805.53 1389.2 813.1 C1393.93 820.67 1398.68 827.57 1403.4 833 C1408.12 838.43 1412.78 842.4 1417.5 845.7 C1422.22 849 1426.5 851.15 1431.7 852.8 C1436.9 854.45 1443.03 855.6 1448.7 855.6 C1454.37 855.6 1460.08 854.33 1465.7 852.8 C1471.32 851.27 1475.88 849.52 1482.4 846.4 C1488.92 843.28 1497.33 838.75 1504.8 834.1 C1512.27 829.45 1519.75 824.1 1527.2 818.5 C1534.65 812.9 1542.05 806.85 1549.5 800.5 C1556.95 794.15 1564.43 787.48 1571.9 780.4 C1579.37 773.32 1586.83 765.47 1594.3 758 C1601.77 750.53 1609.23 743.05 1616.7 735.6 C1624.17 728.15 1631.63 720.2 1639.1 713.3 C1646.57 706.4 1654.05 700.55 1661.5 694.2 C1668.95 687.85 1676.35 681.72 1683.8 675.2 C1691.25 668.68 1698.73 661.25 1706.2 655.1 C1713.67 648.95 1721.13 643.72 1728.6 638.3 C1736.07 632.88 1743.53 627.27 1751 622.6 C1758.47 617.93 1765.93 614.03 1773.4 610.3 C1780.87 606.57 1788.35 603.18 1795.8 600.2 C1803.25 597.22 1809.72 594.63 1818.1 592.4 C1826.48 590.17 1841.43 587.73 1846.1 586.8" fill="none" stroke="#45c425" stroke-width="4.8" stroke-linecap="round"/>
<path d="M1179.9 907 C1181.08 913.62 1184.87 933.95 1187 946.7 C1189.13 959.45 1190.82 972.17 1192.7 983.5 C1194.58 994.83 1195.95 1002.88 1198.3 1014.7 C1200.65 1026.52 1203.95 1042.58 1206.8 1054.4 C1209.65 1066.22 1212.08 1073.78 1215.4 1085.6 C1218.72 1097.42 1222.45 1112.07 1226.7 1125.3 C1230.95 1138.53 1236.18 1152.72 1240.9 1165 C1245.62 1177.28 1250.28 1189.08 1255 1199 C1259.72 1208.92 1264.47 1217.42 1269.2 1224.5 C1273.93 1231.58 1278.68 1236.78 1283.4 1241.5 C1288.12 1246.22 1292.78 1249.97 1297.5 1252.8 C1302.22 1255.63 1306.5 1257.27 1311.7 1258.5 C1316.9 1259.73 1323.03 1260.23 1328.7 1260.2 C1334.37 1260.17 1338.82 1260.58 1345.7 1258.3 C1352.58 1256.02 1360.95 1251.97 1370 1246.5 C1379.05 1241.03 1390 1233.25 1400 1225.5 C1410 1217.75 1420 1208.92 1430 1200 C1440 1191.08 1450 1181.17 1460 1172 C1470 1162.83 1480 1154 1490 1145 C1500 1136 1510 1126.83 1520 1118 C1530 1109.17 1539.7 1100.92 1550 1092 C1560.3 1083.08 1573.02 1071.7 1581.8 1064.5 C1590.58 1057.3 1595.73 1053.5 1602.7 1048.8 C1609.67 1044.1 1616.63 1040.3 1623.6 1036.3 C1630.57 1032.3 1637.53 1028.37 1644.5 1024.8 C1651.47 1021.23 1658.43 1018.22 1665.4 1014.9 C1672.37 1011.58 1679.33 1007.78 1686.3 1004.9 C1693.27 1002.02 1700.67 999.68 1707.2 997.6 C1713.73 995.52 1722.45 993.27 1725.5 992.4" fill="none" stroke="#33851f" stroke-width="5.0" stroke-linecap="round"/>
<path d="M1436.7 248.7 C1437.65 253.05 1440.2 265.48 1442.4 274.8 C1444.6 284.12 1446.67 294.15 1449.9 304.6 C1453.13 315.05 1457.33 326.8 1461.8 337.5 C1466.27 348.2 1471.91 358.87 1476.7 368.8 C1481.49 378.73 1488.21 392.36 1490.51 397.08" fill="none" stroke="#000" stroke-width="3.2"/><polygon points="1478.2,394.2 1503.6,415.1 1491.6,384.5" fill="#000"/>
<path d="M1606.5 687 C1604.42 690.13 1598.32 699.68 1594 705.8 C1589.68 711.92 1585.08 718.33 1580.6 723.7 C1576.12 729.07 1573.79 731.63 1567.1 738 C1560.41 744.37 1544.9 757.95 1540.46 761.95" fill="none" stroke="#000" stroke-width="2.8"/><polygon points="1544.8,749.7 1521,774.3 1552.8,763.6" fill="#000"/>
<path d="M1476.6 1091.9 C1475.43 1093.77 1472.27 1099.37 1469.6 1103.1 C1466.93 1106.83 1463.97 1110.18 1460.6 1114.3 C1457.23 1118.42 1454.13 1122.82 1449.4 1127.8 C1444.67 1132.78 1437.08 1139.42 1432.2 1144.2 C1427.32 1148.98 1422.13 1154.42 1420.12 1156.46" fill="none" stroke="#000" stroke-width="2.7"/><polygon points="1424.8,1144.9 1400.1,1167.7 1432.6,1158.4" fill="#000"/>
<path d="M1603.4 467.8 C1605.83 469.3 1613.7 472.88 1618 476.8 C1622.3 480.72 1626.03 486.27 1629.2 491.3 C1632.37 496.33 1634.77 501.02 1637 507 C1639.23 512.98 1640.92 521.03 1642.6 527.2 C1644.28 533.37 1645.82 536.62 1647.1 544 C1648.38 551.38 1649.74 566.92 1650.26 571.5" fill="none" stroke="#828282" stroke-width="3.8"/><polygon points="1638.7,561.9 1653.8,596.6 1658.8,559.6" fill="#828282"/>
<path d="M1510.6 805 C1513.5 809.38 1522.68 822.07 1528 831.3 C1533.32 840.53 1538.77 850.7 1542.5 860.4 C1546.23 870.1 1548.43 880.96 1550.4 889.5 C1552.37 898.04 1553.65 907.95 1554.3 911.64" fill="none" stroke="#828282" stroke-width="3.4"/><polygon points="1545.3,903.5 1557,933.2 1561,901.3" fill="#828282"/>
<text transform="translate(1233.82,256.1)" font-family='"Liberation Sans", Arial, sans-serif' font-weight="bold" font-size="35" fill="#8c42f6">pump</text>
<text transform="translate(1662.17,498.6)" font-family='"Liberation Serif", "Times New Roman", serif' font-weight="bold" font-size="35.5" fill="#7c7c7c">0.2 ps</text>
<text transform="translate(1564.6,868.3) scale(0.9819,1)" font-family='"Liberation Sans", Arial, sans-serif' font-weight="bold" font-size="35.6" fill="#7e7e7e">0.6 ps</text>
<text transform="translate(1949.62,223.2) scale(1.0265,1)" font-family='"Liberation Serif", "Times New Roman", serif' font-weight="bold" font-size="53.5" fill="#78d4ac">S</text>
<text transform="translate(1979.28,237.6) scale(1.0290,1)" font-family='"Liberation Serif", "Times New Roman", serif' font-weight="bold" font-size="37" fill="#78d4ac">2</text>
<text transform="translate(1864.08,590.2) scale(1.0386,1)" font-family='"Liberation Serif", "Times New Roman", serif' font-weight="bold" font-size="53.5" fill="#44c424">S</text>
<text transform="translate(1894.41,604.6) scale(0.9413,1)" font-family='"Liberation Serif", "Times New Roman", serif' font-weight="bold" font-size="37" fill="#44c424">1</text>
<text transform="translate(1737.98,1000.5) scale(1.0386,1)" font-family='"Liberation Serif", "Times New Roman", serif' font-weight="bold" font-size="53.5" fill="#32841e">S</text>
<text transform="translate(1767.88,1015) scale(1.0238,1)" font-family='"Liberation Serif", "Times New Roman", serif' font-weight="bold" font-size="37" fill="#32841e">0</text>
<text transform="translate(1197.22,38)" font-family='"Liberation Sans", Arial, sans-serif' font-weight="bold" font-size="47" fill="#000">e</text>
</svg></body></html>
